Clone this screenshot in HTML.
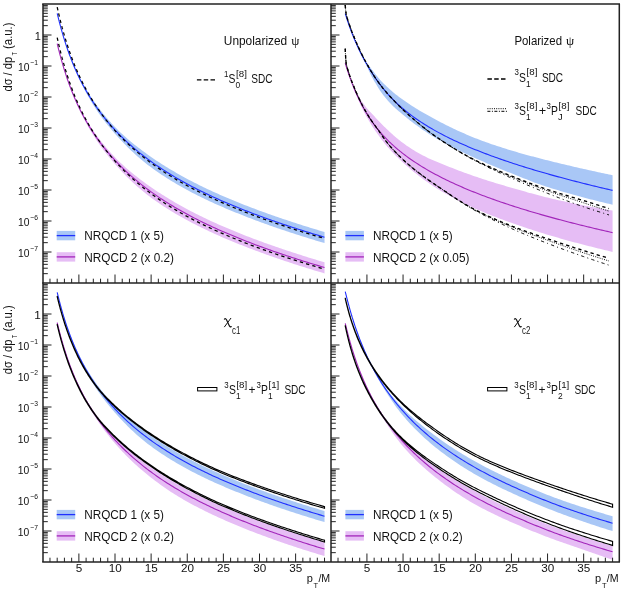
<!DOCTYPE html>
<html><head><meta charset="utf-8"><title>plot</title>
<style>html,body{margin:0;padding:0;background:#fff}svg{display:block;will-change:transform}text{fill:#111}</style></head>
<body><svg width="623" height="590" viewBox="0 0 623 590">
<rect width="623" height="590" fill="#fff"/>
<defs>
<clipPath id="cTL"><rect x="43.0" y="4.0" width="288.0" height="279.0"/></clipPath>
<clipPath id="cTR"><rect x="331.0" y="4.0" width="288.29999999999995" height="279.0"/></clipPath>
<clipPath id="cBL"><rect x="43.0" y="283.0" width="288.0" height="279.0"/></clipPath>
<clipPath id="cBR"><rect x="331.0" y="283.0" width="288.29999999999995" height="279.0"/></clipPath>
</defs>
<g clip-path="url(#cTL)">
<path d="M57.20 13.03 L57.34 13.64 L57.49 14.24 L57.63 14.83 L57.78 15.42 L57.92 16.01 L58.07 16.60 L58.21 17.18 L58.36 17.76 L58.50 18.34 L58.65 18.91 L58.79 19.48 L58.93 20.04 L59.08 20.61 L59.22 21.17 L59.37 21.72 L59.51 22.27 L59.66 22.82 L59.80 23.37 L59.95 23.91 L60.09 24.45 L60.23 24.99 L60.38 25.52 L60.52 26.05 L60.67 26.58 L60.81 27.11 L60.96 27.63 L61.10 28.15 L61.25 28.66 L61.39 29.18 L61.54 29.69 L61.68 30.19 L61.82 30.70 L61.97 31.20 L62.11 31.70 L62.26 32.19 L62.40 32.69 L62.55 33.18 L62.69 33.66 L62.84 34.15 L62.98 34.63 L63.12 35.11 L63.27 35.59 L63.41 36.06 L63.56 36.53 L63.70 37.00 L63.85 37.47 L63.99 37.93 L64.14 38.40 L64.28 38.86 L64.42 39.31 L65.15 41.56 L65.87 43.75 L66.59 45.89 L67.31 47.97 L68.04 50.01 L68.76 51.99 L69.48 53.93 L70.21 55.82 L70.93 57.67 L71.65 59.48 L72.37 61.25 L73.09 62.99 L73.82 64.69 L74.54 66.35 L75.26 67.98 L75.99 69.57 L76.71 71.14 L77.43 72.68 L78.15 74.19 L78.88 75.67 L79.60 77.12 L80.32 78.54 L81.04 79.93 L81.77 81.30 L82.49 82.63 L83.21 83.95 L83.93 85.24 L84.66 86.51 L85.38 87.75 L86.10 88.98 L86.82 90.19 L87.55 91.37 L88.27 92.54 L88.99 93.70 L89.71 94.83 L90.44 95.95 L91.16 97.05 L91.88 98.14 L92.60 99.22 L93.33 100.28 L94.05 101.33 L94.77 102.36 L95.49 103.38 L96.22 104.39 L96.94 105.39 L97.66 106.38 L98.38 107.36 L99.11 108.32 L99.83 109.28 L100.55 110.22 L101.27 111.15 L102.00 112.08 L102.72 112.99 L103.44 113.89 L104.16 114.78 L104.89 115.66 L105.61 116.53 L106.33 117.39 L107.05 118.25 L107.78 119.09 L108.50 119.92 L109.22 120.74 L109.94 121.56 L110.67 122.36 L111.39 123.16 L112.11 123.94 L112.83 124.72 L113.56 125.49 L114.28 126.25 L115.00 127.01 L116.81 128.85 L118.61 130.64 L120.42 132.38 L122.22 134.07 L124.03 135.72 L125.84 137.33 L127.64 138.90 L129.45 140.44 L131.26 141.95 L133.06 143.43 L134.87 144.88 L136.68 146.31 L138.48 147.71 L140.29 149.08 L142.09 150.44 L143.90 151.78 L145.71 153.10 L147.51 154.40 L149.32 155.68 L151.12 156.95 L152.93 158.20 L154.74 159.43 L156.54 160.64 L158.35 161.84 L160.16 163.01 L161.96 164.17 L163.77 165.32 L165.57 166.45 L167.38 167.56 L169.19 168.66 L170.99 169.74 L172.80 170.81 L174.61 171.87 L176.41 172.91 L178.22 173.94 L180.03 174.96 L181.83 175.97 L183.64 176.96 L185.44 177.94 L187.25 178.92 L189.06 179.88 L190.86 180.83 L192.67 181.77 L194.47 182.69 L196.28 183.61 L198.09 184.52 L199.89 185.41 L201.70 186.30 L203.51 187.17 L205.31 188.04 L207.12 188.90 L208.92 189.74 L210.73 190.58 L212.54 191.41 L214.34 192.23 L216.15 193.05 L217.96 193.85 L219.76 194.65 L221.57 195.44 L223.38 196.22 L225.18 196.99 L226.99 197.76 L228.79 198.53 L230.60 199.28 L232.41 200.03 L234.21 200.78 L236.02 201.52 L237.82 202.25 L239.63 202.98 L241.44 203.70 L243.24 204.42 L245.05 205.13 L246.86 205.84 L248.66 206.54 L250.47 207.23 L252.27 207.92 L254.08 208.61 L255.89 209.29 L257.69 209.96 L259.50 210.63 L261.31 211.29 L263.11 211.95 L264.92 212.61 L266.73 213.26 L268.53 213.90 L270.34 214.54 L272.14 215.17 L273.95 215.80 L275.76 216.43 L277.56 217.05 L279.37 217.67 L281.17 218.28 L282.98 218.89 L284.79 219.50 L286.59 220.10 L288.40 220.70 L290.21 221.30 L292.01 221.89 L293.82 222.48 L295.62 223.07 L297.43 223.65 L299.24 224.23 L301.04 224.81 L302.85 225.38 L304.66 225.95 L306.46 226.52 L308.27 227.08 L310.07 227.64 L311.88 228.19 L313.69 228.75 L315.49 229.29 L317.30 229.84 L319.11 230.38 L320.91 230.92 L322.72 231.46 L324.52 231.99 L324.52 243.09 L322.72 242.56 L320.91 242.02 L319.11 241.48 L317.30 240.94 L315.49 240.39 L313.69 239.85 L311.88 239.29 L310.07 238.74 L308.27 238.18 L306.46 237.62 L304.66 237.05 L302.85 236.48 L301.04 235.91 L299.24 235.33 L297.43 234.75 L295.62 234.17 L293.82 233.58 L292.01 232.99 L290.21 232.40 L288.40 231.80 L286.59 231.20 L284.79 230.60 L282.98 229.99 L281.17 229.38 L279.37 228.77 L277.56 228.15 L275.76 227.53 L273.95 226.90 L272.14 226.27 L270.34 225.64 L268.53 225.00 L266.73 224.36 L264.92 223.71 L263.11 223.05 L261.31 222.39 L259.50 221.73 L257.69 221.06 L255.89 220.39 L254.08 219.71 L252.27 219.02 L250.47 218.34 L248.66 217.64 L246.86 216.94 L245.05 216.24 L243.24 215.53 L241.44 214.81 L239.63 214.09 L237.82 213.37 L236.02 212.64 L234.21 211.90 L232.41 211.16 L230.60 210.41 L228.79 209.65 L226.99 208.89 L225.18 208.13 L223.38 207.36 L221.57 206.58 L219.76 205.79 L217.96 204.99 L216.15 204.19 L214.34 203.38 L212.54 202.56 L210.73 201.73 L208.92 200.89 L207.12 200.04 L205.31 199.19 L203.51 198.32 L201.70 197.44 L199.89 196.55 L198.09 195.65 L196.28 194.74 L194.47 193.82 L192.67 192.89 L190.86 191.94 L189.06 190.99 L187.25 190.02 L185.44 189.03 L183.64 188.04 L181.83 187.02 L180.03 186.00 L178.22 184.96 L176.41 183.91 L174.61 182.84 L172.80 181.75 L170.99 180.65 L169.19 179.53 L167.38 178.40 L165.57 177.25 L163.77 176.08 L161.96 174.89 L160.16 173.68 L158.35 172.46 L156.54 171.21 L154.74 169.94 L152.93 168.66 L151.12 167.35 L149.32 166.01 L147.51 164.64 L145.71 163.23 L143.90 161.79 L142.09 160.31 L140.29 158.79 L138.48 157.24 L136.68 155.65 L134.87 154.02 L133.06 152.36 L131.26 150.66 L129.45 148.92 L127.64 147.14 L125.84 145.33 L124.03 143.48 L122.22 141.59 L120.42 139.67 L118.61 137.71 L116.81 135.73 L115.00 133.71 L114.28 132.89 L113.56 132.06 L112.83 131.23 L112.11 130.39 L111.39 129.55 L110.67 128.69 L109.94 127.83 L109.22 126.96 L108.50 126.08 L107.78 125.19 L107.05 124.30 L106.33 123.39 L105.61 122.47 L104.89 121.55 L104.16 120.61 L103.44 119.66 L102.72 118.70 L102.00 117.73 L101.27 116.75 L100.55 115.76 L99.83 114.75 L99.11 113.73 L98.38 112.70 L97.66 111.65 L96.94 110.59 L96.22 109.52 L95.49 108.43 L94.77 107.32 L94.05 106.19 L93.33 105.05 L92.60 103.90 L91.88 102.72 L91.16 101.53 L90.44 100.32 L89.71 99.10 L88.99 97.85 L88.27 96.59 L87.55 95.31 L86.82 94.01 L86.10 92.69 L85.38 91.35 L84.66 89.99 L83.93 88.61 L83.21 87.21 L82.49 85.79 L81.77 84.34 L81.04 82.88 L80.32 81.40 L79.60 79.89 L78.88 78.37 L78.15 76.81 L77.43 75.23 L76.71 73.62 L75.99 71.98 L75.26 70.31 L74.54 68.60 L73.82 66.86 L73.09 65.08 L72.37 63.27 L71.65 61.42 L70.93 59.52 L70.21 57.59 L69.48 55.61 L68.76 53.59 L68.04 51.53 L67.31 49.41 L66.59 47.24 L65.87 45.03 L65.15 42.76 L64.42 40.43 L64.28 39.96 L64.14 39.48 L63.99 39.00 L63.85 38.52 L63.70 38.04 L63.56 37.56 L63.41 37.07 L63.27 36.58 L63.12 36.09 L62.98 35.60 L62.84 35.10 L62.69 34.60 L62.55 34.10 L62.40 33.59 L62.26 33.09 L62.11 32.58 L61.97 32.07 L61.82 31.55 L61.68 31.03 L61.54 30.51 L61.39 29.99 L61.25 29.47 L61.10 28.94 L60.96 28.41 L60.81 27.87 L60.67 27.34 L60.52 26.80 L60.38 26.26 L60.23 25.71 L60.09 25.17 L59.95 24.62 L59.80 24.06 L59.66 23.51 L59.51 22.95 L59.37 22.39 L59.22 21.83 L59.08 21.26 L58.93 20.69 L58.79 20.12 L58.65 19.54 L58.50 18.96 L58.36 18.38 L58.21 17.80 L58.07 17.21 L57.92 16.62 L57.78 16.03 L57.63 15.43 L57.49 14.84 L57.34 14.24 L57.20 13.63 Z" fill="#a9c7f6" stroke="none"/>
<path d="M57.20 13.33 L57.34 13.94 L57.49 14.54 L57.63 15.13 L57.78 15.73 L57.92 16.32 L58.07 16.91 L58.21 17.49 L58.36 18.07 L58.50 18.65 L58.65 19.23 L58.79 19.80 L58.93 20.37 L59.08 20.93 L59.22 21.50 L59.37 22.05 L59.51 22.61 L59.66 23.17 L59.80 23.72 L59.95 24.26 L60.09 24.81 L60.23 25.35 L60.38 25.89 L60.52 26.43 L60.67 26.96 L60.81 27.49 L60.96 28.02 L61.10 28.54 L61.25 29.06 L61.39 29.58 L61.54 30.10 L61.68 30.61 L61.82 31.12 L61.97 31.63 L62.11 32.13 L62.26 32.64 L62.40 33.14 L62.55 33.63 L62.69 34.13 L62.84 34.62 L62.98 35.11 L63.12 35.59 L63.27 36.08 L63.41 36.56 L63.56 37.04 L63.70 37.52 L63.85 37.99 L63.99 38.46 L64.14 38.93 L64.28 39.40 L64.42 39.86 L65.15 42.15 L65.87 44.38 L66.59 46.55 L67.31 48.68 L68.04 50.75 L68.76 52.77 L69.48 54.75 L70.21 56.68 L70.93 58.57 L71.65 60.42 L72.37 62.23 L73.09 64.00 L73.82 65.74 L74.54 67.44 L75.26 69.10 L75.99 70.74 L76.71 72.34 L77.43 73.91 L78.15 75.45 L78.88 76.97 L79.60 78.45 L80.32 79.91 L81.04 81.35 L81.77 82.75 L82.49 84.14 L83.21 85.50 L83.93 86.84 L84.66 88.16 L85.38 89.46 L86.10 90.73 L86.82 91.99 L87.55 93.23 L88.27 94.45 L88.99 95.65 L89.71 96.83 L90.44 98.00 L91.16 99.15 L91.88 100.28 L92.60 101.40 L93.33 102.50 L94.05 103.59 L94.77 104.66 L95.49 105.72 L96.22 106.76 L96.94 107.79 L97.66 108.81 L98.38 109.82 L99.11 110.81 L99.83 111.79 L100.55 112.76 L101.27 113.72 L102.00 114.66 L102.72 115.60 L103.44 116.52 L104.16 117.43 L104.89 118.34 L105.61 119.23 L106.33 120.11 L107.05 120.99 L107.78 121.85 L108.50 122.70 L109.22 123.55 L109.94 124.39 L110.67 125.21 L111.39 126.03 L112.11 126.84 L112.83 127.65 L113.56 128.44 L114.28 129.23 L115.00 130.01 L116.81 131.92 L118.61 133.79 L120.42 135.62 L122.22 137.40 L124.03 139.15 L125.84 140.86 L127.64 142.53 L129.45 144.17 L131.26 145.77 L133.06 147.34 L134.87 148.88 L136.68 150.39 L138.48 151.88 L140.29 153.33 L142.09 154.76 L143.90 156.17 L145.71 157.55 L147.51 158.90 L149.32 160.24 L151.12 161.55 L152.93 162.84 L154.74 164.11 L156.54 165.36 L158.35 166.58 L160.16 167.79 L161.96 168.99 L163.77 170.16 L165.57 171.32 L167.38 172.46 L169.19 173.58 L170.99 174.69 L172.80 175.78 L174.61 176.86 L176.41 177.92 L178.22 178.97 L180.03 180.01 L181.83 181.03 L183.64 182.04 L185.44 183.03 L187.25 184.02 L189.06 184.99 L190.86 185.95 L192.67 186.89 L194.47 187.83 L196.28 188.76 L198.09 189.67 L199.89 190.58 L201.70 191.47 L203.51 192.35 L205.31 193.23 L207.12 194.09 L208.92 194.95 L210.73 195.79 L212.54 196.63 L214.34 197.46 L216.15 198.28 L217.96 199.09 L219.76 199.89 L221.57 200.68 L223.38 201.47 L225.18 202.25 L226.99 203.02 L228.79 203.79 L230.60 204.55 L232.41 205.31 L234.21 206.05 L236.02 206.80 L237.82 207.53 L239.63 208.27 L241.44 208.99 L243.24 209.71 L245.05 210.42 L246.86 211.13 L248.66 211.83 L250.47 212.53 L252.27 213.22 L254.08 213.91 L255.89 214.59 L257.69 215.26 L259.50 215.93 L261.31 216.59 L263.11 217.25 L264.92 217.91 L266.73 218.55 L268.53 219.20 L270.34 219.84 L272.14 220.47 L273.95 221.10 L275.76 221.72 L277.56 222.34 L279.37 222.96 L281.17 223.57 L282.98 224.18 L284.79 224.78 L286.59 225.38 L288.40 225.98 L290.21 226.57 L292.01 227.17 L293.82 227.75 L295.62 228.33 L297.43 228.91 L299.24 229.49 L301.04 230.06 L302.85 230.63 L304.66 231.20 L306.46 231.76 L308.27 232.32 L310.07 232.87 L311.88 233.42 L313.69 233.97 L315.49 234.52 L317.30 235.06 L319.11 235.60 L320.91 236.13 L322.72 236.66 L324.52 237.19" fill="none" stroke="#2030ff" stroke-width="1.1" />
<path d="M57.20 43.33 L57.34 43.94 L57.49 44.54 L57.63 45.13 L57.78 45.72 L57.92 46.31 L58.07 46.90 L58.21 47.48 L58.36 48.06 L58.50 48.64 L58.65 49.21 L58.79 49.78 L58.93 50.34 L59.08 50.91 L59.22 51.47 L59.37 52.02 L59.51 52.57 L59.66 53.12 L59.80 53.67 L59.95 54.21 L60.09 54.75 L60.23 55.29 L60.38 55.82 L60.52 56.35 L60.67 56.88 L60.81 57.41 L60.96 57.93 L61.10 58.45 L61.25 58.96 L61.39 59.48 L61.54 59.99 L61.68 60.49 L61.82 61.00 L61.97 61.50 L62.11 62.00 L62.26 62.49 L62.40 62.99 L62.55 63.48 L62.69 63.96 L62.84 64.45 L62.98 64.93 L63.12 65.41 L63.27 65.89 L63.41 66.36 L63.56 66.83 L63.70 67.30 L63.85 67.77 L63.99 68.23 L64.14 68.70 L64.28 69.16 L64.42 69.61 L65.15 71.86 L65.87 74.05 L66.59 76.19 L67.31 78.27 L68.04 80.31 L68.76 82.29 L69.48 84.23 L70.21 86.12 L70.93 87.97 L71.65 89.78 L72.37 91.55 L73.09 93.29 L73.82 94.99 L74.54 96.65 L75.26 98.28 L75.99 99.87 L76.71 101.44 L77.43 102.98 L78.15 104.49 L78.88 105.97 L79.60 107.42 L80.32 108.84 L81.04 110.23 L81.77 111.60 L82.49 112.93 L83.21 114.25 L83.93 115.54 L84.66 116.81 L85.38 118.05 L86.10 119.28 L86.82 120.49 L87.55 121.67 L88.27 122.84 L88.99 124.00 L89.71 125.13 L90.44 126.25 L91.16 127.35 L91.88 128.44 L92.60 129.52 L93.33 130.58 L94.05 131.63 L94.77 132.66 L95.49 133.68 L96.22 134.69 L96.94 135.69 L97.66 136.68 L98.38 137.66 L99.11 138.62 L99.83 139.58 L100.55 140.52 L101.27 141.45 L102.00 142.38 L102.72 143.29 L103.44 144.19 L104.16 145.08 L104.89 145.96 L105.61 146.83 L106.33 147.69 L107.05 148.55 L107.78 149.39 L108.50 150.22 L109.22 151.04 L109.94 151.86 L110.67 152.66 L111.39 153.46 L112.11 154.24 L112.83 155.02 L113.56 155.79 L114.28 156.55 L115.00 157.31 L116.81 159.15 L118.61 160.94 L120.42 162.68 L122.22 164.37 L124.03 166.02 L125.84 167.63 L127.64 169.20 L129.45 170.74 L131.26 172.25 L133.06 173.73 L134.87 175.18 L136.68 176.61 L138.48 178.01 L140.29 179.38 L142.09 180.74 L143.90 182.08 L145.71 183.40 L147.51 184.70 L149.32 185.98 L151.12 187.25 L152.93 188.50 L154.74 189.73 L156.54 190.94 L158.35 192.14 L160.16 193.31 L161.96 194.47 L163.77 195.62 L165.57 196.75 L167.38 197.86 L169.19 198.96 L170.99 200.04 L172.80 201.11 L174.61 202.17 L176.41 203.21 L178.22 204.24 L180.03 205.26 L181.83 206.27 L183.64 207.26 L185.44 208.24 L187.25 209.22 L189.06 210.18 L190.86 211.13 L192.67 212.07 L194.47 212.99 L196.28 213.91 L198.09 214.82 L199.89 215.71 L201.70 216.60 L203.51 217.47 L205.31 218.34 L207.12 219.20 L208.92 220.04 L210.73 220.88 L212.54 221.71 L214.34 222.53 L216.15 223.35 L217.96 224.15 L219.76 224.95 L221.57 225.74 L223.38 226.52 L225.18 227.29 L226.99 228.06 L228.79 228.83 L230.60 229.58 L232.41 230.33 L234.21 231.08 L236.02 231.82 L237.82 232.55 L239.63 233.28 L241.44 234.00 L243.24 234.72 L245.05 235.43 L246.86 236.14 L248.66 236.84 L250.47 237.53 L252.27 238.22 L254.08 238.91 L255.89 239.59 L257.69 240.26 L259.50 240.93 L261.31 241.59 L263.11 242.25 L264.92 242.91 L266.73 243.56 L268.53 244.20 L270.34 244.84 L272.14 245.47 L273.95 246.10 L275.76 246.73 L277.56 247.35 L279.37 247.97 L281.17 248.58 L282.98 249.19 L284.79 249.80 L286.59 250.40 L288.40 251.00 L290.21 251.60 L292.01 252.19 L293.82 252.78 L295.62 253.37 L297.43 253.95 L299.24 254.53 L301.04 255.11 L302.85 255.68 L304.66 256.25 L306.46 256.82 L308.27 257.38 L310.07 257.94 L311.88 258.49 L313.69 259.05 L315.49 259.59 L317.30 260.14 L319.11 260.68 L320.91 261.22 L322.72 261.76 L324.52 262.29 L324.52 273.39 L322.72 272.86 L320.91 272.32 L319.11 271.78 L317.30 271.24 L315.49 270.69 L313.69 270.15 L311.88 269.59 L310.07 269.04 L308.27 268.48 L306.46 267.92 L304.66 267.35 L302.85 266.78 L301.04 266.21 L299.24 265.63 L297.43 265.05 L295.62 264.47 L293.82 263.88 L292.01 263.29 L290.21 262.70 L288.40 262.10 L286.59 261.50 L284.79 260.90 L282.98 260.29 L281.17 259.68 L279.37 259.07 L277.56 258.45 L275.76 257.83 L273.95 257.20 L272.14 256.57 L270.34 255.94 L268.53 255.30 L266.73 254.66 L264.92 254.01 L263.11 253.35 L261.31 252.69 L259.50 252.03 L257.69 251.36 L255.89 250.69 L254.08 250.01 L252.27 249.32 L250.47 248.64 L248.66 247.94 L246.86 247.24 L245.05 246.54 L243.24 245.83 L241.44 245.11 L239.63 244.39 L237.82 243.67 L236.02 242.94 L234.21 242.20 L232.41 241.46 L230.60 240.71 L228.79 239.95 L226.99 239.19 L225.18 238.43 L223.38 237.66 L221.57 236.88 L219.76 236.09 L217.96 235.29 L216.15 234.49 L214.34 233.68 L212.54 232.86 L210.73 232.03 L208.92 231.19 L207.12 230.34 L205.31 229.49 L203.51 228.62 L201.70 227.74 L199.89 226.85 L198.09 225.95 L196.28 225.04 L194.47 224.12 L192.67 223.19 L190.86 222.24 L189.06 221.29 L187.25 220.32 L185.44 219.33 L183.64 218.34 L181.83 217.32 L180.03 216.30 L178.22 215.26 L176.41 214.21 L174.61 213.14 L172.80 212.05 L170.99 210.95 L169.19 209.83 L167.38 208.70 L165.57 207.55 L163.77 206.38 L161.96 205.19 L160.16 203.98 L158.35 202.76 L156.54 201.51 L154.74 200.24 L152.93 198.96 L151.12 197.65 L149.32 196.31 L147.51 194.94 L145.71 193.53 L143.90 192.09 L142.09 190.61 L140.29 189.09 L138.48 187.54 L136.68 185.95 L134.87 184.32 L133.06 182.66 L131.26 180.96 L129.45 179.22 L127.64 177.44 L125.84 175.63 L124.03 173.78 L122.22 171.89 L120.42 169.97 L118.61 168.01 L116.81 166.03 L115.00 164.01 L114.28 163.19 L113.56 162.36 L112.83 161.53 L112.11 160.69 L111.39 159.85 L110.67 158.99 L109.94 158.13 L109.22 157.26 L108.50 156.38 L107.78 155.49 L107.05 154.60 L106.33 153.69 L105.61 152.77 L104.89 151.85 L104.16 150.91 L103.44 149.96 L102.72 149.00 L102.00 148.03 L101.27 147.05 L100.55 146.06 L99.83 145.05 L99.11 144.03 L98.38 143.00 L97.66 141.95 L96.94 140.89 L96.22 139.82 L95.49 138.73 L94.77 137.62 L94.05 136.49 L93.33 135.35 L92.60 134.20 L91.88 133.02 L91.16 131.83 L90.44 130.62 L89.71 129.40 L88.99 128.15 L88.27 126.89 L87.55 125.61 L86.82 124.31 L86.10 122.99 L85.38 121.65 L84.66 120.29 L83.93 118.91 L83.21 117.51 L82.49 116.09 L81.77 114.64 L81.04 113.18 L80.32 111.70 L79.60 110.19 L78.88 108.67 L78.15 107.11 L77.43 105.53 L76.71 103.92 L75.99 102.28 L75.26 100.61 L74.54 98.90 L73.82 97.16 L73.09 95.38 L72.37 93.57 L71.65 91.72 L70.93 89.82 L70.21 87.89 L69.48 85.91 L68.76 83.89 L68.04 81.83 L67.31 79.71 L66.59 77.54 L65.87 75.33 L65.15 73.06 L64.42 70.73 L64.28 70.26 L64.14 69.78 L63.99 69.30 L63.85 68.82 L63.70 68.34 L63.56 67.86 L63.41 67.37 L63.27 66.88 L63.12 66.39 L62.98 65.90 L62.84 65.40 L62.69 64.90 L62.55 64.40 L62.40 63.89 L62.26 63.39 L62.11 62.88 L61.97 62.37 L61.82 61.85 L61.68 61.33 L61.54 60.81 L61.39 60.29 L61.25 59.77 L61.10 59.24 L60.96 58.71 L60.81 58.17 L60.67 57.64 L60.52 57.10 L60.38 56.56 L60.23 56.01 L60.09 55.47 L59.95 54.92 L59.80 54.36 L59.66 53.81 L59.51 53.25 L59.37 52.69 L59.22 52.13 L59.08 51.56 L58.93 50.99 L58.79 50.42 L58.65 49.84 L58.50 49.26 L58.36 48.68 L58.21 48.10 L58.07 47.51 L57.92 46.92 L57.78 46.33 L57.63 45.73 L57.49 45.14 L57.34 44.54 L57.20 43.93 Z" fill="#e6bdf5" stroke="none"/>
<path d="M57.20 43.63 L57.34 44.24 L57.49 44.84 L57.63 45.43 L57.78 46.03 L57.92 46.62 L58.07 47.21 L58.21 47.79 L58.36 48.37 L58.50 48.95 L58.65 49.53 L58.79 50.10 L58.93 50.67 L59.08 51.23 L59.22 51.80 L59.37 52.35 L59.51 52.91 L59.66 53.47 L59.80 54.02 L59.95 54.56 L60.09 55.11 L60.23 55.65 L60.38 56.19 L60.52 56.73 L60.67 57.26 L60.81 57.79 L60.96 58.32 L61.10 58.84 L61.25 59.36 L61.39 59.88 L61.54 60.40 L61.68 60.91 L61.82 61.42 L61.97 61.93 L62.11 62.43 L62.26 62.94 L62.40 63.44 L62.55 63.93 L62.69 64.43 L62.84 64.92 L62.98 65.41 L63.12 65.89 L63.27 66.38 L63.41 66.86 L63.56 67.34 L63.70 67.82 L63.85 68.29 L63.99 68.76 L64.14 69.23 L64.28 69.70 L64.42 70.16 L65.15 72.45 L65.87 74.68 L66.59 76.85 L67.31 78.98 L68.04 81.05 L68.76 83.07 L69.48 85.05 L70.21 86.98 L70.93 88.87 L71.65 90.72 L72.37 92.53 L73.09 94.30 L73.82 96.04 L74.54 97.74 L75.26 99.40 L75.99 101.04 L76.71 102.64 L77.43 104.21 L78.15 105.75 L78.88 107.27 L79.60 108.75 L80.32 110.21 L81.04 111.65 L81.77 113.05 L82.49 114.44 L83.21 115.80 L83.93 117.14 L84.66 118.46 L85.38 119.76 L86.10 121.03 L86.82 122.29 L87.55 123.53 L88.27 124.75 L88.99 125.95 L89.71 127.13 L90.44 128.30 L91.16 129.45 L91.88 130.58 L92.60 131.70 L93.33 132.80 L94.05 133.89 L94.77 134.96 L95.49 136.02 L96.22 137.06 L96.94 138.09 L97.66 139.11 L98.38 140.12 L99.11 141.11 L99.83 142.09 L100.55 143.06 L101.27 144.02 L102.00 144.96 L102.72 145.90 L103.44 146.82 L104.16 147.73 L104.89 148.64 L105.61 149.53 L106.33 150.41 L107.05 151.29 L107.78 152.15 L108.50 153.00 L109.22 153.85 L109.94 154.69 L110.67 155.51 L111.39 156.33 L112.11 157.14 L112.83 157.95 L113.56 158.74 L114.28 159.53 L115.00 160.31 L116.81 162.22 L118.61 164.09 L120.42 165.92 L122.22 167.70 L124.03 169.45 L125.84 171.16 L127.64 172.83 L129.45 174.47 L131.26 176.07 L133.06 177.64 L134.87 179.18 L136.68 180.69 L138.48 182.18 L140.29 183.63 L142.09 185.06 L143.90 186.47 L145.71 187.85 L147.51 189.20 L149.32 190.54 L151.12 191.85 L152.93 193.14 L154.74 194.41 L156.54 195.66 L158.35 196.88 L160.16 198.09 L161.96 199.29 L163.77 200.46 L165.57 201.62 L167.38 202.76 L169.19 203.88 L170.99 204.99 L172.80 206.08 L174.61 207.16 L176.41 208.22 L178.22 209.27 L180.03 210.31 L181.83 211.33 L183.64 212.34 L185.44 213.33 L187.25 214.32 L189.06 215.29 L190.86 216.25 L192.67 217.19 L194.47 218.13 L196.28 219.06 L198.09 219.97 L199.89 220.88 L201.70 221.77 L203.51 222.65 L205.31 223.53 L207.12 224.39 L208.92 225.25 L210.73 226.09 L212.54 226.93 L214.34 227.76 L216.15 228.58 L217.96 229.39 L219.76 230.19 L221.57 230.98 L223.38 231.77 L225.18 232.55 L226.99 233.32 L228.79 234.09 L230.60 234.85 L232.41 235.61 L234.21 236.35 L236.02 237.10 L237.82 237.83 L239.63 238.57 L241.44 239.29 L243.24 240.01 L245.05 240.72 L246.86 241.43 L248.66 242.13 L250.47 242.83 L252.27 243.52 L254.08 244.21 L255.89 244.89 L257.69 245.56 L259.50 246.23 L261.31 246.89 L263.11 247.55 L264.92 248.21 L266.73 248.85 L268.53 249.50 L270.34 250.14 L272.14 250.77 L273.95 251.40 L275.76 252.02 L277.56 252.64 L279.37 253.26 L281.17 253.87 L282.98 254.48 L284.79 255.08 L286.59 255.68 L288.40 256.28 L290.21 256.87 L292.01 257.47 L293.82 258.05 L295.62 258.63 L297.43 259.21 L299.24 259.79 L301.04 260.36 L302.85 260.93 L304.66 261.50 L306.46 262.06 L308.27 262.62 L310.07 263.17 L311.88 263.72 L313.69 264.27 L315.49 264.82 L317.30 265.36 L319.11 265.90 L320.91 266.43 L322.72 266.96 L324.52 267.49" fill="none" stroke="#a226ba" stroke-width="1.1" />
<path d="M57.20 7.13 L57.34 7.79 L57.49 8.44 L57.63 9.09 L57.78 9.73 L57.92 10.37 L58.07 11.01 L58.21 11.64 L58.36 12.27 L58.50 12.89 L58.65 13.51 L58.79 14.13 L58.93 14.75 L59.08 15.36 L59.22 15.96 L59.37 16.57 L59.51 17.17 L59.66 17.76 L59.80 18.36 L59.95 18.95 L60.09 19.53 L60.23 20.12 L60.38 20.70 L60.52 21.27 L60.67 21.84 L60.81 22.41 L60.96 22.98 L61.10 23.54 L61.25 24.10 L61.39 24.66 L61.54 25.21 L61.68 25.76 L61.82 26.31 L61.97 26.86 L62.11 27.40 L62.26 27.93 L62.40 28.47 L62.55 29.00 L62.69 29.53 L62.84 30.06 L62.98 30.58 L63.12 31.10 L63.27 31.62 L63.41 32.13 L63.56 32.64 L63.70 33.15 L63.85 33.66 L63.99 34.16 L64.14 34.66 L64.28 35.16 L64.42 35.66 L65.15 38.10 L65.87 40.47 L66.59 42.79 L67.31 45.05 L68.04 47.25 L68.76 49.40 L69.48 51.50 L70.21 53.55 L70.93 55.55 L71.65 57.51 L72.37 59.42 L73.09 61.29 L73.82 63.13 L74.54 64.92 L75.26 66.68 L75.99 68.40 L76.71 70.09 L77.43 71.75 L78.15 73.37 L78.88 74.97 L79.60 76.53 L80.32 78.06 L81.04 79.57 L81.77 81.05 L82.49 82.50 L83.21 83.93 L83.93 85.34 L84.66 86.72 L85.38 88.08 L86.10 89.42 L86.82 90.74 L87.55 92.03 L88.27 93.31 L88.99 94.57 L89.71 95.81 L90.44 97.03 L91.16 98.23 L91.88 99.42 L92.60 100.59 L93.33 101.74 L94.05 102.88 L94.77 104.01 L95.49 105.12 L96.22 106.21 L96.94 107.29 L97.66 108.36 L98.38 109.42 L99.11 110.46 L99.83 111.50 L100.55 112.52 L101.27 113.53 L102.00 114.53 L102.72 115.51 L103.44 116.49 L104.16 117.45 L104.89 118.41 L105.61 119.35 L106.33 120.28 L107.05 121.20 L107.78 122.11 L108.50 123.00 L109.22 123.89 L109.94 124.77 L110.67 125.63 L111.39 126.49 L112.11 127.33 L112.83 128.16 L113.56 128.99 L114.28 129.80 L115.00 130.61 L116.81 132.58 L118.61 134.51 L120.42 136.39 L122.22 138.23 L124.03 140.03 L125.84 141.78 L127.64 143.50 L129.45 145.19 L131.26 146.84 L133.06 148.45 L134.87 150.04 L136.68 151.59 L138.48 153.11 L140.29 154.60 L142.09 156.07 L143.90 157.51 L145.71 158.92 L147.51 160.30 L149.32 161.67 L151.12 163.00 L152.93 164.32 L154.74 165.61 L156.54 166.88 L158.35 168.13 L160.16 169.36 L161.96 170.57 L163.77 171.76 L165.57 172.93 L167.38 174.09 L169.19 175.22 L170.99 176.34 L172.80 177.45 L174.61 178.53 L176.41 179.60 L178.22 180.66 L180.03 181.70 L181.83 182.72 L183.64 183.74 L185.44 184.73 L187.25 185.72 L189.06 186.69 L190.86 187.65 L192.67 188.59 L194.47 189.53 L196.28 190.46 L198.09 191.37 L199.89 192.27 L201.70 193.17 L203.51 194.05 L205.31 194.92 L207.12 195.79 L208.92 196.64 L210.73 197.48 L212.54 198.32 L214.34 199.15 L216.15 199.96 L217.96 200.77 L219.76 201.57 L221.57 202.37 L223.38 203.15 L225.18 203.93 L226.99 204.70 L228.79 205.46 L230.60 206.22 L232.41 206.97 L234.21 207.72 L236.02 208.46 L237.82 209.19 L239.63 209.92 L241.44 210.64 L243.24 211.35 L245.05 212.06 L246.86 212.76 L248.66 213.46 L250.47 214.15 L252.27 214.84 L254.08 215.52 L255.89 216.20 L257.69 216.86 L259.50 217.53 L261.31 218.19 L263.11 218.84 L264.92 219.49 L266.73 220.13 L268.53 220.77 L270.34 221.40 L272.14 222.02 L273.95 222.64 L275.76 223.26 L277.56 223.87 L279.37 224.48 L281.17 225.09 L282.98 225.69 L284.79 226.29 L286.59 226.88 L288.40 227.47 L290.21 228.06 L292.01 228.64 L293.82 229.22 L295.62 229.79 L297.43 230.36 L299.24 230.93 L301.04 231.49 L302.85 232.05 L304.66 232.61 L306.46 233.16 L308.27 233.71 L310.07 234.25 L311.88 234.80 L313.69 235.33 L315.49 235.87 L317.30 236.40 L319.11 236.93 L320.91 237.45 L322.72 237.97 L324.52 238.49" fill="none" stroke="#000" stroke-width="1.25" stroke-dasharray="3.3 3.2" />
<path d="M57.20 37.63 L57.34 38.29 L57.49 38.94 L57.63 39.59 L57.78 40.23 L57.92 40.87 L58.07 41.51 L58.21 42.14 L58.36 42.77 L58.50 43.39 L58.65 44.01 L58.79 44.63 L58.93 45.25 L59.08 45.86 L59.22 46.46 L59.37 47.07 L59.51 47.67 L59.66 48.26 L59.80 48.86 L59.95 49.45 L60.09 50.03 L60.23 50.62 L60.38 51.20 L60.52 51.77 L60.67 52.34 L60.81 52.91 L60.96 53.48 L61.10 54.04 L61.25 54.60 L61.39 55.16 L61.54 55.71 L61.68 56.26 L61.82 56.81 L61.97 57.36 L62.11 57.90 L62.26 58.43 L62.40 58.97 L62.55 59.50 L62.69 60.03 L62.84 60.56 L62.98 61.08 L63.12 61.60 L63.27 62.12 L63.41 62.63 L63.56 63.14 L63.70 63.65 L63.85 64.16 L63.99 64.66 L64.14 65.16 L64.28 65.66 L64.42 66.16 L65.15 68.60 L65.87 70.97 L66.59 73.29 L67.31 75.55 L68.04 77.75 L68.76 79.90 L69.48 82.00 L70.21 84.05 L70.93 86.05 L71.65 88.01 L72.37 89.92 L73.09 91.79 L73.82 93.63 L74.54 95.42 L75.26 97.18 L75.99 98.90 L76.71 100.59 L77.43 102.25 L78.15 103.87 L78.88 105.47 L79.60 107.03 L80.32 108.56 L81.04 110.07 L81.77 111.55 L82.49 113.00 L83.21 114.43 L83.93 115.84 L84.66 117.22 L85.38 118.58 L86.10 119.92 L86.82 121.24 L87.55 122.53 L88.27 123.81 L88.99 125.07 L89.71 126.31 L90.44 127.53 L91.16 128.73 L91.88 129.92 L92.60 131.09 L93.33 132.24 L94.05 133.38 L94.77 134.51 L95.49 135.62 L96.22 136.71 L96.94 137.79 L97.66 138.86 L98.38 139.92 L99.11 140.96 L99.83 141.99 L100.55 143.02 L101.27 144.02 L102.00 145.02 L102.72 146.01 L103.44 146.98 L104.16 147.94 L104.89 148.89 L105.61 149.83 L106.33 150.76 L107.05 151.68 L107.78 152.59 L108.50 153.49 L109.22 154.37 L109.94 155.25 L110.67 156.12 L111.39 156.97 L112.11 157.82 L112.83 158.65 L113.56 159.48 L114.28 160.30 L115.00 161.11 L116.81 163.09 L118.61 165.03 L120.42 166.92 L122.22 168.77 L124.03 170.58 L125.84 172.35 L127.64 174.08 L129.45 175.78 L131.26 177.44 L133.06 179.07 L134.87 180.66 L136.68 182.22 L138.48 183.76 L140.29 185.26 L142.09 186.74 L143.90 188.18 L145.71 189.61 L147.51 191.00 L149.32 192.37 L151.12 193.72 L152.93 195.04 L154.74 196.34 L156.54 197.62 L158.35 198.88 L160.16 200.11 L161.96 201.33 L163.77 202.53 L165.57 203.70 L167.38 204.86 L169.19 206.00 L170.99 207.13 L172.80 208.23 L174.61 209.32 L176.41 210.40 L178.22 211.45 L180.03 212.50 L181.83 213.52 L183.64 214.53 L185.44 215.53 L187.25 216.52 L189.06 217.49 L190.86 218.45 L192.67 219.39 L194.47 220.33 L196.28 221.25 L198.09 222.17 L199.89 223.07 L201.70 223.96 L203.51 224.85 L205.31 225.72 L207.12 226.58 L208.92 227.43 L210.73 228.28 L212.54 229.11 L214.34 229.93 L216.15 230.75 L217.96 231.56 L219.76 232.36 L221.57 233.15 L223.38 233.93 L225.18 234.71 L226.99 235.47 L228.79 236.24 L230.60 236.99 L232.41 237.74 L234.21 238.48 L236.02 239.22 L237.82 239.95 L239.63 240.68 L241.44 241.40 L243.24 242.11 L245.05 242.82 L246.86 243.52 L248.66 244.21 L250.47 244.90 L252.27 245.58 L254.08 246.26 L255.89 246.93 L257.69 247.60 L259.50 248.26 L261.31 248.92 L263.11 249.57 L264.92 250.21 L266.73 250.85 L268.53 251.48 L270.34 252.11 L272.14 252.73 L273.95 253.35 L275.76 253.97 L277.56 254.57 L279.37 255.18 L281.17 255.78 L282.98 256.38 L284.79 256.97 L286.59 257.56 L288.40 258.15 L290.21 258.73 L292.01 259.31 L293.82 259.88 L295.62 260.45 L297.43 261.02 L299.24 261.58 L301.04 262.14 L302.85 262.70 L304.66 263.25 L306.46 263.80 L308.27 264.35 L310.07 264.89 L311.88 265.42 L313.69 265.96 L315.49 266.49 L317.30 267.02 L319.11 267.54 L320.91 268.06 L322.72 268.58 L324.52 269.09" fill="none" stroke="#000" stroke-width="1.25" stroke-dasharray="3.3 3.2" />
</g>
<g clip-path="url(#cTR)">
<path d="M345.25 13.25 L345.39 13.73 L345.54 14.20 L345.68 14.67 L345.83 15.14 L345.97 15.61 L346.12 16.07 L346.26 16.53 L346.41 16.99 L346.55 17.44 L346.69 17.90 L346.84 18.35 L346.98 18.79 L347.13 19.24 L347.27 19.68 L347.42 20.12 L347.56 20.56 L347.71 20.99 L347.85 21.42 L348.00 21.85 L348.14 22.28 L348.28 22.70 L348.43 23.13 L348.57 23.55 L348.72 23.96 L348.86 24.38 L349.01 24.79 L349.15 25.20 L349.30 25.61 L349.44 26.02 L349.59 26.42 L349.73 26.83 L349.87 27.23 L350.02 27.63 L350.16 28.02 L350.31 28.42 L350.45 28.81 L350.60 29.20 L350.74 29.59 L350.89 29.97 L351.03 30.36 L351.17 30.74 L351.32 31.12 L351.46 31.50 L351.61 31.88 L351.75 32.25 L351.90 32.62 L352.04 33.00 L352.19 33.36 L352.33 33.73 L352.48 34.10 L353.20 35.90 L353.92 37.66 L354.64 39.39 L355.37 41.07 L356.09 42.72 L356.81 44.33 L357.53 45.91 L358.25 47.46 L358.98 48.97 L359.70 50.46 L360.42 51.90 L361.15 53.30 L361.87 54.65 L362.59 55.95 L363.31 57.22 L364.04 58.45 L364.76 59.65 L365.48 60.82 L366.20 61.97 L366.93 63.08 L367.65 64.12 L368.37 65.05 L369.09 65.93 L369.82 66.81 L370.54 67.71 L371.26 68.66 L371.98 69.64 L372.71 70.62 L373.43 71.60 L374.15 72.57 L374.87 73.52 L375.60 74.45 L376.32 75.36 L377.04 76.25 L377.76 77.12 L378.49 77.97 L379.21 78.81 L379.93 79.63 L380.65 80.43 L381.38 81.22 L382.10 81.99 L382.82 82.73 L383.54 83.46 L384.27 84.17 L384.99 84.87 L385.71 85.56 L386.43 86.24 L387.16 86.91 L387.88 87.58 L388.60 88.24 L389.32 88.90 L390.05 89.55 L390.77 90.20 L391.49 90.84 L392.21 91.46 L392.94 92.09 L393.66 92.70 L394.38 93.30 L395.10 93.89 L395.83 94.46 L396.55 95.03 L397.27 95.58 L397.99 96.12 L398.72 96.65 L399.44 97.18 L400.16 97.70 L400.88 98.21 L401.61 98.73 L402.33 99.24 L403.05 99.76 L404.86 101.03 L406.66 102.29 L408.47 103.51 L410.27 104.71 L412.08 105.90 L413.89 107.06 L415.69 108.20 L417.50 109.33 L419.31 110.43 L421.11 111.51 L422.92 112.57 L424.73 113.60 L426.53 114.62 L428.34 115.62 L430.14 116.61 L431.95 117.59 L433.76 118.56 L435.56 119.53 L437.37 120.50 L439.18 121.46 L440.98 122.42 L442.79 123.36 L444.59 124.28 L446.40 125.19 L448.21 126.09 L450.01 126.98 L451.82 127.85 L453.62 128.71 L455.43 129.56 L457.24 130.39 L459.04 131.22 L460.85 132.03 L462.66 132.83 L464.46 133.62 L466.27 134.40 L468.08 135.17 L469.88 135.92 L471.69 136.67 L473.49 137.41 L475.30 138.14 L477.11 138.85 L478.91 139.55 L480.72 140.24 L482.52 140.92 L484.33 141.58 L486.14 142.23 L487.94 142.87 L489.75 143.51 L491.56 144.13 L493.36 144.74 L495.17 145.35 L496.98 145.95 L498.78 146.54 L500.59 147.12 L502.39 147.70 L504.20 148.27 L506.01 148.84 L507.81 149.40 L509.62 149.95 L511.43 150.51 L513.23 151.05 L515.04 151.59 L516.84 152.12 L518.65 152.64 L520.46 153.16 L522.26 153.67 L524.07 154.17 L525.88 154.67 L527.68 155.16 L529.49 155.65 L531.29 156.13 L533.10 156.61 L534.91 157.08 L536.71 157.56 L538.52 158.03 L540.33 158.49 L542.13 158.96 L543.94 159.42 L545.74 159.88 L547.55 160.34 L549.36 160.79 L551.16 161.24 L552.97 161.69 L554.77 162.14 L556.58 162.59 L558.39 163.03 L560.19 163.47 L562.00 163.90 L563.81 164.34 L565.61 164.77 L567.42 165.20 L569.23 165.62 L571.03 166.04 L572.84 166.47 L574.64 166.88 L576.45 167.30 L578.26 167.71 L580.06 168.13 L581.87 168.54 L583.67 168.94 L585.48 169.35 L587.29 169.75 L589.09 170.15 L590.90 170.55 L592.71 170.95 L594.51 171.34 L596.32 171.74 L598.12 172.13 L599.93 172.52 L601.74 172.90 L603.54 173.29 L605.35 173.67 L607.16 174.05 L608.96 174.43 L610.77 174.81 L612.58 175.19 L612.58 204.69 L610.77 204.27 L608.96 203.85 L607.16 203.42 L605.35 202.99 L603.54 202.56 L601.74 202.12 L599.93 201.68 L598.12 201.23 L596.32 200.78 L594.51 200.33 L592.71 199.87 L590.90 199.41 L589.09 198.94 L587.29 198.47 L585.48 198.00 L583.67 197.52 L581.87 197.03 L580.06 196.55 L578.26 196.05 L576.45 195.56 L574.64 195.06 L572.84 194.55 L571.03 194.05 L569.23 193.53 L567.42 193.02 L565.61 192.49 L563.81 191.97 L562.00 191.44 L560.19 190.90 L558.39 190.36 L556.58 189.82 L554.77 189.27 L552.97 188.72 L551.16 188.16 L549.36 187.60 L547.55 187.04 L545.74 186.46 L543.94 185.86 L542.13 185.25 L540.33 184.62 L538.52 183.98 L536.71 183.32 L534.91 182.65 L533.10 181.96 L531.29 181.27 L529.49 180.56 L527.68 179.85 L525.88 179.12 L524.07 178.40 L522.26 177.67 L520.46 176.94 L518.65 176.20 L516.84 175.47 L515.04 174.74 L513.23 174.02 L511.43 173.31 L509.62 172.59 L507.81 171.88 L506.01 171.16 L504.20 170.43 L502.39 169.70 L500.59 168.96 L498.78 168.22 L496.98 167.48 L495.17 166.72 L493.36 165.97 L491.56 165.21 L489.75 164.44 L487.94 163.67 L486.14 162.89 L484.33 162.11 L482.52 161.33 L480.72 160.54 L478.91 159.74 L477.11 158.94 L475.30 158.14 L473.49 157.33 L471.69 156.51 L469.88 155.68 L468.08 154.85 L466.27 154.00 L464.46 153.15 L462.66 152.29 L460.85 151.42 L459.04 150.54 L457.24 149.65 L455.43 148.75 L453.62 147.84 L451.82 146.91 L450.01 145.98 L448.21 145.03 L446.40 144.06 L444.59 143.09 L442.79 142.09 L440.98 141.09 L439.18 140.06 L437.37 139.02 L435.56 137.95 L433.76 136.87 L431.95 135.76 L430.14 134.63 L428.34 133.48 L426.53 132.31 L424.73 131.11 L422.92 129.89 L421.11 128.64 L419.31 127.37 L417.50 126.08 L415.69 124.76 L413.89 123.41 L412.08 122.03 L410.27 120.63 L408.47 119.21 L406.66 117.75 L404.86 116.27 L403.05 114.76 L402.33 114.15 L401.61 113.55 L400.88 112.96 L400.16 112.37 L399.44 111.77 L398.72 111.18 L397.99 110.57 L397.27 109.95 L396.55 109.32 L395.83 108.66 L395.10 107.99 L394.38 107.32 L393.66 106.63 L392.94 105.93 L392.21 105.22 L391.49 104.49 L390.77 103.75 L390.05 103.00 L389.32 102.23 L388.60 101.44 L387.88 100.63 L387.16 99.81 L386.43 98.96 L385.71 98.10 L384.99 97.21 L384.27 96.31 L383.54 95.39 L382.82 94.45 L382.10 93.49 L381.38 92.52 L380.65 91.50 L379.93 90.43 L379.21 89.31 L378.49 88.15 L377.76 86.97 L377.04 85.76 L376.32 84.56 L375.60 83.35 L374.87 82.13 L374.15 80.89 L373.43 79.63 L372.71 78.34 L371.98 77.03 L371.26 75.67 L370.54 74.27 L369.82 72.78 L369.09 71.22 L368.37 69.64 L367.65 68.08 L366.93 66.58 L366.20 65.13 L365.48 63.66 L364.76 62.17 L364.04 60.67 L363.31 59.16 L362.59 57.64 L361.87 56.12 L361.15 54.60 L360.42 53.07 L359.70 51.56 L358.98 50.03 L358.25 48.48 L357.53 46.89 L356.81 45.28 L356.09 43.63 L355.37 41.95 L354.64 40.23 L353.92 38.48 L353.20 36.69 L352.48 34.85 L352.33 34.48 L352.19 34.11 L352.04 33.74 L351.90 33.36 L351.75 32.98 L351.61 32.60 L351.46 32.22 L351.32 31.84 L351.17 31.45 L351.03 31.06 L350.89 30.67 L350.74 30.28 L350.60 29.89 L350.45 29.50 L350.31 29.10 L350.16 28.70 L350.02 28.30 L349.87 27.90 L349.73 27.49 L349.59 27.09 L349.44 26.68 L349.30 26.27 L349.15 25.86 L349.01 25.44 L348.86 25.02 L348.72 24.61 L348.57 24.18 L348.43 23.76 L348.28 23.34 L348.14 22.91 L348.00 22.48 L347.85 22.05 L347.71 21.61 L347.56 21.17 L347.42 20.74 L347.27 20.29 L347.13 19.85 L346.98 19.40 L346.84 18.95 L346.69 18.50 L346.55 18.05 L346.41 17.59 L346.26 17.14 L346.12 16.67 L345.97 16.21 L345.83 15.74 L345.68 15.27 L345.54 14.80 L345.39 14.33 L345.25 13.85 Z" fill="#a9c7f6" stroke="none"/>
<path d="M345.25 62.88 L345.39 63.36 L345.54 63.84 L345.68 64.32 L345.83 64.79 L345.97 65.26 L346.12 65.73 L346.26 66.19 L346.41 66.65 L346.55 67.11 L346.69 67.57 L346.84 68.02 L346.98 68.47 L347.13 68.92 L347.27 69.37 L347.42 69.81 L347.56 70.25 L347.71 70.69 L347.85 71.12 L348.00 71.55 L348.14 71.98 L348.28 72.41 L348.43 72.83 L348.57 73.25 L348.72 73.67 L348.86 74.09 L349.01 74.50 L349.15 74.91 L349.30 75.32 L349.44 75.73 L349.59 76.14 L349.73 76.54 L349.87 76.94 L350.02 77.33 L350.16 77.73 L350.31 78.12 L350.45 78.51 L350.60 78.90 L350.74 79.28 L350.89 79.67 L351.03 80.05 L351.17 80.43 L351.32 80.81 L351.46 81.18 L351.61 81.55 L351.75 81.92 L351.90 82.29 L352.04 82.66 L352.19 83.02 L352.33 83.38 L352.48 83.74 L353.20 85.51 L353.92 87.23 L354.64 88.90 L355.37 90.53 L356.09 92.11 L356.81 93.58 L357.53 94.90 L358.25 96.10 L358.98 97.22 L359.70 98.30 L360.42 99.35 L361.15 100.41 L361.87 101.48 L362.59 102.53 L363.31 103.55 L364.04 104.56 L364.76 105.54 L365.48 106.49 L366.20 107.42 L366.93 108.33 L367.65 109.21 L368.37 110.06 L369.09 110.85 L369.82 111.61 L370.54 112.33 L371.26 113.04 L371.98 113.76 L372.71 114.49 L373.43 115.25 L374.15 116.05 L374.87 116.86 L375.60 117.66 L376.32 118.45 L377.04 119.23 L377.76 120.00 L378.49 120.77 L379.21 121.53 L379.93 122.27 L380.65 123.02 L381.38 123.75 L382.10 124.48 L382.82 125.20 L383.54 125.92 L384.27 126.63 L384.99 127.34 L385.71 128.04 L386.43 128.73 L387.16 129.42 L387.88 130.11 L388.60 130.79 L389.32 131.47 L390.05 132.14 L390.77 132.80 L391.49 133.46 L392.21 134.11 L392.94 134.76 L393.66 135.40 L394.38 136.03 L395.10 136.65 L395.83 137.27 L396.55 137.88 L397.27 138.48 L397.99 139.08 L398.72 139.67 L399.44 140.25 L400.16 140.82 L400.88 141.39 L401.61 141.94 L402.33 142.49 L403.05 143.04 L404.86 144.36 L406.66 145.63 L408.47 146.86 L410.27 148.05 L412.08 149.20 L413.89 150.32 L415.69 151.40 L417.50 152.45 L419.31 153.47 L421.11 154.46 L422.92 155.43 L424.73 156.37 L426.53 157.28 L428.34 158.18 L430.14 159.01 L431.95 159.79 L433.76 160.52 L435.56 161.24 L437.37 161.96 L439.18 162.71 L440.98 163.46 L442.79 164.21 L444.59 164.95 L446.40 165.69 L448.21 166.42 L450.01 167.14 L451.82 167.86 L453.62 168.57 L455.43 169.27 L457.24 169.96 L459.04 170.65 L460.85 171.33 L462.66 172.00 L464.46 172.67 L466.27 173.33 L468.08 173.98 L469.88 174.62 L471.69 175.25 L473.49 175.88 L475.30 176.50 L477.11 177.11 L478.91 177.71 L480.72 178.31 L482.52 178.90 L484.33 179.49 L486.14 180.07 L487.94 180.64 L489.75 181.21 L491.56 181.78 L493.36 182.34 L495.17 182.89 L496.98 183.45 L498.78 183.99 L500.59 184.54 L502.39 185.08 L504.20 185.62 L506.01 186.15 L507.81 186.68 L509.62 187.21 L511.43 187.74 L513.23 188.26 L515.04 188.78 L516.84 189.30 L518.65 189.82 L520.46 190.34 L522.26 190.85 L524.07 191.37 L525.88 191.87 L527.68 192.38 L529.49 192.88 L531.29 193.37 L533.10 193.86 L534.91 194.35 L536.71 194.83 L538.52 195.31 L540.33 195.77 L542.13 196.24 L543.94 196.70 L545.74 197.15 L547.55 197.59 L549.36 198.03 L551.16 198.46 L552.97 198.89 L554.77 199.31 L556.58 199.73 L558.39 200.14 L560.19 200.54 L562.00 200.94 L563.81 201.34 L565.61 201.73 L567.42 202.12 L569.23 202.50 L571.03 202.88 L572.84 203.25 L574.64 203.62 L576.45 203.99 L578.26 204.35 L580.06 204.71 L581.87 205.06 L583.67 205.41 L585.48 205.76 L587.29 206.10 L589.09 206.45 L590.90 206.78 L592.71 207.12 L594.51 207.45 L596.32 207.77 L598.12 208.10 L599.93 208.42 L601.74 208.74 L603.54 209.06 L605.35 209.37 L607.16 209.68 L608.96 209.99 L610.77 210.30 L612.58 210.60 L612.58 251.90 L610.77 251.47 L608.96 251.05 L607.16 250.62 L605.35 250.18 L603.54 249.75 L601.74 249.31 L599.93 248.87 L598.12 248.42 L596.32 247.98 L594.51 247.53 L592.71 247.07 L590.90 246.62 L589.09 246.16 L587.29 245.70 L585.48 245.23 L583.67 244.76 L581.87 244.29 L580.06 243.82 L578.26 243.34 L576.45 242.86 L574.64 242.38 L572.84 241.89 L571.03 241.40 L569.23 240.90 L567.42 240.41 L565.61 239.91 L563.81 239.40 L562.00 238.89 L560.19 238.38 L558.39 237.87 L556.58 237.35 L554.77 236.82 L552.97 236.30 L551.16 235.77 L549.36 235.23 L547.55 234.69 L545.74 234.15 L543.94 233.60 L542.13 233.04 L540.33 232.48 L538.52 231.92 L536.71 231.35 L534.91 230.77 L533.10 230.19 L531.29 229.61 L529.49 229.02 L527.68 228.42 L525.88 227.82 L524.07 227.21 L522.26 226.60 L520.46 225.99 L518.65 225.37 L516.84 224.74 L515.04 224.11 L513.23 223.48 L511.43 222.84 L509.62 222.19 L507.81 221.54 L506.01 220.89 L504.20 220.23 L502.39 219.57 L500.59 218.89 L498.78 218.22 L496.98 217.54 L495.17 216.85 L493.36 216.15 L491.56 215.45 L489.75 214.73 L487.94 214.01 L486.14 213.29 L484.33 212.55 L482.52 211.80 L480.72 211.04 L478.91 210.27 L477.11 209.49 L475.30 208.70 L473.49 207.89 L471.69 207.07 L469.88 206.24 L468.08 205.39 L466.27 204.53 L464.46 203.66 L462.66 202.77 L460.85 201.86 L459.04 200.94 L457.24 200.01 L455.43 199.06 L453.62 198.10 L451.82 197.12 L450.01 196.12 L448.21 195.11 L446.40 194.08 L444.59 193.04 L442.79 191.98 L440.98 190.90 L439.18 189.81 L437.37 188.69 L435.56 187.55 L433.76 186.39 L431.95 185.20 L430.14 183.99 L428.34 182.75 L426.53 181.49 L424.73 180.20 L422.92 178.88 L421.11 177.53 L419.31 176.16 L417.50 174.76 L415.69 173.33 L413.89 171.88 L412.08 170.39 L410.27 168.88 L408.47 167.34 L406.66 165.76 L404.86 164.16 L403.05 162.54 L402.33 161.88 L401.61 161.21 L400.88 160.54 L400.16 159.87 L399.44 159.19 L398.72 158.50 L397.99 157.81 L397.27 157.11 L396.55 156.40 L395.83 155.69 L395.10 154.97 L394.38 154.24 L393.66 153.50 L392.94 152.75 L392.21 151.99 L391.49 151.23 L390.77 150.45 L390.05 149.66 L389.32 148.86 L388.60 148.05 L387.88 147.23 L387.16 146.39 L386.43 145.54 L385.71 144.67 L384.99 143.80 L384.27 142.91 L383.54 142.00 L382.82 141.08 L382.10 140.15 L381.38 139.21 L380.65 138.26 L379.93 137.29 L379.21 136.30 L378.49 135.31 L377.76 134.30 L377.04 133.28 L376.32 132.25 L375.60 131.21 L374.87 130.15 L374.15 129.08 L373.43 127.99 L372.71 126.89 L371.98 125.77 L371.26 124.63 L370.54 123.46 L369.82 122.28 L369.09 121.07 L368.37 119.84 L367.65 118.58 L366.93 117.30 L366.20 115.99 L365.48 114.65 L364.76 113.29 L364.04 111.90 L363.31 110.48 L362.59 109.03 L361.87 107.54 L361.15 106.02 L360.42 104.45 L359.70 102.83 L358.98 101.17 L358.25 99.48 L357.53 97.76 L356.81 96.04 L356.09 94.31 L355.37 92.58 L354.64 90.80 L353.92 88.98 L353.20 87.11 L352.48 85.20 L352.33 84.82 L352.19 84.43 L352.04 84.04 L351.90 83.64 L351.75 83.25 L351.61 82.85 L351.46 82.46 L351.32 82.05 L351.17 81.65 L351.03 81.25 L350.89 80.84 L350.74 80.44 L350.60 80.03 L350.45 79.61 L350.31 79.20 L350.16 78.79 L350.02 78.37 L349.87 77.95 L349.73 77.53 L349.59 77.10 L349.44 76.68 L349.30 76.25 L349.15 75.82 L349.01 75.39 L348.86 74.96 L348.72 74.52 L348.57 74.09 L348.43 73.65 L348.28 73.20 L348.14 72.76 L348.00 72.32 L347.85 71.87 L347.71 71.42 L347.56 70.97 L347.42 70.52 L347.27 70.06 L347.13 69.60 L346.98 69.14 L346.84 68.68 L346.69 68.22 L346.55 67.75 L346.41 67.29 L346.26 66.82 L346.12 66.35 L345.97 65.87 L345.83 65.40 L345.68 64.92 L345.54 64.45 L345.39 63.96 L345.25 63.48 Z" fill="#e6bdf5" stroke="none"/>
<path d="M345.25 13.55 L345.39 14.03 L345.54 14.50 L345.68 14.97 L345.83 15.44 L345.97 15.91 L346.12 16.37 L346.26 16.83 L346.41 17.29 L346.55 17.75 L346.69 18.20 L346.84 18.65 L346.98 19.10 L347.13 19.54 L347.27 19.98 L347.42 20.43 L347.56 20.86 L347.71 21.30 L347.85 21.73 L348.00 22.16 L348.14 22.59 L348.28 23.02 L348.43 23.44 L348.57 23.86 L348.72 24.28 L348.86 24.70 L349.01 25.11 L349.15 25.52 L349.30 25.93 L349.44 26.34 L349.59 26.75 L349.73 27.15 L349.87 27.56 L350.02 27.96 L350.16 28.35 L350.31 28.75 L350.45 29.14 L350.60 29.54 L350.74 29.93 L350.89 30.31 L351.03 30.70 L351.17 31.08 L351.32 31.47 L351.46 31.85 L351.61 32.23 L351.75 32.60 L351.90 32.98 L352.04 33.35 L352.19 33.72 L352.33 34.09 L352.48 34.46 L353.20 36.28 L353.92 38.05 L354.64 39.78 L355.37 41.48 L356.09 43.14 L356.81 44.77 L357.53 46.36 L358.25 47.92 L358.98 49.46 L359.70 50.96 L360.42 52.43 L361.15 53.88 L361.87 55.30 L362.59 56.69 L363.31 58.07 L364.04 59.41 L364.76 60.74 L365.48 62.04 L366.20 63.32 L366.93 64.58 L367.65 65.82 L368.37 67.05 L369.09 68.25 L369.82 69.44 L370.54 70.60 L371.26 71.75 L371.98 72.89 L372.71 74.01 L373.43 75.11 L374.15 76.19 L374.87 77.26 L375.60 78.32 L376.32 79.36 L377.04 80.38 L377.76 81.39 L378.49 82.39 L379.21 83.37 L379.93 84.33 L380.65 85.28 L381.38 86.22 L382.10 87.14 L382.82 88.05 L383.54 88.94 L384.27 89.83 L384.99 90.69 L385.71 91.55 L386.43 92.39 L387.16 93.22 L387.88 94.04 L388.60 94.84 L389.32 95.63 L390.05 96.41 L390.77 97.18 L391.49 97.94 L392.21 98.69 L392.94 99.42 L393.66 100.15 L394.38 100.86 L395.10 101.57 L395.83 102.26 L396.55 102.95 L397.27 103.63 L397.99 104.30 L398.72 104.96 L399.44 105.61 L400.16 106.26 L400.88 106.89 L401.61 107.52 L402.33 108.14 L403.05 108.76 L404.86 110.26 L406.66 111.72 L408.47 113.14 L410.27 114.53 L412.08 115.88 L413.89 117.19 L415.69 118.48 L417.50 119.73 L419.31 120.95 L421.11 122.15 L422.92 123.32 L424.73 124.47 L426.53 125.59 L428.34 126.69 L430.14 127.77 L431.95 128.82 L433.76 129.86 L435.56 130.88 L437.37 131.88 L439.18 132.86 L440.98 133.83 L442.79 134.77 L444.59 135.71 L446.40 136.63 L448.21 137.53 L450.01 138.42 L451.82 139.29 L453.62 140.16 L455.43 141.01 L457.24 141.85 L459.04 142.67 L460.85 143.49 L462.66 144.29 L464.46 145.08 L466.27 145.87 L468.08 146.64 L469.88 147.40 L471.69 148.16 L473.49 148.90 L475.30 149.64 L477.11 150.36 L478.91 151.08 L480.72 151.79 L482.52 152.50 L484.33 153.19 L486.14 153.88 L487.94 154.56 L489.75 155.23 L491.56 155.90 L493.36 156.56 L495.17 157.21 L496.98 157.85 L498.78 158.49 L500.59 159.13 L502.39 159.75 L504.20 160.38 L506.01 160.99 L507.81 161.60 L509.62 162.21 L511.43 162.81 L513.23 163.40 L515.04 163.99 L516.84 164.57 L518.65 165.15 L520.46 165.73 L522.26 166.30 L524.07 166.86 L525.88 167.43 L527.68 167.98 L529.49 168.53 L531.29 169.08 L533.10 169.63 L534.91 170.17 L536.71 170.70 L538.52 171.23 L540.33 171.76 L542.13 172.29 L543.94 172.81 L545.74 173.32 L547.55 173.84 L549.36 174.35 L551.16 174.85 L552.97 175.36 L554.77 175.86 L556.58 176.35 L558.39 176.85 L560.19 177.34 L562.00 177.82 L563.81 178.31 L565.61 178.79 L567.42 179.27 L569.23 179.74 L571.03 180.21 L572.84 180.68 L574.64 181.15 L576.45 181.62 L578.26 182.08 L580.06 182.54 L581.87 182.99 L583.67 183.45 L585.48 183.90 L587.29 184.35 L589.09 184.79 L590.90 185.24 L592.71 185.68 L594.51 186.12 L596.32 186.55 L598.12 186.99 L599.93 187.42 L601.74 187.85 L603.54 188.28 L605.35 188.71 L607.16 189.13 L608.96 189.55 L610.77 189.97 L612.58 190.39" fill="none" stroke="#2030ff" stroke-width="1.1" />
<path d="M345.25 63.18 L345.39 63.66 L345.54 64.14 L345.68 64.62 L345.83 65.09 L345.97 65.57 L346.12 66.04 L346.26 66.50 L346.41 66.97 L346.55 67.43 L346.69 67.89 L346.84 68.35 L346.98 68.80 L347.13 69.25 L347.27 69.70 L347.42 70.15 L347.56 70.59 L347.71 71.04 L347.85 71.48 L348.00 71.91 L348.14 72.35 L348.28 72.78 L348.43 73.21 L348.57 73.64 L348.72 74.07 L348.86 74.49 L349.01 74.92 L349.15 75.34 L349.30 75.75 L349.44 76.17 L349.59 76.58 L349.73 76.99 L349.87 77.40 L350.02 77.81 L350.16 78.21 L350.31 78.61 L350.45 79.01 L350.60 79.41 L350.74 79.81 L350.89 80.20 L351.03 80.59 L351.17 80.98 L351.32 81.37 L351.46 81.76 L351.61 82.14 L351.75 82.52 L351.90 82.90 L352.04 83.28 L352.19 83.65 L352.33 84.03 L352.48 84.40 L353.20 86.23 L353.92 88.02 L354.64 89.76 L355.37 91.46 L356.09 93.11 L356.81 94.73 L357.53 96.31 L358.25 97.85 L358.98 99.36 L359.70 100.83 L360.42 102.27 L361.15 103.68 L361.87 105.06 L362.59 106.40 L363.31 107.72 L364.04 109.01 L364.76 110.28 L365.48 111.51 L366.20 112.72 L366.93 113.91 L367.65 115.07 L368.37 116.21 L369.09 117.33 L369.82 118.43 L370.54 119.50 L371.26 120.56 L371.98 121.59 L372.71 122.61 L373.43 123.61 L374.15 124.59 L374.87 125.55 L375.60 126.49 L376.32 127.42 L377.04 128.33 L377.76 129.22 L378.49 130.10 L379.21 130.97 L379.93 131.82 L380.65 132.66 L381.38 133.48 L382.10 134.29 L382.82 135.09 L383.54 135.88 L384.27 136.66 L384.99 137.42 L385.71 138.17 L386.43 138.92 L387.16 139.65 L387.88 140.37 L388.60 141.08 L389.32 141.79 L390.05 142.48 L390.77 143.17 L391.49 143.84 L392.21 144.51 L392.94 145.17 L393.66 145.82 L394.38 146.46 L395.10 147.10 L395.83 147.73 L396.55 148.35 L397.27 148.96 L397.99 149.57 L398.72 150.17 L399.44 150.76 L400.16 151.35 L400.88 151.93 L401.61 152.51 L402.33 153.07 L403.05 153.64 L404.86 155.02 L406.66 156.37 L408.47 157.68 L410.27 158.97 L412.08 160.22 L413.89 161.45 L415.69 162.65 L417.50 163.82 L419.31 164.97 L421.11 166.10 L422.92 167.21 L424.73 168.29 L426.53 169.36 L428.34 170.40 L430.14 171.43 L431.95 172.44 L433.76 173.43 L435.56 174.40 L437.37 175.36 L439.18 176.31 L440.98 177.23 L442.79 178.15 L444.59 179.05 L446.40 179.93 L448.21 180.81 L450.01 181.67 L451.82 182.52 L453.62 183.35 L455.43 184.18 L457.24 184.99 L459.04 185.80 L460.85 186.59 L462.66 187.37 L464.46 188.15 L466.27 188.91 L468.08 189.67 L469.88 190.41 L471.69 191.15 L473.49 191.88 L475.30 192.60 L477.11 193.31 L478.91 194.01 L480.72 194.71 L482.52 195.40 L484.33 196.08 L486.14 196.75 L487.94 197.42 L489.75 198.08 L491.56 198.74 L493.36 199.38 L495.17 200.03 L496.98 200.66 L498.78 201.29 L500.59 201.91 L502.39 202.53 L504.20 203.14 L506.01 203.75 L507.81 204.35 L509.62 204.95 L511.43 205.54 L513.23 206.12 L515.04 206.70 L516.84 207.28 L518.65 207.85 L520.46 208.41 L522.26 208.97 L524.07 209.53 L525.88 210.08 L527.68 210.63 L529.49 211.17 L531.29 211.71 L533.10 212.25 L534.91 212.78 L536.71 213.31 L538.52 213.83 L540.33 214.35 L542.13 214.87 L543.94 215.38 L545.74 215.89 L547.55 216.39 L549.36 216.89 L551.16 217.39 L552.97 217.89 L554.77 218.38 L556.58 218.86 L558.39 219.35 L560.19 219.83 L562.00 220.31 L563.81 220.78 L565.61 221.26 L567.42 221.73 L569.23 222.19 L571.03 222.65 L572.84 223.12 L574.64 223.57 L576.45 224.03 L578.26 224.48 L580.06 224.93 L581.87 225.38 L583.67 225.82 L585.48 226.26 L587.29 226.70 L589.09 227.14 L590.90 227.57 L592.71 228.00 L594.51 228.43 L596.32 228.86 L598.12 229.28 L599.93 229.71 L601.74 230.13 L603.54 230.54 L605.35 230.96 L607.16 231.37 L608.96 231.78 L610.77 232.19 L612.58 232.60" fill="none" stroke="#a226ba" stroke-width="1.1" />
<path d="M345.25 5.05 L345.39 7.15 L345.54 9.00 L345.68 10.47 L345.83 11.68 L345.97 12.80 L346.12 13.78 L346.26 14.56 L346.41 15.13 L346.55 15.66 L346.69 16.18 L346.84 16.69 L346.98 17.18 L347.13 17.68 L347.27 18.16 L347.42 18.63 L347.56 19.10 L347.71 19.56 L347.85 20.02 L348.00 20.47 L348.14 20.92 L348.28 21.36 L348.43 21.80 L348.57 22.24 L348.72 22.67 L348.86 23.10 L349.01 23.52 L349.15 23.95 L349.30 24.37 L349.44 24.79 L349.59 25.20 L349.73 25.62 L349.87 26.03 L350.02 26.44 L350.16 26.84 L350.31 27.25 L350.45 27.65 L350.60 28.04 L350.74 28.44 L350.89 28.83 L351.03 29.23 L351.17 29.62 L351.32 30.00 L351.46 30.39 L351.61 30.77 L351.75 31.15 L351.90 31.53 L352.04 31.91 L352.19 32.29 L352.33 32.66 L352.48 33.03 L353.20 34.87 L353.92 36.67 L354.64 38.42 L355.37 40.15 L356.09 41.84 L356.81 43.51 L357.53 45.14 L358.25 46.75 L358.98 48.32 L359.70 49.87 L360.42 51.39 L361.15 52.89 L361.87 54.36 L362.59 55.81 L363.31 57.23 L364.04 58.62 L364.76 60.00 L365.48 61.35 L366.20 62.68 L366.93 63.98 L367.65 65.27 L368.37 66.55 L369.09 67.82 L369.82 69.07 L370.54 70.30 L371.26 71.51 L371.98 72.70 L372.71 73.87 L373.43 75.02 L374.15 76.14 L374.87 77.24 L375.60 78.31 L376.32 79.36 L377.04 80.38 L377.76 81.39 L378.49 82.39 L379.21 83.37 L379.93 84.33 L380.65 85.28 L381.38 86.22 L382.10 87.14 L382.82 88.05 L383.54 88.94 L384.27 89.83 L384.99 90.69 L385.71 91.55 L386.43 92.39 L387.16 93.22 L387.88 94.04 L388.60 94.84 L389.32 95.64 L390.05 96.43 L390.77 97.22 L391.49 98.01 L392.21 98.79 L392.94 99.57 L393.66 100.34 L394.38 101.11 L395.10 101.87 L395.83 102.62 L396.55 103.37 L397.27 104.11 L397.99 104.84 L398.72 105.57 L399.44 106.29 L400.16 107.00 L400.88 107.70 L401.61 108.39 L402.33 109.08 L403.05 109.76 L404.86 111.43 L406.66 113.09 L408.47 114.72 L410.27 116.34 L412.08 117.93 L413.89 119.50 L415.69 121.05 L417.50 122.57 L419.31 124.06 L421.11 125.54 L422.92 126.98 L424.73 128.40 L426.53 129.80 L428.34 131.17 L430.14 132.51 L431.95 133.83 L433.76 135.13 L435.56 136.40 L437.37 137.64 L439.18 138.86 L440.98 140.06 L442.79 141.26 L444.59 142.44 L446.40 143.61 L448.21 144.77 L450.01 145.91 L451.82 147.04 L453.62 148.16 L455.43 149.26 L457.24 150.35 L459.04 151.41 L460.85 152.46 L462.66 153.50 L464.46 154.52 L466.27 155.51 L468.08 156.50 L469.88 157.46 L471.69 158.40 L473.49 159.33 L475.30 160.24 L477.11 161.13 L478.91 162.00 L480.72 162.86 L482.52 163.71 L484.33 164.54 L486.14 165.36 L487.94 166.17 L489.75 166.97 L491.56 167.76 L493.36 168.54 L495.17 169.32 L496.98 170.08 L498.78 170.84 L500.59 171.60 L502.39 172.34 L504.20 173.08 L506.01 173.82 L507.81 174.55 L509.62 175.28 L511.43 176.01 L513.23 176.73 L515.04 177.45 L516.84 178.17 L518.65 178.88 L520.46 179.59 L522.26 180.30 L524.07 181.00 L525.88 181.70 L527.68 182.39 L529.49 183.07 L531.29 183.75 L533.10 184.43 L534.91 185.09 L536.71 185.75 L538.52 186.40 L540.33 187.04 L542.13 187.68 L543.94 188.31 L545.74 188.93 L547.55 189.54 L549.36 190.14 L551.16 190.73 L552.97 191.31 L554.77 191.89 L556.58 192.46 L558.39 193.02 L560.19 193.58 L562.00 194.13 L563.81 194.68 L565.61 195.23 L567.42 195.77 L569.23 196.31 L571.03 196.86 L572.84 197.40 L574.64 197.93 L576.45 198.47 L578.26 199.02 L580.06 199.56 L581.87 200.10 L583.67 200.65 L585.48 201.20 L587.29 201.76 L589.09 202.33 L590.90 202.90 L592.71 203.48 L594.51 204.06 L596.32 204.64 L598.12 205.21 L599.93 205.79 L601.74 206.36 L603.54 206.92 L605.35 207.47 L607.16 208.02 L608.96 208.55" fill="none" stroke="#000" stroke-width="1.35" stroke-dasharray="3.3 3.1" />
<path d="M345.25 48.68 L345.39 52.18 L345.54 55.24 L345.68 57.62 L345.83 59.54 L345.97 61.30 L346.12 62.78 L346.26 63.87 L346.41 64.53 L346.55 65.12 L346.69 65.69 L346.84 66.25 L346.98 66.79 L347.13 67.32 L347.27 67.84 L347.42 68.35 L347.56 68.85 L347.71 69.34 L347.85 69.82 L348.00 70.29 L348.14 70.75 L348.28 71.21 L348.43 71.66 L348.57 72.11 L348.72 72.56 L348.86 72.99 L349.01 73.43 L349.15 73.86 L349.30 74.29 L349.44 74.72 L349.59 75.14 L349.73 75.56 L349.87 75.98 L350.02 76.39 L350.16 76.81 L350.31 77.22 L350.45 77.62 L350.60 78.03 L350.74 78.43 L350.89 78.83 L351.03 79.23 L351.17 79.62 L351.32 80.01 L351.46 80.40 L351.61 80.79 L351.75 81.18 L351.90 81.56 L352.04 81.94 L352.19 82.32 L352.33 82.70 L352.48 83.08 L353.20 84.93 L353.92 86.73 L354.64 88.50 L355.37 90.22 L356.09 91.91 L356.81 93.57 L357.53 95.20 L358.25 96.80 L358.98 98.36 L359.70 99.89 L360.42 101.39 L361.15 102.86 L361.87 104.30 L362.59 105.71 L363.31 107.08 L364.04 108.43 L364.76 109.74 L365.48 111.03 L366.20 112.28 L366.93 113.51 L367.65 114.71 L368.37 115.88 L369.09 117.03 L369.82 118.15 L370.54 119.24 L371.26 120.32 L371.98 121.38 L372.71 122.42 L373.43 123.45 L374.15 124.46 L374.87 125.46 L375.60 126.44 L376.32 127.42 L377.04 128.40 L377.76 129.41 L378.49 130.43 L379.21 131.47 L379.93 132.52 L380.65 133.57 L381.38 134.62 L382.10 135.67 L382.82 136.71 L383.54 137.74 L384.27 138.75 L384.99 139.75 L385.71 140.74 L386.43 141.70 L387.16 142.64 L387.88 143.55 L388.60 144.44 L389.32 145.30 L390.05 146.15 L390.77 146.98 L391.49 147.80 L392.21 148.61 L392.94 149.41 L393.66 150.20 L394.38 150.97 L395.10 151.74 L395.83 152.50 L396.55 153.25 L397.27 153.99 L397.99 154.72 L398.72 155.44 L399.44 156.16 L400.16 156.87 L400.88 157.57 L401.61 158.26 L402.33 158.95 L403.05 159.64 L404.86 161.31 L406.66 162.94 L408.47 164.52 L410.27 166.06 L412.08 167.57 L413.89 169.04 L415.69 170.48 L417.50 171.89 L419.31 173.28 L421.11 174.64 L422.92 175.98 L424.73 177.30 L426.53 178.60 L428.34 179.89 L430.14 181.15 L431.95 182.41 L433.76 183.65 L435.56 184.88 L437.37 186.10 L439.18 187.31 L440.98 188.51 L442.79 189.73 L444.59 190.95 L446.40 192.18 L448.21 193.40 L450.01 194.61 L451.82 195.82 L453.62 197.02 L455.43 198.20 L457.24 199.37 L459.04 200.52 L460.85 201.65 L462.66 202.77 L464.46 203.86 L466.27 204.93 L468.08 205.97 L469.88 206.99 L471.69 207.99 L473.49 208.96 L475.30 209.90 L477.11 210.82 L478.91 211.72 L480.72 212.61 L482.52 213.48 L484.33 214.34 L486.14 215.18 L487.94 216.02 L489.75 216.84 L491.56 217.65 L493.36 218.45 L495.17 219.24 L496.98 220.02 L498.78 220.78 L500.59 221.54 L502.39 222.30 L504.20 223.04 L506.01 223.77 L507.81 224.50 L509.62 225.22 L511.43 225.94 L513.23 226.64 L515.04 227.33 L516.84 228.02 L518.65 228.69 L520.46 229.36 L522.26 230.02 L524.07 230.67 L525.88 231.32 L527.68 231.96 L529.49 232.60 L531.29 233.23 L533.10 233.86 L534.91 234.48 L536.71 235.11 L538.52 235.72 L540.33 236.34 L542.13 236.96 L543.94 237.57 L545.74 238.18 L547.55 238.79 L549.36 239.40 L551.16 240.01 L552.97 240.62 L554.77 241.23 L556.58 241.83 L558.39 242.43 L560.19 243.04 L562.00 243.64 L563.81 244.23 L565.61 244.83 L567.42 245.42 L569.23 246.01 L571.03 246.60 L572.84 247.19 L574.64 247.77 L576.45 248.35 L578.26 248.92 L580.06 249.50 L581.87 250.07 L583.67 250.63 L585.48 251.20 L587.29 251.76 L589.09 252.31 L590.90 252.87 L592.71 253.42 L594.51 253.96 L596.32 254.50 L598.12 255.04 L599.93 255.57 L601.74 256.10 L603.54 256.63 L605.35 257.15 L607.16 257.67 L608.96 258.18" fill="none" stroke="#000" stroke-width="1.35" stroke-dasharray="3.3 3.1" />
<path d="M345.25 5.05 L345.39 7.15 L345.54 9.00 L345.68 10.47 L345.83 11.68 L345.97 12.80 L346.12 13.78 L346.26 14.56 L346.41 15.13 L346.55 15.66 L346.69 16.18 L346.84 16.69 L346.98 17.18 L347.13 17.68 L347.27 18.16 L347.42 18.63 L347.56 19.10 L347.71 19.56 L347.85 20.02 L348.00 20.47 L348.14 20.92 L348.28 21.36 L348.43 21.80 L348.57 22.24 L348.72 22.67 L348.86 23.10 L349.01 23.52 L349.15 23.95 L349.30 24.37 L349.44 24.79 L349.59 25.20 L349.73 25.62 L349.87 26.03 L350.02 26.44 L350.16 26.84 L350.31 27.25 L350.45 27.65 L350.60 28.04 L350.74 28.44 L350.89 28.83 L351.03 29.23 L351.17 29.62 L351.32 30.00 L351.46 30.39 L351.61 30.77 L351.75 31.15 L351.90 31.53 L352.04 31.91 L352.19 32.29 L352.33 32.66 L352.48 33.03 L353.20 34.87 L353.92 36.67 L354.64 38.42 L355.37 40.15 L356.09 41.84 L356.81 43.51 L357.53 45.14 L358.25 46.75 L358.98 48.32 L359.70 49.87 L360.42 51.39 L361.15 52.89 L361.87 54.36 L362.59 55.81 L363.31 57.23 L364.04 58.62 L364.76 60.00 L365.48 61.35 L366.20 62.68 L366.93 63.98 L367.65 65.27 L368.37 66.55 L369.09 67.82 L369.82 69.07 L370.54 70.30 L371.26 71.51 L371.98 72.70 L372.71 73.87 L373.43 75.02 L374.15 76.14 L374.87 77.24 L375.60 78.31 L376.32 79.36 L377.04 80.38 L377.76 81.39 L378.49 82.39 L379.21 83.37 L379.93 84.33 L380.65 85.28 L381.38 86.22 L382.10 87.14 L382.82 88.05 L383.54 88.94 L384.27 89.83 L384.99 90.69 L385.71 91.55 L386.43 92.39 L387.16 93.22 L387.88 94.04 L388.60 94.84 L389.32 95.64 L390.05 96.43 L390.77 97.22 L391.49 98.01 L392.21 98.79 L392.94 99.57 L393.66 100.34 L394.38 101.11 L395.10 101.87 L395.83 102.62 L396.55 103.37 L397.27 104.11 L397.99 104.84 L398.72 105.57 L399.44 106.29 L400.16 107.00 L400.88 107.70 L401.61 108.39 L402.33 109.08 L403.05 109.76 L404.86 111.43 L406.66 113.09 L408.47 114.72 L410.27 116.33 L412.08 117.92 L413.89 119.49 L415.69 121.04 L417.50 122.56 L419.31 124.05 L421.11 125.52 L422.92 126.97 L424.73 128.39 L426.53 129.78 L428.34 131.15 L430.14 132.50 L431.95 133.82 L433.76 135.12 L435.56 136.39 L437.37 137.64 L439.18 138.86 L440.98 140.07 L442.79 141.26 L444.59 142.45 L446.40 143.62 L448.21 144.79 L450.01 145.94 L451.82 147.07 L453.62 148.19 L455.43 149.30 L457.24 150.39 L459.04 151.47 L460.85 152.53 L462.66 153.57 L464.46 154.60 L466.27 155.61 L468.08 156.61 L469.88 157.59 L471.69 158.56 L473.49 159.51 L475.30 160.44 L477.11 161.35 L478.91 162.25 L480.72 163.14 L482.52 164.02 L484.33 164.88 L486.14 165.73 L487.94 166.57 L489.75 167.41 L491.56 168.23 L493.36 169.04 L495.17 169.85 L496.98 170.64 L498.78 171.44 L500.59 172.22 L502.39 173.00 L504.20 173.77 L506.01 174.54 L507.81 175.30 L509.62 176.05 L511.43 176.81 L513.23 177.56 L515.04 178.30 L516.84 179.04 L518.65 179.78 L520.46 180.51 L522.26 181.23 L524.07 181.96 L525.88 182.67 L527.68 183.38 L529.49 184.09 L531.29 184.79 L533.10 185.49 L534.91 186.17 L536.71 186.86 L538.52 187.54 L540.33 188.21 L542.13 188.87 L543.94 189.53 L545.74 190.19 L547.55 190.84 L549.36 191.48 L551.16 192.11 L552.97 192.74 L554.77 193.36 L556.58 193.97 L558.39 194.58 L560.19 195.18 L562.00 195.79 L563.81 196.38 L565.61 196.98 L567.42 197.57 L569.23 198.16 L571.03 198.75 L572.84 199.33 L574.64 199.92 L576.45 200.50 L578.26 201.09 L580.06 201.67 L581.87 202.26 L583.67 202.85 L585.48 203.44 L587.29 204.03 L589.09 204.63 L590.90 205.23 L592.71 205.83 L594.51 206.43 L596.32 207.03 L598.12 207.63 L599.93 208.23 L601.74 208.82 L603.54 209.41 L605.35 210.00 L607.16 210.58 L608.96 211.15" fill="none" stroke="#000" stroke-width="0.95" stroke-dasharray="1 1.3" />
<path d="M345.25 48.68 L345.39 52.18 L345.54 55.24 L345.68 57.62 L345.83 59.54 L345.97 61.30 L346.12 62.78 L346.26 63.87 L346.41 64.53 L346.55 65.12 L346.69 65.69 L346.84 66.25 L346.98 66.79 L347.13 67.32 L347.27 67.84 L347.42 68.35 L347.56 68.85 L347.71 69.34 L347.85 69.82 L348.00 70.29 L348.14 70.75 L348.28 71.21 L348.43 71.66 L348.57 72.11 L348.72 72.56 L348.86 72.99 L349.01 73.43 L349.15 73.86 L349.30 74.29 L349.44 74.72 L349.59 75.14 L349.73 75.56 L349.87 75.98 L350.02 76.39 L350.16 76.81 L350.31 77.22 L350.45 77.62 L350.60 78.03 L350.74 78.43 L350.89 78.83 L351.03 79.23 L351.17 79.62 L351.32 80.01 L351.46 80.40 L351.61 80.79 L351.75 81.18 L351.90 81.56 L352.04 81.94 L352.19 82.32 L352.33 82.70 L352.48 83.08 L353.20 84.93 L353.92 86.73 L354.64 88.50 L355.37 90.22 L356.09 91.91 L356.81 93.57 L357.53 95.20 L358.25 96.80 L358.98 98.36 L359.70 99.89 L360.42 101.39 L361.15 102.86 L361.87 104.30 L362.59 105.71 L363.31 107.08 L364.04 108.43 L364.76 109.74 L365.48 111.03 L366.20 112.28 L366.93 113.51 L367.65 114.71 L368.37 115.88 L369.09 117.03 L369.82 118.15 L370.54 119.24 L371.26 120.32 L371.98 121.38 L372.71 122.42 L373.43 123.45 L374.15 124.46 L374.87 125.46 L375.60 126.44 L376.32 127.42 L377.04 128.40 L377.76 129.41 L378.49 130.43 L379.21 131.47 L379.93 132.52 L380.65 133.57 L381.38 134.62 L382.10 135.67 L382.82 136.71 L383.54 137.74 L384.27 138.75 L384.99 139.75 L385.71 140.74 L386.43 141.70 L387.16 142.64 L387.88 143.55 L388.60 144.44 L389.32 145.30 L390.05 146.15 L390.77 146.98 L391.49 147.80 L392.21 148.61 L392.94 149.41 L393.66 150.20 L394.38 150.97 L395.10 151.74 L395.83 152.50 L396.55 153.25 L397.27 153.99 L397.99 154.72 L398.72 155.44 L399.44 156.16 L400.16 156.87 L400.88 157.57 L401.61 158.26 L402.33 158.95 L403.05 159.64 L404.86 161.31 L406.66 162.94 L408.47 164.52 L410.27 166.06 L412.08 167.56 L413.89 169.03 L415.69 170.47 L417.50 171.88 L419.31 173.27 L421.11 174.63 L422.92 175.97 L424.73 177.29 L426.53 178.59 L428.34 179.87 L430.14 181.14 L431.95 182.40 L433.76 183.64 L435.56 184.87 L437.37 186.09 L439.18 187.31 L440.98 188.52 L442.79 189.74 L444.59 190.96 L446.40 192.18 L448.21 193.41 L450.01 194.63 L451.82 195.84 L453.62 197.04 L455.43 198.23 L457.24 199.40 L459.04 200.56 L460.85 201.71 L462.66 202.83 L464.46 203.94 L466.27 205.02 L468.08 206.08 L469.88 207.12 L471.69 208.14 L473.49 209.13 L475.30 210.10 L477.11 211.04 L478.91 211.97 L480.72 212.89 L482.52 213.79 L484.33 214.67 L486.14 215.55 L487.94 216.41 L489.75 217.26 L491.56 218.10 L493.36 218.93 L495.17 219.75 L496.98 220.56 L498.78 221.36 L500.59 222.15 L502.39 222.93 L504.20 223.71 L506.01 224.47 L507.81 225.23 L509.62 225.99 L511.43 226.74 L513.23 227.47 L515.04 228.20 L516.84 228.92 L518.65 229.63 L520.46 230.33 L522.26 231.03 L524.07 231.71 L525.88 232.40 L527.68 233.07 L529.49 233.74 L531.29 234.41 L533.10 235.07 L534.91 235.73 L536.71 236.39 L538.52 237.04 L540.33 237.70 L542.13 238.35 L543.94 239.00 L545.74 239.64 L547.55 240.29 L549.36 240.94 L551.16 241.58 L552.97 242.23 L554.77 242.87 L556.58 243.51 L558.39 244.15 L560.19 244.79 L562.00 245.42 L563.81 246.06 L565.61 246.69 L567.42 247.32 L569.23 247.94 L571.03 248.57 L572.84 249.19 L574.64 249.81 L576.45 250.42 L578.26 251.04 L580.06 251.65 L581.87 252.26 L583.67 252.86 L585.48 253.46 L587.29 254.06 L589.09 254.66 L590.90 255.25 L592.71 255.84 L594.51 256.42 L596.32 257.00 L598.12 257.58 L599.93 258.16 L601.74 258.73 L603.54 259.30 L605.35 259.86 L607.16 260.42 L608.96 260.98" fill="none" stroke="#000" stroke-width="0.95" stroke-dasharray="1 1.3" />
<path d="M345.25 5.05 L345.39 7.15 L345.54 9.00 L345.68 10.47 L345.83 11.68 L345.97 12.80 L346.12 13.78 L346.26 14.56 L346.41 15.13 L346.55 15.66 L346.69 16.18 L346.84 16.69 L346.98 17.18 L347.13 17.68 L347.27 18.16 L347.42 18.63 L347.56 19.10 L347.71 19.56 L347.85 20.02 L348.00 20.47 L348.14 20.92 L348.28 21.36 L348.43 21.80 L348.57 22.24 L348.72 22.67 L348.86 23.10 L349.01 23.52 L349.15 23.95 L349.30 24.37 L349.44 24.79 L349.59 25.20 L349.73 25.62 L349.87 26.03 L350.02 26.44 L350.16 26.84 L350.31 27.25 L350.45 27.65 L350.60 28.04 L350.74 28.44 L350.89 28.83 L351.03 29.23 L351.17 29.62 L351.32 30.00 L351.46 30.39 L351.61 30.77 L351.75 31.15 L351.90 31.53 L352.04 31.91 L352.19 32.29 L352.33 32.66 L352.48 33.03 L353.20 34.87 L353.92 36.67 L354.64 38.42 L355.37 40.15 L356.09 41.84 L356.81 43.51 L357.53 45.14 L358.25 46.75 L358.98 48.32 L359.70 49.87 L360.42 51.39 L361.15 52.89 L361.87 54.36 L362.59 55.81 L363.31 57.23 L364.04 58.62 L364.76 60.00 L365.48 61.35 L366.20 62.68 L366.93 63.98 L367.65 65.27 L368.37 66.55 L369.09 67.82 L369.82 69.07 L370.54 70.30 L371.26 71.51 L371.98 72.70 L372.71 73.87 L373.43 75.02 L374.15 76.14 L374.87 77.24 L375.60 78.31 L376.32 79.36 L377.04 80.38 L377.76 81.39 L378.49 82.39 L379.21 83.37 L379.93 84.33 L380.65 85.28 L381.38 86.22 L382.10 87.14 L382.82 88.05 L383.54 88.94 L384.27 89.83 L384.99 90.69 L385.71 91.55 L386.43 92.39 L387.16 93.22 L387.88 94.04 L388.60 94.84 L389.32 95.64 L390.05 96.43 L390.77 97.22 L391.49 98.01 L392.21 98.79 L392.94 99.57 L393.66 100.34 L394.38 101.11 L395.10 101.87 L395.83 102.62 L396.55 103.37 L397.27 104.11 L397.99 104.84 L398.72 105.57 L399.44 106.29 L400.16 107.00 L400.88 107.70 L401.61 108.39 L402.33 109.08 L403.05 109.76 L404.86 111.43 L406.66 113.09 L408.47 114.72 L410.27 116.34 L412.08 117.93 L413.89 119.50 L415.69 121.05 L417.50 122.57 L419.31 124.07 L421.11 125.55 L422.92 127.00 L424.73 128.43 L426.53 129.83 L428.34 131.21 L430.14 132.56 L431.95 133.89 L433.76 135.19 L435.56 136.47 L437.37 137.73 L439.18 138.96 L440.98 140.18 L442.79 141.38 L444.59 142.57 L446.40 143.75 L448.21 144.92 L450.01 146.08 L451.82 147.22 L453.62 148.35 L455.43 149.47 L457.24 150.57 L459.04 151.66 L460.85 152.74 L462.66 153.80 L464.46 154.84 L466.27 155.88 L468.08 156.90 L469.88 157.90 L471.69 158.90 L473.49 159.87 L475.30 160.84 L477.11 161.79 L478.91 162.73 L480.72 163.65 L482.52 164.57 L484.33 165.47 L486.14 166.36 L487.94 167.25 L489.75 168.12 L491.56 168.99 L493.36 169.85 L495.17 170.70 L496.98 171.55 L498.78 172.38 L500.59 173.22 L502.39 174.04 L504.20 174.87 L506.01 175.68 L507.81 176.49 L509.62 177.30 L511.43 178.11 L513.23 178.91 L515.04 179.70 L516.84 180.50 L518.65 181.29 L520.46 182.08 L522.26 182.86 L524.07 183.64 L525.88 184.41 L527.68 185.18 L529.49 185.95 L531.29 186.71 L533.10 187.47 L534.91 188.22 L536.71 188.96 L538.52 189.71 L540.33 190.44 L542.13 191.17 L543.94 191.90 L545.74 192.62 L547.55 193.34 L549.36 194.05 L551.16 194.76 L552.97 195.47 L554.77 196.18 L556.58 196.88 L558.39 197.58 L560.19 198.28 L562.00 198.97 L563.81 199.66 L565.61 200.34 L567.42 201.02 L569.23 201.69 L571.03 202.36 L572.84 203.02 L574.64 203.68 L576.45 204.33 L578.26 204.97 L580.06 205.60 L581.87 206.23 L583.67 206.85 L585.48 207.46 L587.29 208.05 L589.09 208.64 L590.90 209.22 L592.71 209.80 L594.51 210.37 L596.32 210.93 L598.12 211.50 L599.93 212.07 L601.74 212.64 L603.54 213.21 L605.35 213.78 L607.16 214.36 L608.96 214.95" fill="none" stroke="#000" stroke-width="0.95" stroke-dasharray="3.3 3.2 1 3.2" />
<path d="M345.25 48.68 L345.39 52.18 L345.54 55.24 L345.68 57.62 L345.83 59.54 L345.97 61.30 L346.12 62.78 L346.26 63.87 L346.41 64.53 L346.55 65.12 L346.69 65.69 L346.84 66.25 L346.98 66.79 L347.13 67.32 L347.27 67.84 L347.42 68.35 L347.56 68.85 L347.71 69.34 L347.85 69.82 L348.00 70.29 L348.14 70.75 L348.28 71.21 L348.43 71.66 L348.57 72.11 L348.72 72.56 L348.86 72.99 L349.01 73.43 L349.15 73.86 L349.30 74.29 L349.44 74.72 L349.59 75.14 L349.73 75.56 L349.87 75.98 L350.02 76.39 L350.16 76.81 L350.31 77.22 L350.45 77.62 L350.60 78.03 L350.74 78.43 L350.89 78.83 L351.03 79.23 L351.17 79.62 L351.32 80.01 L351.46 80.40 L351.61 80.79 L351.75 81.18 L351.90 81.56 L352.04 81.94 L352.19 82.32 L352.33 82.70 L352.48 83.08 L353.20 84.93 L353.92 86.73 L354.64 88.50 L355.37 90.22 L356.09 91.91 L356.81 93.57 L357.53 95.20 L358.25 96.80 L358.98 98.36 L359.70 99.89 L360.42 101.39 L361.15 102.86 L361.87 104.30 L362.59 105.71 L363.31 107.08 L364.04 108.43 L364.76 109.74 L365.48 111.03 L366.20 112.28 L366.93 113.51 L367.65 114.71 L368.37 115.88 L369.09 117.03 L369.82 118.15 L370.54 119.24 L371.26 120.32 L371.98 121.38 L372.71 122.42 L373.43 123.45 L374.15 124.46 L374.87 125.46 L375.60 126.44 L376.32 127.42 L377.04 128.40 L377.76 129.41 L378.49 130.43 L379.21 131.47 L379.93 132.52 L380.65 133.57 L381.38 134.62 L382.10 135.67 L382.82 136.71 L383.54 137.74 L384.27 138.75 L384.99 139.75 L385.71 140.74 L386.43 141.70 L387.16 142.64 L387.88 143.55 L388.60 144.44 L389.32 145.30 L390.05 146.15 L390.77 146.98 L391.49 147.80 L392.21 148.61 L392.94 149.41 L393.66 150.20 L394.38 150.97 L395.10 151.74 L395.83 152.50 L396.55 153.24 L397.27 153.98 L397.99 154.71 L398.72 155.44 L399.44 156.15 L400.16 156.86 L400.88 157.57 L401.61 158.26 L402.33 158.95 L403.05 159.64 L404.86 161.31 L406.66 162.94 L408.47 164.53 L410.27 166.07 L412.08 167.57 L413.89 169.05 L415.69 170.49 L417.50 171.90 L419.31 173.29 L421.11 174.66 L422.92 176.00 L424.73 177.33 L426.53 178.63 L428.34 179.93 L430.14 181.20 L431.95 182.47 L433.76 183.72 L435.56 184.96 L437.37 186.19 L439.18 187.41 L440.98 188.62 L442.79 189.85 L444.59 191.08 L446.40 192.31 L448.21 193.54 L450.01 194.77 L451.82 195.98 L453.62 197.19 L455.43 198.40 L457.24 199.58 L459.04 200.76 L460.85 201.92 L462.66 203.07 L464.46 204.20 L466.27 205.32 L468.08 206.41 L469.88 207.49 L471.69 208.54 L473.49 209.58 L475.30 210.60 L477.11 211.60 L478.91 212.58 L480.72 213.55 L482.52 214.52 L484.33 215.46 L486.14 216.40 L487.94 217.33 L489.75 218.25 L491.56 219.15 L493.36 220.05 L495.17 220.94 L496.98 221.82 L498.78 222.68 L500.59 223.54 L502.39 224.40 L504.20 225.24 L506.01 226.07 L507.81 226.90 L509.62 227.72 L511.43 228.54 L513.23 229.34 L515.04 230.14 L516.84 230.92 L518.65 231.70 L520.46 232.47 L522.26 233.24 L524.07 233.99 L525.88 234.75 L527.68 235.49 L529.49 236.23 L531.29 236.97 L533.10 237.70 L534.91 238.42 L536.71 239.14 L538.52 239.86 L540.33 240.57 L542.13 241.28 L543.94 241.99 L545.74 242.69 L547.55 243.39 L549.36 244.09 L551.16 244.78 L552.97 245.47 L554.77 246.15 L556.58 246.83 L558.39 247.51 L560.19 248.18 L562.00 248.85 L563.81 249.51 L565.61 250.18 L567.42 250.83 L569.23 251.49 L571.03 252.14 L572.84 252.79 L574.64 253.43 L576.45 254.07 L578.26 254.71 L580.06 255.35 L581.87 255.98 L583.67 256.61 L585.48 257.24 L587.29 257.86 L589.09 258.49 L590.90 259.11 L592.71 259.72 L594.51 260.34 L596.32 260.95 L598.12 261.56 L599.93 262.17 L601.74 262.78 L603.54 263.38 L605.35 263.98 L607.16 264.58 L608.96 265.18" fill="none" stroke="#000" stroke-width="0.95" stroke-dasharray="3.3 3.2 1 3.2" />
</g>
<g clip-path="url(#cBL)">
<path d="M57.20 292.03 L57.34 292.64 L57.49 293.24 L57.63 293.83 L57.78 294.42 L57.92 295.01 L58.07 295.60 L58.21 296.18 L58.36 296.76 L58.50 297.34 L58.65 297.91 L58.79 298.48 L58.93 299.04 L59.08 299.61 L59.22 300.17 L59.37 300.72 L59.51 301.27 L59.66 301.82 L59.80 302.37 L59.95 302.91 L60.09 303.45 L60.23 303.99 L60.38 304.52 L60.52 305.05 L60.67 305.58 L60.81 306.11 L60.96 306.63 L61.10 307.15 L61.25 307.66 L61.39 308.18 L61.54 308.69 L61.68 309.19 L61.82 309.70 L61.97 310.20 L62.11 310.70 L62.26 311.19 L62.40 311.69 L62.55 312.18 L62.69 312.66 L62.84 313.15 L62.98 313.63 L63.12 314.11 L63.27 314.59 L63.41 315.06 L63.56 315.53 L63.70 316.00 L63.85 316.47 L63.99 316.93 L64.14 317.40 L64.28 317.86 L64.42 318.31 L65.15 320.56 L65.87 322.75 L66.59 324.89 L67.31 326.97 L68.04 329.01 L68.76 330.99 L69.48 332.93 L70.21 334.82 L70.93 336.67 L71.65 338.48 L72.37 340.25 L73.09 341.99 L73.82 343.69 L74.54 345.35 L75.26 346.98 L75.99 348.57 L76.71 350.14 L77.43 351.68 L78.15 353.19 L78.88 354.67 L79.60 356.12 L80.32 357.54 L81.04 358.93 L81.77 360.30 L82.49 361.63 L83.21 362.95 L83.93 364.24 L84.66 365.51 L85.38 366.75 L86.10 367.98 L86.82 369.19 L87.55 370.37 L88.27 371.54 L88.99 372.70 L89.71 373.83 L90.44 374.95 L91.16 376.05 L91.88 377.14 L92.60 378.22 L93.33 379.28 L94.05 380.33 L94.77 381.36 L95.49 382.38 L96.22 383.39 L96.94 384.39 L97.66 385.38 L98.38 386.36 L99.11 387.32 L99.83 388.28 L100.55 389.22 L101.27 390.15 L102.00 391.08 L102.72 391.99 L103.44 392.89 L104.16 393.78 L104.89 394.66 L105.61 395.53 L106.33 396.39 L107.05 397.25 L107.78 398.09 L108.50 398.92 L109.22 399.74 L109.94 400.56 L110.67 401.36 L111.39 402.16 L112.11 402.94 L112.83 403.72 L113.56 404.49 L114.28 405.25 L115.00 406.01 L116.81 407.85 L118.61 409.64 L120.42 411.38 L122.22 413.07 L124.03 414.72 L125.84 416.33 L127.64 417.90 L129.45 419.44 L131.26 420.95 L133.06 422.43 L134.87 423.88 L136.68 425.31 L138.48 426.71 L140.29 428.08 L142.09 429.44 L143.90 430.78 L145.71 432.10 L147.51 433.40 L149.32 434.68 L151.12 435.95 L152.93 437.20 L154.74 438.43 L156.54 439.64 L158.35 440.84 L160.16 442.01 L161.96 443.17 L163.77 444.32 L165.57 445.45 L167.38 446.56 L169.19 447.66 L170.99 448.74 L172.80 449.81 L174.61 450.87 L176.41 451.91 L178.22 452.94 L180.03 453.96 L181.83 454.97 L183.64 455.96 L185.44 456.94 L187.25 457.92 L189.06 458.88 L190.86 459.83 L192.67 460.77 L194.47 461.69 L196.28 462.61 L198.09 463.52 L199.89 464.41 L201.70 465.30 L203.51 466.17 L205.31 467.04 L207.12 467.90 L208.92 468.74 L210.73 469.58 L212.54 470.41 L214.34 471.23 L216.15 472.05 L217.96 472.85 L219.76 473.65 L221.57 474.44 L223.38 475.22 L225.18 475.99 L226.99 476.76 L228.79 477.53 L230.60 478.28 L232.41 479.03 L234.21 479.78 L236.02 480.52 L237.82 481.25 L239.63 481.98 L241.44 482.70 L243.24 483.42 L245.05 484.13 L246.86 484.84 L248.66 485.54 L250.47 486.23 L252.27 486.92 L254.08 487.61 L255.89 488.29 L257.69 488.96 L259.50 489.63 L261.31 490.29 L263.11 490.95 L264.92 491.61 L266.73 492.26 L268.53 492.90 L270.34 493.54 L272.14 494.17 L273.95 494.80 L275.76 495.43 L277.56 496.05 L279.37 496.67 L281.17 497.28 L282.98 497.89 L284.79 498.50 L286.59 499.10 L288.40 499.70 L290.21 500.30 L292.01 500.89 L293.82 501.48 L295.62 502.07 L297.43 502.65 L299.24 503.23 L301.04 503.81 L302.85 504.38 L304.66 504.95 L306.46 505.52 L308.27 506.08 L310.07 506.64 L311.88 507.19 L313.69 507.75 L315.49 508.29 L317.30 508.84 L319.11 509.38 L320.91 509.92 L322.72 510.46 L324.52 510.99 L324.52 522.09 L322.72 521.56 L320.91 521.02 L319.11 520.48 L317.30 519.94 L315.49 519.39 L313.69 518.85 L311.88 518.29 L310.07 517.74 L308.27 517.18 L306.46 516.62 L304.66 516.05 L302.85 515.48 L301.04 514.91 L299.24 514.33 L297.43 513.75 L295.62 513.17 L293.82 512.58 L292.01 511.99 L290.21 511.40 L288.40 510.80 L286.59 510.20 L284.79 509.60 L282.98 508.99 L281.17 508.38 L279.37 507.77 L277.56 507.15 L275.76 506.53 L273.95 505.90 L272.14 505.27 L270.34 504.64 L268.53 504.00 L266.73 503.36 L264.92 502.71 L263.11 502.05 L261.31 501.39 L259.50 500.73 L257.69 500.06 L255.89 499.39 L254.08 498.71 L252.27 498.02 L250.47 497.34 L248.66 496.64 L246.86 495.94 L245.05 495.24 L243.24 494.53 L241.44 493.81 L239.63 493.09 L237.82 492.37 L236.02 491.64 L234.21 490.90 L232.41 490.16 L230.60 489.41 L228.79 488.65 L226.99 487.89 L225.18 487.13 L223.38 486.36 L221.57 485.58 L219.76 484.79 L217.96 483.99 L216.15 483.19 L214.34 482.38 L212.54 481.56 L210.73 480.73 L208.92 479.89 L207.12 479.04 L205.31 478.19 L203.51 477.32 L201.70 476.44 L199.89 475.55 L198.09 474.65 L196.28 473.74 L194.47 472.82 L192.67 471.89 L190.86 470.94 L189.06 469.99 L187.25 469.02 L185.44 468.03 L183.64 467.04 L181.83 466.02 L180.03 465.00 L178.22 463.96 L176.41 462.91 L174.61 461.84 L172.80 460.75 L170.99 459.65 L169.19 458.53 L167.38 457.40 L165.57 456.25 L163.77 455.08 L161.96 453.89 L160.16 452.68 L158.35 451.46 L156.54 450.21 L154.74 448.94 L152.93 447.66 L151.12 446.35 L149.32 445.01 L147.51 443.64 L145.71 442.23 L143.90 440.79 L142.09 439.31 L140.29 437.79 L138.48 436.24 L136.68 434.65 L134.87 433.02 L133.06 431.36 L131.26 429.66 L129.45 427.92 L127.64 426.14 L125.84 424.33 L124.03 422.48 L122.22 420.59 L120.42 418.67 L118.61 416.71 L116.81 414.73 L115.00 412.71 L114.28 411.89 L113.56 411.06 L112.83 410.23 L112.11 409.39 L111.39 408.55 L110.67 407.69 L109.94 406.83 L109.22 405.96 L108.50 405.08 L107.78 404.19 L107.05 403.30 L106.33 402.39 L105.61 401.47 L104.89 400.55 L104.16 399.61 L103.44 398.66 L102.72 397.70 L102.00 396.73 L101.27 395.75 L100.55 394.76 L99.83 393.75 L99.11 392.73 L98.38 391.70 L97.66 390.65 L96.94 389.59 L96.22 388.52 L95.49 387.43 L94.77 386.32 L94.05 385.19 L93.33 384.05 L92.60 382.90 L91.88 381.72 L91.16 380.53 L90.44 379.32 L89.71 378.10 L88.99 376.85 L88.27 375.59 L87.55 374.31 L86.82 373.01 L86.10 371.69 L85.38 370.35 L84.66 368.99 L83.93 367.61 L83.21 366.21 L82.49 364.79 L81.77 363.34 L81.04 361.88 L80.32 360.40 L79.60 358.89 L78.88 357.37 L78.15 355.81 L77.43 354.23 L76.71 352.62 L75.99 350.98 L75.26 349.31 L74.54 347.60 L73.82 345.86 L73.09 344.08 L72.37 342.27 L71.65 340.42 L70.93 338.52 L70.21 336.59 L69.48 334.61 L68.76 332.59 L68.04 330.53 L67.31 328.41 L66.59 326.24 L65.87 324.03 L65.15 321.76 L64.42 319.43 L64.28 318.96 L64.14 318.48 L63.99 318.00 L63.85 317.52 L63.70 317.04 L63.56 316.56 L63.41 316.07 L63.27 315.58 L63.12 315.09 L62.98 314.60 L62.84 314.10 L62.69 313.60 L62.55 313.10 L62.40 312.59 L62.26 312.09 L62.11 311.58 L61.97 311.07 L61.82 310.55 L61.68 310.03 L61.54 309.51 L61.39 308.99 L61.25 308.47 L61.10 307.94 L60.96 307.41 L60.81 306.87 L60.67 306.34 L60.52 305.80 L60.38 305.26 L60.23 304.71 L60.09 304.17 L59.95 303.62 L59.80 303.06 L59.66 302.51 L59.51 301.95 L59.37 301.39 L59.22 300.83 L59.08 300.26 L58.93 299.69 L58.79 299.12 L58.65 298.54 L58.50 297.96 L58.36 297.38 L58.21 296.80 L58.07 296.21 L57.92 295.62 L57.78 295.03 L57.63 294.43 L57.49 293.84 L57.34 293.24 L57.20 292.63 Z" fill="#a9c7f6" stroke="none"/>
<path d="M57.20 292.33 L57.34 292.94 L57.49 293.54 L57.63 294.13 L57.78 294.73 L57.92 295.32 L58.07 295.91 L58.21 296.49 L58.36 297.07 L58.50 297.65 L58.65 298.23 L58.79 298.80 L58.93 299.37 L59.08 299.93 L59.22 300.50 L59.37 301.05 L59.51 301.61 L59.66 302.17 L59.80 302.72 L59.95 303.26 L60.09 303.81 L60.23 304.35 L60.38 304.89 L60.52 305.43 L60.67 305.96 L60.81 306.49 L60.96 307.02 L61.10 307.54 L61.25 308.06 L61.39 308.58 L61.54 309.10 L61.68 309.61 L61.82 310.12 L61.97 310.63 L62.11 311.13 L62.26 311.64 L62.40 312.14 L62.55 312.63 L62.69 313.13 L62.84 313.62 L62.98 314.11 L63.12 314.59 L63.27 315.08 L63.41 315.56 L63.56 316.04 L63.70 316.52 L63.85 316.99 L63.99 317.46 L64.14 317.93 L64.28 318.40 L64.42 318.86 L65.15 321.15 L65.87 323.38 L66.59 325.55 L67.31 327.68 L68.04 329.75 L68.76 331.77 L69.48 333.75 L70.21 335.68 L70.93 337.57 L71.65 339.42 L72.37 341.23 L73.09 343.00 L73.82 344.74 L74.54 346.44 L75.26 348.10 L75.99 349.74 L76.71 351.34 L77.43 352.91 L78.15 354.45 L78.88 355.97 L79.60 357.45 L80.32 358.91 L81.04 360.35 L81.77 361.75 L82.49 363.14 L83.21 364.50 L83.93 365.84 L84.66 367.16 L85.38 368.46 L86.10 369.73 L86.82 370.99 L87.55 372.23 L88.27 373.45 L88.99 374.65 L89.71 375.83 L90.44 377.00 L91.16 378.15 L91.88 379.28 L92.60 380.40 L93.33 381.50 L94.05 382.59 L94.77 383.66 L95.49 384.72 L96.22 385.76 L96.94 386.79 L97.66 387.81 L98.38 388.82 L99.11 389.81 L99.83 390.79 L100.55 391.76 L101.27 392.72 L102.00 393.66 L102.72 394.60 L103.44 395.52 L104.16 396.43 L104.89 397.34 L105.61 398.23 L106.33 399.11 L107.05 399.99 L107.78 400.85 L108.50 401.70 L109.22 402.55 L109.94 403.39 L110.67 404.21 L111.39 405.03 L112.11 405.84 L112.83 406.65 L113.56 407.44 L114.28 408.23 L115.00 409.01 L116.81 410.92 L118.61 412.79 L120.42 414.62 L122.22 416.40 L124.03 418.15 L125.84 419.86 L127.64 421.53 L129.45 423.17 L131.26 424.77 L133.06 426.34 L134.87 427.88 L136.68 429.39 L138.48 430.88 L140.29 432.33 L142.09 433.76 L143.90 435.17 L145.71 436.55 L147.51 437.90 L149.32 439.24 L151.12 440.55 L152.93 441.84 L154.74 443.11 L156.54 444.36 L158.35 445.58 L160.16 446.79 L161.96 447.99 L163.77 449.16 L165.57 450.32 L167.38 451.46 L169.19 452.58 L170.99 453.69 L172.80 454.78 L174.61 455.86 L176.41 456.92 L178.22 457.97 L180.03 459.01 L181.83 460.03 L183.64 461.04 L185.44 462.03 L187.25 463.02 L189.06 463.99 L190.86 464.95 L192.67 465.89 L194.47 466.83 L196.28 467.76 L198.09 468.67 L199.89 469.58 L201.70 470.47 L203.51 471.35 L205.31 472.23 L207.12 473.09 L208.92 473.95 L210.73 474.79 L212.54 475.63 L214.34 476.46 L216.15 477.28 L217.96 478.09 L219.76 478.89 L221.57 479.68 L223.38 480.47 L225.18 481.25 L226.99 482.02 L228.79 482.79 L230.60 483.55 L232.41 484.31 L234.21 485.05 L236.02 485.80 L237.82 486.53 L239.63 487.27 L241.44 487.99 L243.24 488.71 L245.05 489.42 L246.86 490.13 L248.66 490.83 L250.47 491.53 L252.27 492.22 L254.08 492.91 L255.89 493.59 L257.69 494.26 L259.50 494.93 L261.31 495.59 L263.11 496.25 L264.92 496.91 L266.73 497.55 L268.53 498.20 L270.34 498.84 L272.14 499.47 L273.95 500.10 L275.76 500.72 L277.56 501.34 L279.37 501.96 L281.17 502.57 L282.98 503.18 L284.79 503.78 L286.59 504.38 L288.40 504.98 L290.21 505.57 L292.01 506.17 L293.82 506.75 L295.62 507.33 L297.43 507.91 L299.24 508.49 L301.04 509.06 L302.85 509.63 L304.66 510.20 L306.46 510.76 L308.27 511.32 L310.07 511.87 L311.88 512.42 L313.69 512.97 L315.49 513.52 L317.30 514.06 L319.11 514.60 L320.91 515.13 L322.72 515.66 L324.52 516.19" fill="none" stroke="#2030ff" stroke-width="1.1" />
<path d="M57.20 322.33 L57.34 322.94 L57.49 323.54 L57.63 324.13 L57.78 324.73 L57.92 325.32 L58.07 325.90 L58.21 326.49 L58.36 327.07 L58.50 327.65 L58.65 328.22 L58.79 328.79 L58.93 329.36 L59.08 329.92 L59.22 330.49 L59.37 331.04 L59.51 331.60 L59.66 332.15 L59.80 332.70 L59.95 333.25 L60.09 333.79 L60.23 334.33 L60.38 334.87 L60.52 335.40 L60.67 335.93 L60.81 336.46 L60.96 336.99 L61.10 337.51 L61.25 338.03 L61.39 338.55 L61.54 339.06 L61.68 339.57 L61.82 340.08 L61.97 340.59 L62.11 341.09 L62.26 341.59 L62.40 342.09 L62.55 342.58 L62.69 343.07 L62.84 343.56 L62.98 344.05 L63.12 344.54 L63.27 345.02 L63.41 345.50 L63.56 345.97 L63.70 346.45 L63.85 346.92 L63.99 347.39 L64.14 347.86 L64.28 348.32 L64.42 348.78 L65.15 351.06 L65.87 353.27 L66.59 355.44 L67.31 357.55 L68.04 359.61 L68.76 361.62 L69.48 363.58 L70.21 365.50 L70.93 367.38 L71.65 369.21 L72.37 371.01 L73.09 372.77 L73.82 374.49 L74.54 376.18 L75.26 377.83 L75.99 379.45 L76.71 381.04 L77.43 382.60 L78.15 384.13 L78.88 385.63 L79.60 387.10 L80.32 388.54 L81.04 389.96 L81.77 391.34 L82.49 392.70 L83.21 394.04 L83.93 395.35 L84.66 396.64 L85.38 397.90 L86.10 399.15 L86.82 400.37 L87.55 401.58 L88.27 402.76 L88.99 403.93 L89.71 405.07 L90.44 406.21 L91.16 407.32 L91.88 408.42 L92.60 409.50 L93.33 410.57 L94.05 411.62 L94.77 412.66 L95.49 413.69 L96.22 414.70 L96.94 415.70 L97.66 416.68 L98.38 417.65 L99.11 418.61 L99.83 419.56 L100.55 420.49 L101.27 421.41 L102.00 422.32 L102.72 423.21 L103.44 424.10 L104.16 424.97 L104.89 425.84 L105.61 426.69 L106.33 427.54 L107.05 428.37 L107.78 429.20 L108.50 430.02 L109.22 430.82 L109.94 431.62 L110.67 432.42 L111.39 433.20 L112.11 433.98 L112.83 434.74 L113.56 435.51 L114.28 436.26 L115.00 437.01 L116.81 438.84 L118.61 440.64 L120.42 442.39 L122.22 444.10 L124.03 445.78 L125.84 447.42 L127.64 449.03 L129.45 450.60 L131.26 452.15 L133.06 453.66 L134.87 455.15 L136.68 456.61 L138.48 458.05 L140.29 459.46 L142.09 460.84 L143.90 462.21 L145.71 463.55 L147.51 464.87 L149.32 466.17 L151.12 467.46 L152.93 468.72 L154.74 469.96 L156.54 471.19 L158.35 472.39 L160.16 473.58 L161.96 474.75 L163.77 475.91 L165.57 477.05 L167.38 478.17 L169.19 479.28 L170.99 480.37 L172.80 481.45 L174.61 482.51 L176.41 483.56 L178.22 484.59 L180.03 485.61 L181.83 486.62 L183.64 487.61 L185.44 488.60 L187.25 489.57 L189.06 490.52 L190.86 491.47 L192.67 492.41 L194.47 493.33 L196.28 494.25 L198.09 495.15 L199.89 496.05 L201.70 496.93 L203.51 497.81 L205.31 498.67 L207.12 499.53 L208.92 500.37 L210.73 501.21 L212.54 502.04 L214.34 502.86 L216.15 503.67 L217.96 504.48 L219.76 505.27 L221.57 506.06 L223.38 506.84 L225.18 507.61 L226.99 508.38 L228.79 509.14 L230.60 509.89 L232.41 510.64 L234.21 511.38 L236.02 512.12 L237.82 512.85 L239.63 513.57 L241.44 514.29 L243.24 515.00 L245.05 515.71 L246.86 516.41 L248.66 517.10 L250.47 517.79 L252.27 518.48 L254.08 519.15 L255.89 519.83 L257.69 520.49 L259.50 521.15 L261.31 521.81 L263.11 522.46 L264.92 523.10 L266.73 523.74 L268.53 524.38 L270.34 525.01 L272.14 525.63 L273.95 526.25 L275.76 526.86 L277.56 527.48 L279.37 528.08 L281.17 528.69 L282.98 529.29 L284.79 529.88 L286.59 530.47 L288.40 531.06 L290.21 531.65 L292.01 532.23 L293.82 532.81 L295.62 533.38 L297.43 533.95 L299.24 534.52 L301.04 535.08 L302.85 535.64 L304.66 536.20 L306.46 536.75 L308.27 537.30 L310.07 537.84 L311.88 538.39 L313.69 538.93 L315.49 539.46 L317.30 539.99 L319.11 540.52 L320.91 541.05 L322.72 541.57 L324.52 542.09 L324.52 556.09 L322.72 555.55 L320.91 555.01 L319.11 554.46 L317.30 553.91 L315.49 553.36 L313.69 552.80 L311.88 552.24 L310.07 551.68 L308.27 551.11 L306.46 550.54 L304.66 549.96 L302.85 549.38 L301.04 548.80 L299.24 548.22 L297.43 547.63 L295.62 547.04 L293.82 546.44 L292.01 545.84 L290.21 545.24 L288.40 544.63 L286.59 544.02 L284.79 543.40 L282.98 542.79 L281.17 542.16 L279.37 541.54 L277.56 540.91 L275.76 540.27 L273.95 539.64 L272.14 538.99 L270.34 538.35 L268.53 537.69 L266.73 537.04 L264.92 536.37 L263.11 535.71 L261.31 535.03 L259.50 534.35 L257.69 533.67 L255.89 532.98 L254.08 532.28 L252.27 531.58 L250.47 530.88 L248.66 530.17 L246.86 529.45 L245.05 528.73 L243.24 528.00 L241.44 527.26 L239.63 526.52 L237.82 525.77 L236.02 525.02 L234.21 524.26 L232.41 523.50 L230.60 522.73 L228.79 521.95 L226.99 521.17 L225.18 520.38 L223.38 519.58 L221.57 518.78 L219.76 517.97 L217.96 517.15 L216.15 516.32 L214.34 515.48 L212.54 514.63 L210.73 513.78 L208.92 512.91 L207.12 512.04 L205.31 511.16 L203.51 510.26 L201.70 509.36 L199.89 508.44 L198.09 507.52 L196.28 506.58 L194.47 505.63 L192.67 504.67 L190.86 503.70 L189.06 502.71 L187.25 501.72 L185.44 500.70 L183.64 499.67 L181.83 498.62 L180.03 497.55 L178.22 496.45 L176.41 495.34 L174.61 494.21 L172.80 493.06 L170.99 491.89 L169.19 490.69 L167.38 489.48 L165.57 488.25 L163.77 486.99 L161.96 485.72 L160.16 484.43 L158.35 483.11 L156.54 481.78 L154.74 480.42 L152.93 479.05 L151.12 477.66 L149.32 476.24 L147.51 474.80 L145.71 473.33 L143.90 471.83 L142.09 470.30 L140.29 468.74 L138.48 467.16 L136.68 465.54 L134.87 463.89 L133.06 462.20 L131.26 460.49 L129.45 458.74 L127.64 456.95 L125.84 455.13 L124.03 453.27 L122.22 451.38 L120.42 449.44 L118.61 447.47 L116.81 445.46 L115.00 443.41 L114.28 442.57 L113.56 441.73 L112.83 440.88 L112.11 440.03 L111.39 439.16 L110.67 438.28 L109.94 437.40 L109.22 436.51 L108.50 435.61 L107.78 434.70 L107.05 433.78 L106.33 432.85 L105.61 431.91 L104.89 430.96 L104.16 430.00 L103.44 429.03 L102.72 428.05 L102.00 427.06 L101.27 426.06 L100.55 425.04 L99.83 424.02 L99.11 422.98 L98.38 421.93 L97.66 420.87 L96.94 419.80 L96.22 418.71 L95.49 417.61 L94.77 416.49 L94.05 415.36 L93.33 414.21 L92.60 413.05 L91.88 411.87 L91.16 410.67 L90.44 409.46 L89.71 408.23 L88.99 406.99 L88.27 405.72 L87.55 404.44 L86.82 403.14 L86.10 401.82 L85.38 400.48 L84.66 399.13 L83.93 397.75 L83.21 396.35 L82.49 394.94 L81.77 393.50 L81.04 392.04 L80.32 390.56 L79.60 389.05 L78.88 387.53 L78.15 385.98 L77.43 384.40 L76.71 382.79 L75.99 381.15 L75.26 379.48 L74.54 377.78 L73.82 376.04 L73.09 374.27 L72.37 372.46 L71.65 370.61 L70.93 368.72 L70.21 366.79 L69.48 364.82 L68.76 362.81 L68.04 360.74 L67.31 358.63 L66.59 356.47 L65.87 354.26 L65.15 352.00 L64.42 349.68 L64.28 349.21 L64.14 348.73 L63.99 348.26 L63.85 347.78 L63.70 347.30 L63.56 346.81 L63.41 346.33 L63.27 345.84 L63.12 345.35 L62.98 344.86 L62.84 344.36 L62.69 343.87 L62.55 343.36 L62.40 342.86 L62.26 342.36 L62.11 341.85 L61.97 341.34 L61.82 340.82 L61.68 340.31 L61.54 339.79 L61.39 339.27 L61.25 338.74 L61.10 338.22 L60.96 337.69 L60.81 337.16 L60.67 336.62 L60.52 336.08 L60.38 335.54 L60.23 335.00 L60.09 334.45 L59.95 333.91 L59.80 333.35 L59.66 332.80 L59.51 332.24 L59.37 331.68 L59.22 331.12 L59.08 330.55 L58.93 329.98 L58.79 329.41 L58.65 328.84 L58.50 328.26 L58.36 327.68 L58.21 327.10 L58.07 326.51 L57.92 325.92 L57.78 325.33 L57.63 324.73 L57.49 324.14 L57.34 323.54 L57.20 322.93 Z" fill="#e6bdf5" stroke="none"/>
<path d="M57.20 322.63 L57.34 323.24 L57.49 323.84 L57.63 324.43 L57.78 325.03 L57.92 325.62 L58.07 326.21 L58.21 326.79 L58.36 327.37 L58.50 327.95 L58.65 328.53 L58.79 329.10 L58.93 329.67 L59.08 330.24 L59.22 330.80 L59.37 331.36 L59.51 331.92 L59.66 332.47 L59.80 333.03 L59.95 333.57 L60.09 334.12 L60.23 334.66 L60.38 335.20 L60.52 335.74 L60.67 336.27 L60.81 336.81 L60.96 337.33 L61.10 337.86 L61.25 338.38 L61.39 338.90 L61.54 339.42 L61.68 339.94 L61.82 340.45 L61.97 340.96 L62.11 341.46 L62.26 341.97 L62.40 342.47 L62.55 342.97 L62.69 343.46 L62.84 343.96 L62.98 344.45 L63.12 344.94 L63.27 345.42 L63.41 345.90 L63.56 346.39 L63.70 346.86 L63.85 347.34 L63.99 347.81 L64.14 348.28 L64.28 348.75 L64.42 349.22 L65.15 351.51 L65.87 353.75 L66.59 355.94 L67.31 358.07 L68.04 360.15 L68.76 362.19 L69.48 364.18 L70.21 366.12 L70.93 368.02 L71.65 369.88 L72.37 371.70 L73.09 373.48 L73.82 375.23 L74.54 376.94 L75.26 378.62 L75.99 380.26 L76.71 381.87 L77.43 383.45 L78.15 385.00 L78.88 386.53 L79.60 388.02 L80.32 389.49 L81.04 390.94 L81.77 392.36 L82.49 393.75 L83.21 395.13 L83.93 396.48 L84.66 397.80 L85.38 399.11 L86.10 400.40 L86.82 401.66 L87.55 402.91 L88.27 404.14 L88.99 405.35 L89.71 406.54 L90.44 407.72 L91.16 408.88 L91.88 410.02 L92.60 411.15 L93.33 412.26 L94.05 413.35 L94.77 414.44 L95.49 415.50 L96.22 416.56 L96.94 417.60 L97.66 418.62 L98.38 419.64 L99.11 420.64 L99.83 421.63 L100.55 422.60 L101.27 423.57 L102.00 424.52 L102.72 425.47 L103.44 426.40 L104.16 427.32 L104.89 428.23 L105.61 429.13 L106.33 430.02 L107.05 430.90 L107.78 431.78 L108.50 432.64 L109.22 433.49 L109.94 434.33 L110.67 435.17 L111.39 436.00 L112.11 436.81 L112.83 437.62 L113.56 438.43 L114.28 439.22 L115.00 440.01 L116.81 441.94 L118.61 443.83 L120.42 445.68 L122.22 447.49 L124.03 449.25 L125.84 450.99 L127.64 452.69 L129.45 454.35 L131.26 455.98 L133.06 457.58 L134.87 459.15 L136.68 460.69 L138.48 462.20 L140.29 463.68 L142.09 465.14 L143.90 466.57 L145.71 467.98 L147.51 469.36 L149.32 470.72 L151.12 472.06 L152.93 473.37 L154.74 474.67 L156.54 475.94 L158.35 477.19 L160.16 478.43 L161.96 479.65 L163.77 480.84 L165.57 482.02 L167.38 483.19 L169.19 484.33 L170.99 485.46 L172.80 486.58 L174.61 487.68 L176.41 488.76 L178.22 489.83 L180.03 490.88 L181.83 491.92 L183.64 492.95 L185.44 493.97 L187.25 494.97 L189.06 495.96 L190.86 496.93 L192.67 497.90 L194.47 498.85 L196.28 499.79 L198.09 500.72 L199.89 501.64 L201.70 502.55 L203.51 503.45 L205.31 504.34 L207.12 505.22 L208.92 506.09 L210.73 506.95 L212.54 507.81 L214.34 508.65 L216.15 509.48 L217.96 510.31 L219.76 511.12 L221.57 511.93 L223.38 512.73 L225.18 513.53 L226.99 514.32 L228.79 515.10 L230.60 515.87 L232.41 516.64 L234.21 517.40 L236.02 518.16 L237.82 518.91 L239.63 519.65 L241.44 520.39 L243.24 521.12 L245.05 521.85 L246.86 522.57 L248.66 523.28 L250.47 523.99 L252.27 524.69 L254.08 525.39 L255.89 526.08 L257.69 526.77 L259.50 527.45 L261.31 528.13 L263.11 528.80 L264.92 529.46 L266.73 530.12 L268.53 530.78 L270.34 531.43 L272.14 532.07 L273.95 532.71 L275.76 533.35 L277.56 533.98 L279.37 534.60 L281.17 535.23 L282.98 535.85 L284.79 536.46 L286.59 537.07 L288.40 537.68 L290.21 538.29 L292.01 538.89 L293.82 539.49 L295.62 540.08 L297.43 540.67 L299.24 541.25 L301.04 541.84 L302.85 542.42 L304.66 542.99 L306.46 543.56 L308.27 544.13 L310.07 544.70 L311.88 545.26 L313.69 545.82 L315.49 546.37 L317.30 546.92 L319.11 547.47 L320.91 548.01 L322.72 548.55 L324.52 549.09" fill="none" stroke="#a226ba" stroke-width="1.1" />
<path d="M57.20 295.98 L57.34 296.59 L57.49 297.18 L57.63 297.78 L57.78 298.37 L57.92 298.96 L58.07 299.55 L58.21 300.13 L58.36 300.70 L58.50 301.28 L58.65 301.85 L58.79 302.42 L58.93 302.98 L59.08 303.54 L59.22 304.10 L59.37 304.65 L59.51 305.20 L59.66 305.75 L59.80 306.29 L59.95 306.83 L60.09 307.37 L60.23 307.90 L60.38 308.43 L60.52 308.96 L60.67 309.48 L60.81 310.00 L60.96 310.52 L61.10 311.04 L61.25 311.55 L61.39 312.06 L61.54 312.56 L61.68 313.07 L61.82 313.57 L61.97 314.06 L62.11 314.56 L62.26 315.05 L62.40 315.54 L62.55 316.02 L62.69 316.51 L62.84 316.99 L62.98 317.46 L63.12 317.94 L63.27 318.41 L63.41 318.88 L63.56 319.35 L63.70 319.81 L63.85 320.27 L63.99 320.73 L64.14 321.19 L64.28 321.64 L64.42 322.10 L65.15 324.32 L65.87 326.48 L66.59 328.59 L67.31 330.65 L68.04 332.65 L68.76 334.61 L69.48 336.52 L70.21 338.38 L70.93 340.21 L71.65 341.99 L72.37 343.73 L73.09 345.44 L73.82 347.11 L74.54 348.74 L75.26 350.34 L75.99 351.91 L76.71 353.45 L77.43 354.96 L78.15 356.44 L78.88 357.90 L79.60 359.32 L80.32 360.72 L81.04 362.08 L81.77 363.42 L82.49 364.73 L83.21 366.02 L83.93 367.28 L84.66 368.52 L85.38 369.73 L86.10 370.93 L86.82 372.10 L87.55 373.25 L88.27 374.38 L88.99 375.49 L89.71 376.58 L90.44 377.66 L91.16 378.71 L91.88 379.75 L92.60 380.78 L93.33 381.79 L94.05 382.78 L94.77 383.76 L95.49 384.72 L96.22 385.67 L96.94 386.61 L97.66 387.53 L98.38 388.43 L99.11 389.31 L99.83 390.17 L100.55 391.01 L101.27 391.84 L102.00 392.66 L102.72 393.46 L103.44 394.25 L104.16 395.03 L104.89 395.80 L105.61 396.56 L106.33 397.31 L107.05 398.05 L107.78 398.78 L108.50 399.51 L109.22 400.23 L109.94 400.94 L110.67 401.65 L111.39 402.35 L112.11 403.05 L112.83 403.74 L113.56 404.43 L114.28 405.12 L115.00 405.81 L116.81 407.49 L118.61 409.14 L120.42 410.75 L122.22 412.32 L124.03 413.86 L125.84 415.37 L127.64 416.84 L129.45 418.30 L131.26 419.72 L133.06 421.12 L134.87 422.50 L136.68 423.85 L138.48 425.19 L140.29 426.50 L142.09 427.80 L143.90 429.08 L145.71 430.34 L147.51 431.58 L149.32 432.81 L151.12 434.03 L152.93 435.23 L154.74 436.41 L156.54 437.58 L158.35 438.72 L160.16 439.86 L161.96 440.97 L163.77 442.07 L165.57 443.16 L167.38 444.24 L169.19 445.30 L170.99 446.35 L172.80 447.38 L174.61 448.41 L176.41 449.42 L178.22 450.42 L180.03 451.41 L181.83 452.39 L183.64 453.36 L185.44 454.32 L187.25 455.27 L189.06 456.21 L190.86 457.14 L192.67 458.06 L194.47 458.98 L196.28 459.88 L198.09 460.78 L199.89 461.66 L201.70 462.53 L203.51 463.40 L205.31 464.26 L207.12 465.10 L208.92 465.94 L210.73 466.76 L212.54 467.58 L214.34 468.38 L216.15 469.18 L217.96 469.96 L219.76 470.74 L221.57 471.50 L223.38 472.26 L225.18 473.00 L226.99 473.74 L228.79 474.48 L230.60 475.20 L232.41 475.92 L234.21 476.64 L236.02 477.34 L237.82 478.04 L239.63 478.74 L241.44 479.43 L243.24 480.12 L245.05 480.79 L246.86 481.47 L248.66 482.14 L250.47 482.80 L252.27 483.47 L254.08 484.12 L255.89 484.77 L257.69 485.42 L259.50 486.07 L261.31 486.70 L263.11 487.34 L264.92 487.97 L266.73 488.59 L268.53 489.21 L270.34 489.83 L272.14 490.44 L273.95 491.05 L275.76 491.65 L277.56 492.25 L279.37 492.84 L281.17 493.43 L282.98 494.02 L284.79 494.60 L286.59 495.19 L288.40 495.76 L290.21 496.34 L292.01 496.91 L293.82 497.48 L295.62 498.04 L297.43 498.60 L299.24 499.16 L301.04 499.72 L302.85 500.27 L304.66 500.82 L306.46 501.36 L308.27 501.90 L310.07 502.44 L311.88 502.98 L313.69 503.51 L315.49 504.04 L317.30 504.57 L319.11 505.09 L320.91 505.61 L322.72 506.13 L324.52 506.64 L324.52 508.34 L322.72 507.82 L320.91 507.30 L319.11 506.78 L317.30 506.25 L315.49 505.72 L313.69 505.18 L311.88 504.65 L310.07 504.11 L308.27 503.56 L306.46 503.02 L304.66 502.47 L302.85 501.91 L301.04 501.36 L299.24 500.80 L297.43 500.24 L295.62 499.67 L293.82 499.10 L292.01 498.53 L290.21 497.95 L288.40 497.37 L286.59 496.79 L284.79 496.20 L282.98 495.61 L281.17 495.02 L279.37 494.42 L277.56 493.82 L275.76 493.22 L273.95 492.61 L272.14 492.00 L270.34 491.39 L268.53 490.77 L266.73 490.14 L264.92 489.51 L263.11 488.88 L261.31 488.24 L259.50 487.59 L257.69 486.95 L255.89 486.29 L254.08 485.64 L252.27 484.97 L250.47 484.31 L248.66 483.64 L246.86 482.96 L245.05 482.28 L243.24 481.60 L241.44 480.91 L239.63 480.21 L237.82 479.51 L236.02 478.80 L234.21 478.09 L232.41 477.37 L230.60 476.65 L228.79 475.91 L226.99 475.18 L225.18 474.43 L223.38 473.68 L221.57 472.92 L219.76 472.15 L217.96 471.37 L216.15 470.58 L214.34 469.78 L212.54 468.96 L210.73 468.14 L208.92 467.31 L207.12 466.47 L205.31 465.62 L203.51 464.76 L201.70 463.89 L199.89 463.01 L198.09 462.11 L196.28 461.21 L194.47 460.30 L192.67 459.38 L190.86 458.45 L189.06 457.51 L187.25 456.57 L185.44 455.61 L183.64 454.64 L181.83 453.66 L180.03 452.68 L178.22 451.68 L176.41 450.67 L174.61 449.65 L172.80 448.62 L170.99 447.57 L169.19 446.52 L167.38 445.45 L165.57 444.37 L163.77 443.27 L161.96 442.16 L160.16 441.04 L158.35 439.90 L156.54 438.74 L154.74 437.57 L152.93 436.38 L151.12 435.17 L149.32 433.94 L147.51 432.71 L145.71 431.45 L143.90 430.18 L142.09 428.89 L140.29 427.59 L138.48 426.27 L136.68 424.93 L134.87 423.56 L133.06 422.18 L131.26 420.77 L129.45 419.34 L127.64 417.88 L125.84 416.40 L124.03 414.88 L122.22 413.34 L120.42 411.76 L118.61 410.15 L116.81 408.50 L115.00 406.81 L114.28 406.12 L113.56 405.43 L112.83 404.74 L112.11 404.04 L111.39 403.34 L110.67 402.64 L109.94 401.93 L109.22 401.22 L108.50 400.50 L107.78 399.77 L107.05 399.04 L106.33 398.29 L105.61 397.54 L104.89 396.78 L104.16 396.01 L103.44 395.23 L102.72 394.44 L102.00 393.64 L101.27 392.82 L100.55 391.99 L99.83 391.14 L99.11 390.28 L98.38 389.40 L97.66 388.50 L96.94 387.58 L96.22 386.64 L95.49 385.69 L94.77 384.72 L94.05 383.74 L93.33 382.75 L92.60 381.74 L91.88 380.71 L91.16 379.67 L90.44 378.61 L89.71 377.54 L88.99 376.44 L88.27 375.33 L87.55 374.20 L86.82 373.05 L86.10 371.87 L85.38 370.68 L84.66 369.46 L83.93 368.23 L83.21 366.96 L82.49 365.68 L81.77 364.36 L81.04 363.02 L80.32 361.66 L79.60 360.26 L78.88 358.83 L78.15 357.38 L77.43 355.89 L76.71 354.38 L75.99 352.84 L75.26 351.27 L74.54 349.67 L73.82 348.03 L73.09 346.36 L72.37 344.65 L71.65 342.91 L70.93 341.12 L70.21 339.30 L69.48 337.43 L68.76 335.52 L68.04 333.57 L67.31 331.56 L66.59 329.50 L65.87 327.39 L65.15 325.23 L64.42 323.00 L64.28 322.55 L64.14 322.10 L63.99 321.64 L63.85 321.18 L63.70 320.72 L63.56 320.25 L63.41 319.79 L63.27 319.32 L63.12 318.84 L62.98 318.37 L62.84 317.89 L62.69 317.41 L62.55 316.93 L62.40 316.44 L62.26 315.95 L62.11 315.46 L61.97 314.97 L61.82 314.47 L61.68 313.97 L61.54 313.47 L61.39 312.96 L61.25 312.45 L61.10 311.94 L60.96 311.42 L60.81 310.91 L60.67 310.38 L60.52 309.86 L60.38 309.33 L60.23 308.80 L60.09 308.27 L59.95 307.73 L59.80 307.19 L59.66 306.65 L59.51 306.10 L59.37 305.55 L59.22 305.00 L59.08 304.44 L58.93 303.88 L58.79 303.32 L58.65 302.75 L58.50 302.18 L58.36 301.61 L58.21 301.03 L58.07 300.45 L57.92 299.86 L57.78 299.27 L57.63 298.68 L57.49 298.08 L57.34 297.49 L57.20 296.88 Z" fill="#fff" stroke="#000" stroke-width="1.1" stroke-linejoin="miter"/>
<path d="M57.20 324.08 L57.34 324.70 L57.49 325.31 L57.63 325.92 L57.78 326.52 L57.92 327.12 L58.07 327.72 L58.21 328.31 L58.36 328.90 L58.50 329.49 L58.65 330.07 L58.79 330.65 L58.93 331.22 L59.08 331.79 L59.22 332.36 L59.37 332.93 L59.51 333.49 L59.66 334.05 L59.80 334.60 L59.95 335.15 L60.09 335.70 L60.23 336.25 L60.38 336.79 L60.52 337.32 L60.67 337.86 L60.81 338.39 L60.96 338.92 L61.10 339.45 L61.25 339.97 L61.39 340.49 L61.54 341.00 L61.68 341.52 L61.82 342.03 L61.97 342.54 L62.11 343.04 L62.26 343.54 L62.40 344.04 L62.55 344.54 L62.69 345.03 L62.84 345.52 L62.98 346.01 L63.12 346.49 L63.27 346.97 L63.41 347.45 L63.56 347.93 L63.70 348.41 L63.85 348.88 L63.99 349.35 L64.14 349.81 L64.28 350.28 L64.42 350.74 L65.15 353.01 L65.87 355.22 L66.59 357.37 L67.31 359.47 L68.04 361.52 L68.76 363.52 L69.48 365.47 L70.21 367.38 L70.93 369.24 L71.65 371.06 L72.37 372.85 L73.09 374.59 L73.82 376.30 L74.54 377.97 L75.26 379.61 L75.99 381.21 L76.71 382.79 L77.43 384.33 L78.15 385.85 L78.88 387.33 L79.60 388.79 L80.32 390.22 L81.04 391.62 L81.77 392.99 L82.49 394.33 L83.21 395.64 L83.93 396.94 L84.66 398.20 L85.38 399.45 L86.10 400.67 L86.82 401.87 L87.55 403.04 L88.27 404.20 L88.99 405.34 L89.71 406.46 L90.44 407.56 L91.16 408.64 L91.88 409.71 L92.60 410.76 L93.33 411.79 L94.05 412.81 L94.77 413.82 L95.49 414.80 L96.22 415.78 L96.94 416.74 L97.66 417.68 L98.38 418.60 L99.11 419.51 L99.83 420.39 L100.55 421.26 L101.27 422.11 L102.00 422.95 L102.72 423.77 L103.44 424.59 L104.16 425.39 L104.89 426.18 L105.61 426.95 L106.33 427.72 L107.05 428.49 L107.78 429.24 L108.50 429.98 L109.22 430.72 L109.94 431.46 L110.67 432.18 L111.39 432.91 L112.11 433.62 L112.83 434.34 L113.56 435.05 L114.28 435.75 L115.00 436.46 L116.81 438.19 L118.61 439.88 L120.42 441.53 L122.22 443.15 L124.03 444.73 L125.84 446.28 L127.64 447.81 L129.45 449.30 L131.26 450.77 L133.06 452.21 L134.87 453.63 L136.68 455.02 L138.48 456.40 L140.29 457.75 L142.09 459.08 L143.90 460.40 L145.71 461.70 L147.51 462.98 L149.32 464.25 L151.12 465.50 L152.93 466.74 L154.74 467.95 L156.54 469.15 L158.35 470.34 L160.16 471.50 L161.96 472.65 L163.77 473.79 L165.57 474.91 L167.38 476.01 L169.19 477.11 L170.99 478.19 L172.80 479.25 L174.61 480.31 L176.41 481.35 L178.22 482.38 L180.03 483.40 L181.83 484.41 L183.64 485.40 L185.44 486.39 L187.25 487.37 L189.06 488.34 L190.86 489.29 L192.67 490.24 L194.47 491.18 L196.28 492.11 L198.09 493.03 L199.89 493.94 L201.70 494.84 L203.51 495.73 L205.31 496.61 L207.12 497.48 L208.92 498.34 L210.73 499.19 L212.54 500.03 L214.34 500.86 L216.15 501.68 L217.96 502.48 L219.76 503.28 L221.57 504.07 L223.38 504.85 L225.18 505.61 L226.99 506.38 L228.79 507.13 L230.60 507.88 L232.41 508.62 L234.21 509.35 L236.02 510.08 L237.82 510.81 L239.63 511.52 L241.44 512.23 L243.24 512.94 L245.05 513.64 L246.86 514.33 L248.66 515.02 L250.47 515.71 L252.27 516.39 L254.08 517.06 L255.89 517.73 L257.69 518.40 L259.50 519.06 L261.31 519.72 L263.11 520.38 L264.92 521.02 L266.73 521.67 L268.53 522.30 L270.34 522.94 L272.14 523.57 L273.95 524.19 L275.76 524.81 L277.56 525.43 L279.37 526.04 L281.17 526.65 L282.98 527.25 L284.79 527.85 L286.59 528.45 L288.40 529.05 L290.21 529.64 L292.01 530.23 L293.82 530.81 L295.62 531.39 L297.43 531.97 L299.24 532.54 L301.04 533.11 L302.85 533.68 L304.66 534.25 L306.46 534.81 L308.27 535.37 L310.07 535.92 L311.88 536.47 L313.69 537.02 L315.49 537.56 L317.30 538.11 L319.11 538.64 L320.91 539.18 L322.72 539.71 L324.52 540.24 L324.52 541.94 L322.72 541.41 L320.91 540.87 L319.11 540.33 L317.30 539.79 L315.49 539.24 L313.69 538.69 L311.88 538.14 L310.07 537.58 L308.27 537.03 L306.46 536.46 L304.66 535.90 L302.85 535.33 L301.04 534.76 L299.24 534.18 L297.43 533.60 L295.62 533.02 L293.82 532.43 L292.01 531.84 L290.21 531.25 L288.40 530.66 L286.59 530.06 L284.79 529.45 L282.98 528.85 L281.17 528.24 L279.37 527.62 L277.56 527.01 L275.76 526.38 L273.95 525.76 L272.14 525.13 L270.34 524.50 L268.53 523.86 L266.73 523.22 L264.92 522.57 L263.11 521.91 L261.31 521.26 L259.50 520.59 L257.69 519.93 L255.89 519.25 L254.08 518.58 L252.27 517.90 L250.47 517.21 L248.66 516.52 L246.86 515.83 L245.05 515.12 L243.24 514.42 L241.44 513.71 L239.63 512.99 L237.82 512.27 L236.02 511.54 L234.21 510.81 L232.41 510.07 L230.60 509.32 L228.79 508.57 L226.99 507.81 L225.18 507.04 L223.38 506.27 L221.57 505.48 L219.76 504.69 L217.96 503.89 L216.15 503.08 L214.34 502.25 L212.54 501.42 L210.73 500.57 L208.92 499.72 L207.12 498.85 L205.31 497.98 L203.51 497.09 L201.70 496.19 L199.89 495.29 L198.09 494.37 L196.28 493.45 L194.47 492.51 L192.67 491.56 L190.86 490.61 L189.06 489.64 L187.25 488.67 L185.44 487.68 L183.64 486.69 L181.83 485.68 L180.03 484.67 L178.22 483.64 L176.41 482.60 L174.61 481.55 L172.80 480.49 L170.99 479.41 L169.19 478.33 L167.38 477.23 L165.57 476.11 L163.77 474.98 L161.96 473.84 L160.16 472.68 L158.35 471.51 L156.54 470.32 L154.74 469.11 L152.93 467.88 L151.12 466.64 L149.32 465.38 L147.51 464.10 L145.71 462.81 L143.90 461.51 L142.09 460.18 L140.29 458.84 L138.48 457.48 L136.68 456.09 L134.87 454.69 L133.06 453.26 L131.26 451.82 L129.45 450.34 L127.64 448.84 L125.84 447.31 L124.03 445.76 L122.22 444.17 L120.42 442.54 L118.61 440.89 L116.81 439.19 L115.00 437.46 L114.28 436.75 L113.56 436.04 L112.83 435.33 L112.11 434.62 L111.39 433.90 L110.67 433.18 L109.94 432.45 L109.22 431.71 L108.50 430.97 L107.78 430.23 L107.05 429.47 L106.33 428.71 L105.61 427.94 L104.89 427.16 L104.16 426.37 L103.44 425.57 L102.72 424.75 L102.00 423.93 L101.27 423.09 L100.55 422.23 L99.83 421.37 L99.11 420.48 L98.38 419.58 L97.66 418.65 L96.94 417.71 L96.22 416.75 L95.49 415.77 L94.77 414.78 L94.05 413.78 L93.33 412.76 L92.60 411.72 L91.88 410.67 L91.16 409.60 L90.44 408.52 L89.71 407.42 L88.99 406.29 L88.27 405.15 L87.55 403.99 L86.82 402.82 L86.10 401.61 L85.38 400.39 L84.66 399.15 L83.93 397.88 L83.21 396.59 L82.49 395.27 L81.77 393.93 L81.04 392.55 L80.32 391.16 L79.60 389.73 L78.88 388.27 L78.15 386.78 L77.43 385.26 L76.71 383.72 L75.99 382.14 L75.26 380.53 L74.54 378.89 L73.82 377.22 L73.09 375.51 L72.37 373.77 L71.65 371.98 L70.93 370.16 L70.21 368.30 L69.48 366.39 L68.76 364.44 L68.04 362.44 L67.31 360.39 L66.59 358.28 L65.87 356.13 L65.15 353.92 L64.42 351.64 L64.28 351.18 L64.14 350.72 L63.99 350.25 L63.85 349.78 L63.70 349.31 L63.56 348.84 L63.41 348.36 L63.27 347.88 L63.12 347.40 L62.98 346.91 L62.84 346.42 L62.69 345.93 L62.55 345.44 L62.40 344.94 L62.26 344.45 L62.11 343.94 L61.97 343.44 L61.82 342.93 L61.68 342.42 L61.54 341.91 L61.39 341.39 L61.25 340.87 L61.10 340.35 L60.96 339.82 L60.81 339.29 L60.67 338.76 L60.52 338.23 L60.38 337.69 L60.23 337.15 L60.09 336.60 L59.95 336.05 L59.80 335.50 L59.66 334.95 L59.51 334.39 L59.37 333.83 L59.22 333.26 L59.08 332.70 L58.93 332.12 L58.79 331.55 L58.65 330.97 L58.50 330.39 L58.36 329.80 L58.21 329.21 L58.07 328.62 L57.92 328.02 L57.78 327.42 L57.63 326.82 L57.49 326.21 L57.34 325.60 L57.20 324.98 Z" fill="#fff" stroke="#000" stroke-width="1.1" stroke-linejoin="miter"/>
</g>
<g clip-path="url(#cBR)">
<path d="M345.25 291.29 L345.39 291.88 L345.54 292.48 L345.68 293.06 L345.83 293.65 L345.97 294.23 L346.12 294.81 L346.26 295.39 L346.41 295.97 L346.55 296.54 L346.69 297.11 L346.84 297.68 L346.98 298.24 L347.13 298.80 L347.27 299.36 L347.42 299.92 L347.56 300.47 L347.71 301.02 L347.85 301.57 L348.00 302.12 L348.14 302.66 L348.28 303.20 L348.43 303.74 L348.57 304.27 L348.72 304.80 L348.86 305.33 L349.01 305.86 L349.15 306.38 L349.30 306.91 L349.44 307.43 L349.59 307.94 L349.73 308.46 L349.87 308.97 L350.02 309.48 L350.16 309.98 L350.31 310.49 L350.45 310.99 L350.60 311.49 L350.74 311.99 L350.89 312.48 L351.03 312.97 L351.17 313.46 L351.32 313.95 L351.46 314.43 L351.61 314.92 L351.75 315.40 L351.90 315.88 L352.04 316.35 L352.19 316.82 L352.33 317.29 L352.48 317.76 L353.20 320.07 L353.92 322.33 L354.64 324.53 L355.37 326.68 L356.09 328.79 L356.81 330.84 L357.53 332.85 L358.25 334.82 L358.98 336.75 L359.70 338.63 L360.42 340.48 L361.15 342.28 L361.87 344.05 L362.59 345.79 L363.31 347.49 L364.04 349.16 L364.76 350.80 L365.48 352.41 L366.20 353.99 L366.93 355.54 L367.65 357.06 L368.37 358.55 L369.09 360.01 L369.82 361.45 L370.54 362.86 L371.26 364.24 L371.98 365.60 L372.71 366.94 L373.43 368.25 L374.15 369.54 L374.87 370.81 L375.60 372.06 L376.32 373.29 L377.04 374.50 L377.76 375.69 L378.49 376.86 L379.21 378.02 L379.93 379.15 L380.65 380.28 L381.38 381.38 L382.10 382.47 L382.82 383.55 L383.54 384.61 L384.27 385.66 L384.99 386.69 L385.71 387.71 L386.43 388.71 L387.16 389.69 L387.88 390.66 L388.60 391.61 L389.32 392.55 L390.05 393.47 L390.77 394.39 L391.49 395.28 L392.21 396.17 L392.94 397.05 L393.66 397.91 L394.38 398.76 L395.10 399.61 L395.83 400.44 L396.55 401.27 L397.27 402.08 L397.99 402.89 L398.72 403.69 L399.44 404.48 L400.16 405.26 L400.88 406.03 L401.61 406.80 L402.33 407.56 L403.05 408.32 L404.86 410.16 L406.66 411.96 L408.47 413.70 L410.27 415.40 L412.08 417.05 L413.89 418.67 L415.69 420.25 L417.50 421.80 L419.31 423.32 L421.11 424.82 L422.92 426.28 L424.73 427.73 L426.53 429.15 L428.34 430.56 L430.14 431.94 L431.95 433.31 L433.76 434.66 L435.56 436.00 L437.37 437.33 L439.18 438.64 L440.98 439.94 L442.79 441.22 L444.59 442.48 L446.40 443.72 L448.21 444.95 L450.01 446.16 L451.82 447.35 L453.62 448.53 L455.43 449.69 L457.24 450.83 L459.04 451.96 L460.85 453.08 L462.66 454.18 L464.46 455.27 L466.27 456.35 L468.08 457.41 L469.88 458.46 L471.69 459.50 L473.49 460.53 L475.30 461.54 L477.11 462.54 L478.91 463.53 L480.72 464.51 L482.52 465.48 L484.33 466.44 L486.14 467.39 L487.94 468.33 L489.75 469.26 L491.56 470.17 L493.36 471.08 L495.17 471.98 L496.98 472.87 L498.78 473.75 L500.59 474.62 L502.39 475.48 L504.20 476.33 L506.01 477.18 L507.81 478.01 L509.62 478.84 L511.43 479.66 L513.23 480.47 L515.04 481.28 L516.84 482.08 L518.65 482.88 L520.46 483.68 L522.26 484.47 L524.07 485.25 L525.88 486.03 L527.68 486.81 L529.49 487.58 L531.29 488.34 L533.10 489.09 L534.91 489.84 L536.71 490.59 L538.52 491.33 L540.33 492.06 L542.13 492.78 L543.94 493.50 L545.74 494.21 L547.55 494.91 L549.36 495.61 L551.16 496.29 L552.97 496.98 L554.77 497.65 L556.58 498.31 L558.39 498.97 L560.19 499.62 L562.00 500.26 L563.81 500.90 L565.61 501.53 L567.42 502.15 L569.23 502.77 L571.03 503.39 L572.84 503.99 L574.64 504.60 L576.45 505.20 L578.26 505.79 L580.06 506.38 L581.87 506.96 L583.67 507.54 L585.48 508.11 L587.29 508.68 L589.09 509.25 L590.90 509.81 L592.71 510.37 L594.51 510.92 L596.32 511.47 L598.12 512.01 L599.93 512.55 L601.74 513.09 L603.54 513.62 L605.35 514.14 L607.16 514.67 L608.96 515.19 L610.77 515.71 L612.58 516.22 L612.58 531.12 L610.77 530.56 L608.96 530.00 L607.16 529.44 L605.35 528.87 L603.54 528.29 L601.74 527.72 L599.93 527.14 L598.12 526.55 L596.32 525.96 L594.51 525.37 L592.71 524.78 L590.90 524.17 L589.09 523.57 L587.29 522.96 L585.48 522.35 L583.67 521.73 L581.87 521.11 L580.06 520.48 L578.26 519.85 L576.45 519.22 L574.64 518.58 L572.84 517.93 L571.03 517.29 L569.23 516.63 L567.42 515.98 L565.61 515.32 L563.81 514.65 L562.00 513.98 L560.19 513.31 L558.39 512.63 L556.58 511.94 L554.77 511.24 L552.97 510.54 L551.16 509.84 L549.36 509.13 L547.55 508.41 L545.74 507.69 L543.94 506.96 L542.13 506.22 L540.33 505.48 L538.52 504.73 L536.71 503.98 L534.91 503.22 L533.10 502.46 L531.29 501.69 L529.49 500.91 L527.68 500.13 L525.88 499.34 L524.07 498.55 L522.26 497.75 L520.46 496.95 L518.65 496.14 L516.84 495.33 L515.04 494.51 L513.23 493.69 L511.43 492.87 L509.62 492.04 L507.81 491.21 L506.01 490.36 L504.20 489.50 L502.39 488.64 L500.59 487.77 L498.78 486.89 L496.98 486.00 L495.17 485.09 L493.36 484.18 L491.56 483.26 L489.75 482.33 L487.94 481.38 L486.14 480.43 L484.33 479.46 L482.52 478.48 L480.72 477.49 L478.91 476.49 L477.11 475.47 L475.30 474.44 L473.49 473.40 L471.69 472.34 L469.88 471.26 L468.08 470.17 L466.27 469.06 L464.46 467.94 L462.66 466.79 L460.85 465.64 L459.04 464.46 L457.24 463.26 L455.43 462.05 L453.62 460.82 L451.82 459.57 L450.01 458.30 L448.21 457.01 L446.40 455.70 L444.59 454.37 L442.79 453.01 L440.98 451.64 L439.18 450.24 L437.37 448.82 L435.56 447.38 L433.76 445.91 L431.95 444.41 L430.14 442.88 L428.34 441.33 L426.53 439.75 L424.73 438.13 L422.92 436.48 L421.11 434.80 L419.31 433.08 L417.50 431.33 L415.69 429.53 L413.89 427.70 L412.08 425.82 L410.27 423.90 L408.47 421.93 L406.66 419.91 L404.86 417.84 L403.05 415.72 L402.33 414.85 L401.61 413.96 L400.88 413.07 L400.16 412.16 L399.44 411.23 L398.72 410.29 L397.99 409.34 L397.27 408.38 L396.55 407.40 L395.83 406.41 L395.10 405.41 L394.38 404.40 L393.66 403.37 L392.94 402.33 L392.21 401.29 L391.49 400.23 L390.77 399.16 L390.05 398.08 L389.32 396.99 L388.60 395.89 L387.88 394.78 L387.16 393.67 L386.43 392.55 L385.71 391.42 L384.99 390.29 L384.27 389.15 L383.54 387.99 L382.82 386.82 L382.10 385.64 L381.38 384.43 L380.65 383.22 L379.93 381.99 L379.21 380.74 L378.49 379.47 L377.76 378.19 L377.04 376.90 L376.32 375.58 L375.60 374.25 L374.87 372.90 L374.15 371.53 L373.43 370.15 L372.71 368.74 L371.98 367.32 L371.26 365.88 L370.54 364.42 L369.82 362.94 L369.09 361.45 L368.37 359.93 L367.65 358.39 L366.93 356.84 L366.20 355.26 L365.48 353.65 L364.76 352.01 L364.04 350.34 L363.31 348.64 L362.59 346.91 L361.87 345.15 L361.15 343.35 L360.42 341.51 L359.70 339.64 L358.98 337.72 L358.25 335.77 L357.53 333.77 L356.81 331.74 L356.09 329.65 L355.37 327.52 L354.64 325.35 L353.92 323.12 L353.20 320.84 L352.48 318.50 L352.33 318.03 L352.19 317.56 L352.04 317.08 L351.90 316.60 L351.75 316.12 L351.61 315.63 L351.46 315.15 L351.32 314.66 L351.17 314.16 L351.03 313.67 L350.89 313.17 L350.74 312.68 L350.60 312.18 L350.45 311.67 L350.31 311.17 L350.16 310.66 L350.02 310.15 L349.87 309.64 L349.73 309.12 L349.59 308.60 L349.44 308.08 L349.30 307.56 L349.15 307.03 L349.01 306.51 L348.86 305.98 L348.72 305.44 L348.57 304.91 L348.43 304.37 L348.28 303.83 L348.14 303.29 L348.00 302.74 L347.85 302.19 L347.71 301.64 L347.56 301.09 L347.42 300.53 L347.27 299.98 L347.13 299.41 L346.98 298.85 L346.84 298.29 L346.69 297.72 L346.55 297.15 L346.41 296.57 L346.26 296.00 L346.12 295.42 L345.97 294.84 L345.83 294.25 L345.68 293.66 L345.54 293.08 L345.39 292.48 L345.25 291.89 Z" fill="#a9c7f6" stroke="none"/>
<path d="M345.25 291.59 L345.39 292.18 L345.54 292.78 L345.68 293.36 L345.83 293.95 L345.97 294.53 L346.12 295.11 L346.26 295.69 L346.41 296.27 L346.55 296.84 L346.69 297.41 L346.84 297.98 L346.98 298.54 L347.13 299.11 L347.27 299.67 L347.42 300.22 L347.56 300.78 L347.71 301.33 L347.85 301.88 L348.00 302.43 L348.14 302.97 L348.28 303.51 L348.43 304.05 L348.57 304.59 L348.72 305.12 L348.86 305.65 L349.01 306.18 L349.15 306.71 L349.30 307.23 L349.44 307.75 L349.59 308.27 L349.73 308.79 L349.87 309.30 L350.02 309.81 L350.16 310.32 L350.31 310.82 L350.45 311.33 L350.60 311.83 L350.74 312.33 L350.89 312.82 L351.03 313.32 L351.17 313.81 L351.32 314.30 L351.46 314.78 L351.61 315.27 L351.75 315.75 L351.90 316.23 L352.04 316.71 L352.19 317.18 L352.33 317.66 L352.48 318.13 L353.20 320.45 L353.92 322.71 L354.64 324.93 L355.37 327.09 L356.09 329.20 L356.81 331.27 L357.53 333.29 L358.25 335.27 L358.98 337.21 L359.70 339.11 L360.42 340.96 L361.15 342.78 L361.87 344.57 L362.59 346.32 L363.31 348.03 L364.04 349.71 L364.76 351.36 L365.48 352.98 L366.20 354.57 L366.93 356.14 L367.65 357.67 L368.37 359.18 L369.09 360.66 L369.82 362.12 L370.54 363.55 L371.26 364.96 L371.98 366.35 L372.71 367.71 L373.43 369.06 L374.15 370.38 L374.87 371.68 L375.60 372.97 L376.32 374.23 L377.04 375.48 L377.76 376.70 L378.49 377.91 L379.21 379.11 L379.93 380.28 L380.65 381.44 L381.38 382.59 L382.10 383.72 L382.82 384.83 L383.54 385.93 L384.27 387.02 L384.99 388.09 L385.71 389.15 L386.43 390.19 L387.16 391.23 L387.88 392.25 L388.60 393.25 L389.32 394.25 L390.05 395.23 L390.77 396.21 L391.49 397.17 L392.21 398.12 L392.94 399.06 L393.66 399.99 L394.38 400.91 L395.10 401.82 L395.83 402.72 L396.55 403.61 L397.27 404.49 L397.99 405.36 L398.72 406.22 L399.44 407.07 L400.16 407.92 L400.88 408.75 L401.61 409.58 L402.33 410.40 L403.05 411.22 L404.86 413.21 L406.66 415.16 L408.47 417.07 L410.27 418.93 L412.08 420.75 L413.89 422.53 L415.69 424.28 L417.50 425.99 L419.31 427.66 L421.11 429.30 L422.92 430.91 L424.73 432.49 L426.53 434.04 L428.34 435.56 L430.14 437.05 L431.95 438.52 L433.76 439.96 L435.56 441.38 L437.37 442.77 L439.18 444.14 L440.98 445.49 L442.79 446.82 L444.59 448.12 L446.40 449.41 L448.21 450.67 L450.01 451.92 L451.82 453.15 L453.62 454.36 L455.43 455.55 L457.24 456.72 L459.04 457.88 L460.85 459.02 L462.66 460.15 L464.46 461.26 L466.27 462.36 L468.08 463.44 L469.88 464.51 L471.69 465.57 L473.49 466.61 L475.30 467.64 L477.11 468.66 L478.91 469.66 L480.72 470.65 L482.52 471.63 L484.33 472.60 L486.14 473.56 L487.94 474.51 L489.75 475.44 L491.56 476.37 L493.36 477.28 L495.17 478.19 L496.98 479.08 L498.78 479.97 L500.59 480.84 L502.39 481.71 L504.20 482.57 L506.01 483.42 L507.81 484.26 L509.62 485.09 L511.43 485.91 L513.23 486.73 L515.04 487.55 L516.84 488.36 L518.65 489.16 L520.46 489.96 L522.26 490.76 L524.07 491.55 L525.88 492.34 L527.68 493.12 L529.49 493.89 L531.29 494.66 L533.10 495.43 L534.91 496.18 L536.71 496.94 L538.52 497.68 L540.33 498.42 L542.13 499.15 L543.94 499.88 L545.74 500.60 L547.55 501.31 L549.36 502.02 L551.16 502.72 L552.97 503.41 L554.77 504.09 L556.58 504.77 L558.39 505.44 L560.19 506.11 L562.00 506.76 L563.81 507.41 L565.61 508.06 L567.42 508.70 L569.23 509.33 L571.03 509.96 L572.84 510.59 L574.64 511.21 L576.45 511.82 L578.26 512.44 L580.06 513.04 L581.87 513.64 L583.67 514.24 L585.48 514.83 L587.29 515.42 L589.09 516.00 L590.90 516.58 L592.71 517.16 L594.51 517.73 L596.32 518.30 L598.12 518.86 L599.93 519.42 L601.74 519.97 L603.54 520.52 L605.35 521.07 L607.16 521.61 L608.96 522.15 L610.77 522.69 L612.58 523.22" fill="none" stroke="#2030ff" stroke-width="1.1" />
<path d="M345.25 323.07 L345.39 323.67 L345.54 324.27 L345.68 324.87 L345.83 325.46 L345.97 326.05 L346.12 326.64 L346.26 327.22 L346.41 327.81 L346.55 328.39 L346.69 328.96 L346.84 329.53 L346.98 330.10 L347.13 330.67 L347.27 331.24 L347.42 331.80 L347.56 332.35 L347.71 332.91 L347.85 333.46 L348.00 334.01 L348.14 334.56 L348.28 335.10 L348.43 335.64 L348.57 336.18 L348.72 336.72 L348.86 337.25 L349.01 337.78 L349.15 338.30 L349.30 338.83 L349.44 339.35 L349.59 339.87 L349.73 340.38 L349.87 340.90 L350.02 341.41 L350.16 341.91 L350.31 342.42 L350.45 342.92 L350.60 343.42 L350.74 343.92 L350.89 344.41 L351.03 344.90 L351.17 345.39 L351.32 345.88 L351.46 346.37 L351.61 346.85 L351.75 347.33 L351.90 347.80 L352.04 348.28 L352.19 348.75 L352.33 349.22 L352.48 349.69 L353.20 351.99 L353.92 354.24 L354.64 356.43 L355.37 358.57 L356.09 360.66 L356.81 362.70 L357.53 364.70 L358.25 366.65 L358.98 368.55 L359.70 370.42 L360.42 372.25 L361.15 374.03 L361.87 375.79 L362.59 377.50 L363.31 379.18 L364.04 380.83 L364.76 382.45 L365.48 384.04 L366.20 385.60 L366.93 387.13 L367.65 388.63 L368.37 390.10 L369.09 391.54 L369.82 392.95 L370.54 394.34 L371.26 395.70 L371.98 397.04 L372.71 398.36 L373.43 399.65 L374.15 400.92 L374.87 402.17 L375.60 403.40 L376.32 404.61 L377.04 405.79 L377.76 406.97 L378.49 408.12 L379.21 409.25 L379.93 410.37 L380.65 411.48 L381.38 412.56 L382.10 413.63 L382.82 414.69 L383.54 415.73 L384.27 416.76 L384.99 417.77 L385.71 418.77 L386.43 419.75 L387.16 420.72 L387.88 421.67 L388.60 422.60 L389.32 423.52 L390.05 424.42 L390.77 425.32 L391.49 426.20 L392.21 427.06 L392.94 427.92 L393.66 428.77 L394.38 429.60 L395.10 430.43 L395.83 431.24 L396.55 432.05 L397.27 432.85 L397.99 433.64 L398.72 434.42 L399.44 435.20 L400.16 435.97 L400.88 436.73 L401.61 437.49 L402.33 438.24 L403.05 438.98 L404.86 440.81 L406.66 442.59 L408.47 444.33 L410.27 446.03 L412.08 447.69 L413.89 449.31 L415.69 450.90 L417.50 452.46 L419.31 453.99 L421.11 455.49 L422.92 456.96 L424.73 458.41 L426.53 459.83 L428.34 461.22 L430.14 462.60 L431.95 463.95 L433.76 465.28 L435.56 466.60 L437.37 467.89 L439.18 469.17 L440.98 470.42 L442.79 471.66 L444.59 472.87 L446.40 474.06 L448.21 475.23 L450.01 476.39 L451.82 477.53 L453.62 478.66 L455.43 479.77 L457.24 480.87 L459.04 481.95 L460.85 483.03 L462.66 484.09 L464.46 485.15 L466.27 486.19 L468.08 487.23 L469.88 488.25 L471.69 489.27 L473.49 490.28 L475.30 491.29 L477.11 492.28 L478.91 493.27 L480.72 494.24 L482.52 495.20 L484.33 496.15 L486.14 497.09 L487.94 498.02 L489.75 498.94 L491.56 499.85 L493.36 500.75 L495.17 501.64 L496.98 502.52 L498.78 503.39 L500.59 504.26 L502.39 505.11 L504.20 505.95 L506.01 506.79 L507.81 507.61 L509.62 508.43 L511.43 509.24 L513.23 510.05 L515.04 510.85 L516.84 511.65 L518.65 512.44 L520.46 513.23 L522.26 514.01 L524.07 514.79 L525.88 515.56 L527.68 516.33 L529.49 517.09 L531.29 517.84 L533.10 518.59 L534.91 519.34 L536.71 520.08 L538.52 520.81 L540.33 521.53 L542.13 522.25 L543.94 522.97 L545.74 523.67 L547.55 524.37 L549.36 525.07 L551.16 525.75 L552.97 526.43 L554.77 527.11 L556.58 527.77 L558.39 528.43 L560.19 529.09 L562.00 529.74 L563.81 530.38 L565.61 531.01 L567.42 531.64 L569.23 532.27 L571.03 532.89 L572.84 533.51 L574.64 534.12 L576.45 534.72 L578.26 535.33 L580.06 535.92 L581.87 536.52 L583.67 537.11 L585.48 537.69 L587.29 538.27 L589.09 538.85 L590.90 539.42 L592.71 539.98 L594.51 540.55 L596.32 541.11 L598.12 541.66 L599.93 542.21 L601.74 542.76 L603.54 543.31 L605.35 543.85 L607.16 544.38 L608.96 544.92 L610.77 545.44 L612.58 545.97 L612.58 559.77 L610.77 559.16 L608.96 558.55 L607.16 557.94 L605.35 557.32 L603.54 556.70 L601.74 556.08 L599.93 555.46 L598.12 554.84 L596.32 554.21 L594.51 553.59 L592.71 552.96 L590.90 552.34 L589.09 551.71 L587.29 551.08 L585.48 550.46 L583.67 549.83 L581.87 549.20 L580.06 548.58 L578.26 547.96 L576.45 547.34 L574.64 546.72 L572.84 546.11 L571.03 545.49 L569.23 544.87 L567.42 544.25 L565.61 543.62 L563.81 543.00 L562.00 542.36 L560.19 541.72 L558.39 541.08 L556.58 540.43 L554.77 539.77 L552.97 539.11 L551.16 538.44 L549.36 537.76 L547.55 537.07 L545.74 536.38 L543.94 535.68 L542.13 534.98 L540.33 534.27 L538.52 533.56 L536.71 532.84 L534.91 532.11 L533.10 531.38 L531.29 530.64 L529.49 529.90 L527.68 529.15 L525.88 528.40 L524.07 527.64 L522.26 526.88 L520.46 526.11 L518.65 525.34 L516.84 524.56 L515.04 523.78 L513.23 523.00 L511.43 522.21 L509.62 521.41 L507.81 520.61 L506.01 519.80 L504.20 518.98 L502.39 518.15 L500.59 517.32 L498.78 516.47 L496.98 515.61 L495.17 514.75 L493.36 513.87 L491.56 512.99 L489.75 512.09 L487.94 511.18 L486.14 510.26 L484.33 509.33 L482.52 508.39 L480.72 507.43 L478.91 506.46 L477.11 505.48 L475.30 504.49 L473.49 503.48 L471.69 502.44 L469.88 501.39 L468.08 500.31 L466.27 499.21 L464.46 498.09 L462.66 496.95 L460.85 495.78 L459.04 494.60 L457.24 493.39 L455.43 492.17 L453.62 490.92 L451.82 489.65 L450.01 488.37 L448.21 487.06 L446.40 485.74 L444.59 484.39 L442.79 483.03 L440.98 481.66 L439.18 480.27 L437.37 478.86 L435.56 477.43 L433.76 475.97 L431.95 474.49 L430.14 472.99 L428.34 471.46 L426.53 469.91 L424.73 468.32 L422.92 466.71 L421.11 465.06 L419.31 463.38 L417.50 461.66 L415.69 459.91 L413.89 458.12 L412.08 456.28 L410.27 454.40 L408.47 452.47 L406.66 450.50 L404.86 448.47 L403.05 446.38 L402.33 445.53 L401.61 444.66 L400.88 443.78 L400.16 442.88 L399.44 441.98 L398.72 441.05 L397.99 440.12 L397.27 439.17 L396.55 438.21 L395.83 437.24 L395.10 436.25 L394.38 435.26 L393.66 434.25 L392.94 433.23 L392.21 432.19 L391.49 431.15 L390.77 430.10 L390.05 429.04 L389.32 427.96 L388.60 426.88 L387.88 425.80 L387.16 424.70 L386.43 423.60 L385.71 422.49 L384.99 421.37 L384.27 420.25 L383.54 419.12 L382.82 417.96 L382.10 416.80 L381.38 415.62 L380.65 414.42 L379.93 413.21 L379.21 411.98 L378.49 410.73 L377.76 409.47 L377.04 408.19 L376.32 406.90 L375.60 405.59 L374.87 404.26 L374.15 402.91 L373.43 401.55 L372.71 400.16 L371.98 398.76 L371.26 397.34 L370.54 395.91 L369.82 394.45 L369.09 392.97 L368.37 391.48 L367.65 389.96 L366.93 388.43 L366.20 386.87 L365.48 385.28 L364.76 383.66 L364.04 382.02 L363.31 380.34 L362.59 378.62 L361.87 376.88 L361.15 375.10 L360.42 373.28 L359.70 371.43 L358.98 369.53 L358.25 367.59 L357.53 365.62 L356.81 363.59 L356.09 361.53 L355.37 359.41 L354.64 357.24 L353.92 355.03 L353.20 352.76 L352.48 350.43 L352.33 349.96 L352.19 349.48 L352.04 349.01 L351.90 348.53 L351.75 348.05 L351.61 347.56 L351.46 347.08 L351.32 346.59 L351.17 346.10 L351.03 345.60 L350.89 345.11 L350.74 344.61 L350.60 344.11 L350.45 343.60 L350.31 343.10 L350.16 342.59 L350.02 342.08 L349.87 341.56 L349.73 341.05 L349.59 340.53 L349.44 340.00 L349.30 339.48 L349.15 338.95 L349.01 338.42 L348.86 337.89 L348.72 337.36 L348.57 336.82 L348.43 336.28 L348.28 335.73 L348.14 335.19 L348.00 334.64 L347.85 334.09 L347.71 333.53 L347.56 332.97 L347.42 332.41 L347.27 331.85 L347.13 331.28 L346.98 330.72 L346.84 330.14 L346.69 329.57 L346.55 328.99 L346.41 328.41 L346.26 327.83 L346.12 327.24 L345.97 326.65 L345.83 326.06 L345.68 325.47 L345.54 324.87 L345.39 324.27 L345.25 323.67 Z" fill="#e6bdf5" stroke="none"/>
<path d="M345.25 323.37 L345.39 323.97 L345.54 324.57 L345.68 325.17 L345.83 325.76 L345.97 326.35 L346.12 326.94 L346.26 327.53 L346.41 328.11 L346.55 328.69 L346.69 329.26 L346.84 329.84 L346.98 330.41 L347.13 330.98 L347.27 331.54 L347.42 332.10 L347.56 332.66 L347.71 333.22 L347.85 333.77 L348.00 334.32 L348.14 334.87 L348.28 335.42 L348.43 335.96 L348.57 336.50 L348.72 337.03 L348.86 337.57 L349.01 338.10 L349.15 338.63 L349.30 339.15 L349.44 339.67 L349.59 340.19 L349.73 340.71 L349.87 341.23 L350.02 341.74 L350.16 342.25 L350.31 342.75 L350.45 343.26 L350.60 343.76 L350.74 344.26 L350.89 344.75 L351.03 345.25 L351.17 345.74 L351.32 346.23 L351.46 346.71 L351.61 347.20 L351.75 347.68 L351.90 348.16 L352.04 348.64 L352.19 349.11 L352.33 349.58 L352.48 350.05 L353.20 352.36 L353.92 354.62 L354.64 356.82 L355.37 358.98 L356.09 361.08 L356.81 363.13 L357.53 365.14 L358.25 367.10 L358.98 369.02 L359.70 370.90 L360.42 372.73 L361.15 374.54 L361.87 376.30 L362.59 378.03 L363.31 379.72 L364.04 381.38 L364.76 383.01 L365.48 384.61 L366.20 386.18 L366.93 387.73 L367.65 389.24 L368.37 390.73 L369.09 392.19 L369.82 393.62 L370.54 395.04 L371.26 396.42 L371.98 397.79 L372.71 399.14 L373.43 400.46 L374.15 401.76 L374.87 403.04 L375.60 404.30 L376.32 405.55 L377.04 406.77 L377.76 407.98 L378.49 409.17 L379.21 410.34 L379.93 411.50 L380.65 412.64 L381.38 413.77 L382.10 414.88 L382.82 415.97 L383.54 417.05 L384.27 418.12 L384.99 419.17 L385.71 420.21 L386.43 421.24 L387.16 422.26 L387.88 423.26 L388.60 424.25 L389.32 425.23 L390.05 426.19 L390.77 427.15 L391.49 428.09 L392.21 429.03 L392.94 429.95 L393.66 430.86 L394.38 431.76 L395.10 432.66 L395.83 433.54 L396.55 434.41 L397.27 435.28 L397.99 436.13 L398.72 436.98 L399.44 437.82 L400.16 438.65 L400.88 439.47 L401.61 440.28 L402.33 441.08 L403.05 441.88 L404.86 443.84 L406.66 445.75 L408.47 447.62 L410.27 449.45 L412.08 451.23 L413.89 452.98 L415.69 454.69 L417.50 456.37 L419.31 458.01 L421.11 459.62 L422.92 461.20 L424.73 462.75 L426.53 464.26 L428.34 465.75 L430.14 467.22 L431.95 468.66 L433.76 470.07 L435.56 471.46 L437.37 472.82 L439.18 474.17 L440.98 475.49 L442.79 476.79 L444.59 478.07 L446.40 479.33 L448.21 480.56 L450.01 481.79 L451.82 482.99 L453.62 484.17 L455.43 485.34 L457.24 486.49 L459.04 487.63 L460.85 488.75 L462.66 489.85 L464.46 490.94 L466.27 492.02 L468.08 493.08 L469.88 494.13 L471.69 495.16 L473.49 496.18 L475.30 497.19 L477.11 498.18 L478.91 499.17 L480.72 500.14 L482.52 501.10 L484.33 502.05 L486.14 502.99 L487.94 503.91 L489.75 504.83 L491.56 505.74 L493.36 506.63 L495.17 507.52 L496.98 508.40 L498.78 509.26 L500.59 510.12 L502.39 510.97 L504.20 511.81 L506.01 512.64 L507.81 513.46 L509.62 514.28 L511.43 515.09 L513.23 515.89 L515.04 516.68 L516.84 517.48 L518.65 518.27 L520.46 519.05 L522.26 519.83 L524.07 520.61 L525.88 521.38 L527.68 522.14 L529.49 522.90 L531.29 523.65 L533.10 524.40 L534.91 525.14 L536.71 525.88 L538.52 526.61 L540.33 527.34 L542.13 528.06 L543.94 528.77 L545.74 529.47 L547.55 530.17 L549.36 530.87 L551.16 531.55 L552.97 532.23 L554.77 532.91 L556.58 533.57 L558.39 534.23 L560.19 534.89 L562.00 535.54 L563.81 536.18 L565.61 536.81 L567.42 537.44 L569.23 538.07 L571.03 538.69 L572.84 539.31 L574.64 539.92 L576.45 540.52 L578.26 541.13 L580.06 541.72 L581.87 542.32 L583.67 542.91 L585.48 543.49 L587.29 544.07 L589.09 544.65 L590.90 545.22 L592.71 545.78 L594.51 546.35 L596.32 546.91 L598.12 547.46 L599.93 548.01 L601.74 548.56 L603.54 549.11 L605.35 549.65 L607.16 550.18 L608.96 550.72 L610.77 551.24 L612.58 551.77" fill="none" stroke="#a226ba" stroke-width="1.1" />
<path d="M345.25 297.85 L345.39 298.48 L345.54 299.11 L345.68 299.74 L345.83 300.35 L345.97 300.96 L346.12 301.57 L346.26 302.17 L346.41 302.76 L346.55 303.35 L346.69 303.93 L346.84 304.51 L346.98 305.08 L347.13 305.65 L347.27 306.21 L347.42 306.77 L347.56 307.32 L347.71 307.87 L347.85 308.41 L348.00 308.95 L348.14 309.48 L348.28 310.01 L348.43 310.54 L348.57 311.06 L348.72 311.58 L348.86 312.09 L349.01 312.60 L349.15 313.11 L349.30 313.61 L349.44 314.10 L349.59 314.60 L349.73 315.09 L349.87 315.57 L350.02 316.06 L350.16 316.54 L350.31 317.01 L350.45 317.49 L350.60 317.95 L350.74 318.42 L350.89 318.88 L351.03 319.34 L351.17 319.80 L351.32 320.25 L351.46 320.70 L351.61 321.15 L351.75 321.59 L351.90 322.03 L352.04 322.47 L352.19 322.90 L352.33 323.34 L352.48 323.77 L353.20 325.87 L353.92 327.91 L354.64 329.89 L355.37 331.82 L356.09 333.69 L356.81 335.51 L357.53 337.28 L358.25 339.01 L358.98 340.69 L359.70 342.33 L360.42 343.94 L361.15 345.51 L361.87 347.04 L362.59 348.54 L363.31 350.01 L364.04 351.45 L364.76 352.86 L365.48 354.24 L366.20 355.60 L366.93 356.93 L367.65 358.24 L368.37 359.52 L369.09 360.78 L369.82 362.01 L370.54 363.23 L371.26 364.43 L371.98 365.60 L372.71 366.76 L373.43 367.90 L374.15 369.02 L374.87 370.12 L375.60 371.21 L376.32 372.28 L377.04 373.33 L377.76 374.37 L378.49 375.40 L379.21 376.41 L379.93 377.41 L380.65 378.39 L381.38 379.36 L382.10 380.31 L382.82 381.26 L383.54 382.19 L384.27 383.11 L384.99 384.02 L385.71 384.92 L386.43 385.80 L387.16 386.68 L387.88 387.54 L388.60 388.40 L389.32 389.24 L390.05 390.08 L390.77 390.90 L391.49 391.72 L392.21 392.52 L392.94 393.32 L393.66 394.10 L394.38 394.88 L395.10 395.65 L395.83 396.41 L396.55 397.16 L397.27 397.91 L397.99 398.64 L398.72 399.37 L399.44 400.09 L400.16 400.81 L400.88 401.52 L401.61 402.22 L402.33 402.91 L403.05 403.60 L404.86 405.29 L406.66 406.94 L408.47 408.55 L410.27 410.12 L412.08 411.66 L413.89 413.18 L415.69 414.66 L417.50 416.12 L419.31 417.55 L421.11 418.97 L422.92 420.36 L424.73 421.74 L426.53 423.09 L428.34 424.44 L430.14 425.76 L431.95 427.07 L433.76 428.37 L435.56 429.66 L437.37 430.94 L439.18 432.20 L440.98 433.45 L442.79 434.69 L444.59 435.92 L446.40 437.12 L448.21 438.32 L450.01 439.50 L451.82 440.66 L453.62 441.80 L455.43 442.93 L457.24 444.04 L459.04 445.14 L460.85 446.21 L462.66 447.27 L464.46 448.31 L466.27 449.34 L468.08 450.35 L469.88 451.34 L471.69 452.31 L473.49 453.26 L475.30 454.20 L477.11 455.12 L478.91 456.02 L480.72 456.91 L482.52 457.78 L484.33 458.64 L486.14 459.48 L487.94 460.31 L489.75 461.13 L491.56 461.94 L493.36 462.73 L495.17 463.51 L496.98 464.29 L498.78 465.05 L500.59 465.81 L502.39 466.55 L504.20 467.29 L506.01 468.02 L507.81 468.75 L509.62 469.46 L511.43 470.17 L513.23 470.88 L515.04 471.57 L516.84 472.27 L518.65 472.95 L520.46 473.63 L522.26 474.31 L524.07 474.98 L525.88 475.65 L527.68 476.31 L529.49 476.97 L531.29 477.63 L533.10 478.28 L534.91 478.93 L536.71 479.58 L538.52 480.22 L540.33 480.86 L542.13 481.50 L543.94 482.14 L545.74 482.77 L547.55 483.40 L549.36 484.03 L551.16 484.66 L552.97 485.28 L554.77 485.90 L556.58 486.52 L558.39 487.14 L560.19 487.75 L562.00 488.36 L563.81 488.97 L565.61 489.57 L567.42 490.18 L569.23 490.78 L571.03 491.37 L572.84 491.97 L574.64 492.56 L576.45 493.14 L578.26 493.73 L580.06 494.31 L581.87 494.88 L583.67 495.46 L585.48 496.03 L587.29 496.60 L589.09 497.16 L590.90 497.72 L592.71 498.28 L594.51 498.84 L596.32 499.39 L598.12 499.94 L599.93 500.48 L601.74 501.02 L603.54 501.56 L605.35 502.09 L607.16 502.63 L608.96 503.15 L610.77 503.68 L612.58 504.20 L612.58 507.20 L610.77 506.66 L608.96 506.12 L607.16 505.57 L605.35 505.02 L603.54 504.47 L601.74 503.91 L599.93 503.35 L598.12 502.79 L596.32 502.22 L594.51 501.65 L592.71 501.08 L590.90 500.51 L589.09 499.93 L587.29 499.34 L585.48 498.76 L583.67 498.17 L581.87 497.58 L580.06 496.98 L578.26 496.38 L576.45 495.78 L574.64 495.18 L572.84 494.57 L571.03 493.96 L569.23 493.35 L567.42 492.73 L565.61 492.12 L563.81 491.49 L562.00 490.87 L560.19 490.25 L558.39 489.62 L556.58 488.99 L554.77 488.35 L552.97 487.72 L551.16 487.08 L549.36 486.44 L547.55 485.80 L545.74 485.16 L543.94 484.51 L542.13 483.86 L540.33 483.21 L538.52 482.56 L536.71 481.90 L534.91 481.25 L533.10 480.58 L531.29 479.92 L529.49 479.25 L527.68 478.58 L525.88 477.90 L524.07 477.22 L522.26 476.54 L520.46 475.85 L518.65 475.15 L516.84 474.45 L515.04 473.75 L513.23 473.04 L511.43 472.32 L509.62 471.60 L507.81 470.88 L506.01 470.14 L504.20 469.40 L502.39 468.65 L500.59 467.89 L498.78 467.13 L496.98 466.35 L495.17 465.57 L493.36 464.78 L491.56 463.97 L489.75 463.16 L487.94 462.34 L486.14 461.50 L484.33 460.65 L482.52 459.79 L480.72 458.91 L478.91 458.03 L477.11 457.12 L475.30 456.20 L473.49 455.26 L471.69 454.31 L469.88 453.34 L468.08 452.35 L466.27 451.34 L464.46 450.31 L462.66 449.27 L460.85 448.21 L459.04 447.14 L457.24 446.04 L455.43 444.93 L453.62 443.80 L451.82 442.66 L450.01 441.50 L448.21 440.32 L446.40 439.12 L444.59 437.92 L442.79 436.69 L440.98 435.45 L439.18 434.20 L437.37 432.93 L435.56 431.65 L433.76 430.34 L431.95 429.02 L430.14 427.68 L428.34 426.33 L426.53 424.95 L424.73 423.55 L422.92 422.13 L421.11 420.68 L419.31 419.22 L417.50 417.72 L415.69 416.21 L413.89 414.67 L412.08 413.10 L410.27 411.50 L408.47 409.87 L406.66 408.21 L404.86 406.52 L403.05 404.80 L402.33 404.10 L401.61 403.39 L400.88 402.68 L400.16 401.96 L399.44 401.23 L398.72 400.50 L397.99 399.76 L397.27 399.01 L396.55 398.25 L395.83 397.49 L395.10 396.71 L394.38 395.94 L393.66 395.15 L392.94 394.35 L392.21 393.55 L391.49 392.73 L390.77 391.91 L390.05 391.08 L389.32 390.25 L388.60 389.40 L387.88 388.54 L387.16 387.67 L386.43 386.80 L385.71 385.91 L384.99 385.01 L384.27 384.10 L383.54 383.18 L382.82 382.24 L382.10 381.30 L381.38 380.34 L380.65 379.36 L379.93 378.38 L379.21 377.38 L378.49 376.37 L377.76 375.34 L377.04 374.30 L376.32 373.24 L375.60 372.17 L374.87 371.08 L374.15 369.98 L373.43 368.85 L372.71 367.71 L371.98 366.56 L371.26 365.38 L370.54 364.18 L369.82 362.96 L369.09 361.72 L368.37 360.46 L367.65 359.18 L366.93 357.87 L366.20 356.54 L365.48 355.18 L364.76 353.80 L364.04 352.38 L363.31 350.94 L362.59 349.47 L361.87 347.97 L361.15 346.43 L360.42 344.86 L359.70 343.26 L358.98 341.61 L358.25 339.92 L357.53 338.19 L356.81 336.42 L356.09 334.60 L355.37 332.73 L354.64 330.80 L353.92 328.82 L353.20 326.78 L352.48 324.67 L352.33 324.24 L352.19 323.81 L352.04 323.37 L351.90 322.94 L351.75 322.50 L351.61 322.05 L351.46 321.60 L351.32 321.15 L351.17 320.70 L351.03 320.25 L350.89 319.79 L350.74 319.32 L350.60 318.86 L350.45 318.39 L350.31 317.92 L350.16 317.44 L350.02 316.96 L349.87 316.48 L349.73 315.99 L349.59 315.50 L349.44 315.01 L349.30 314.51 L349.15 314.01 L349.01 313.50 L348.86 312.99 L348.72 312.48 L348.57 311.96 L348.43 311.44 L348.28 310.91 L348.14 310.38 L348.00 309.85 L347.85 309.31 L347.71 308.77 L347.56 308.22 L347.42 307.67 L347.27 307.11 L347.13 306.55 L346.98 305.98 L346.84 305.41 L346.69 304.83 L346.55 304.25 L346.41 303.66 L346.26 303.07 L346.12 302.47 L345.97 301.86 L345.83 301.25 L345.68 300.64 L345.54 300.01 L345.39 299.38 L345.25 298.75 Z" fill="#fff" stroke="#000" stroke-width="1.1" stroke-linejoin="miter"/>
<path d="M345.25 325.25 L345.39 325.95 L345.54 326.64 L345.68 327.32 L345.83 328.00 L345.97 328.67 L346.12 329.33 L346.26 329.99 L346.41 330.64 L346.55 331.28 L346.69 331.92 L346.84 332.55 L346.98 333.18 L347.13 333.80 L347.27 334.42 L347.42 335.03 L347.56 335.63 L347.71 336.23 L347.85 336.83 L348.00 337.42 L348.14 338.00 L348.28 338.58 L348.43 339.16 L348.57 339.73 L348.72 340.29 L348.86 340.85 L349.01 341.41 L349.15 341.96 L349.30 342.51 L349.44 343.05 L349.59 343.59 L349.73 344.13 L349.87 344.66 L350.02 345.18 L350.16 345.71 L350.31 346.23 L350.45 346.74 L350.60 347.25 L350.74 347.76 L350.89 348.27 L351.03 348.77 L351.17 349.26 L351.32 349.76 L351.46 350.25 L351.61 350.73 L351.75 351.22 L351.90 351.70 L352.04 352.17 L352.19 352.65 L352.33 353.12 L352.48 353.58 L353.20 355.87 L353.92 358.09 L354.64 360.24 L355.37 362.33 L356.09 364.36 L356.81 366.33 L357.53 368.25 L358.25 370.12 L358.98 371.94 L359.70 373.71 L360.42 375.45 L361.15 377.14 L361.87 378.80 L362.59 380.41 L363.31 382.00 L364.04 383.54 L364.76 385.06 L365.48 386.55 L366.20 388.00 L366.93 389.43 L367.65 390.83 L368.37 392.22 L369.09 393.57 L369.82 394.91 L370.54 396.23 L371.26 397.53 L371.98 398.80 L372.71 400.06 L373.43 401.29 L374.15 402.51 L374.87 403.71 L375.60 404.89 L376.32 406.06 L377.04 407.20 L377.76 408.33 L378.49 409.44 L379.21 410.54 L379.93 411.61 L380.65 412.68 L381.38 413.72 L382.10 414.76 L382.82 415.77 L383.54 416.77 L384.27 417.76 L384.99 418.74 L385.71 419.70 L386.43 420.64 L387.16 421.57 L387.88 422.49 L388.60 423.40 L389.32 424.30 L390.05 425.18 L390.77 426.04 L391.49 426.90 L392.21 427.74 L392.94 428.57 L393.66 429.38 L394.38 430.19 L395.10 430.98 L395.83 431.77 L396.55 432.54 L397.27 433.30 L397.99 434.05 L398.72 434.79 L399.44 435.53 L400.16 436.25 L400.88 436.96 L401.61 437.67 L402.33 438.36 L403.05 439.05 L404.86 440.73 L406.66 442.37 L408.47 443.95 L410.27 445.50 L412.08 447.01 L413.89 448.49 L415.69 449.94 L417.50 451.35 L419.31 452.74 L421.11 454.11 L422.92 455.45 L424.73 456.77 L426.53 458.08 L428.34 459.36 L430.14 460.63 L431.95 461.88 L433.76 463.12 L435.56 464.35 L437.37 465.56 L439.18 466.76 L440.98 467.95 L442.79 469.13 L444.59 470.30 L446.40 471.45 L448.21 472.60 L450.01 473.73 L451.82 474.84 L453.62 475.95 L455.43 477.04 L457.24 478.11 L459.04 479.17 L460.85 480.22 L462.66 481.25 L464.46 482.26 L466.27 483.26 L468.08 484.25 L469.88 485.22 L471.69 486.18 L473.49 487.12 L475.30 488.05 L477.11 488.97 L478.91 489.88 L480.72 490.78 L482.52 491.68 L484.33 492.58 L486.14 493.47 L487.94 494.35 L489.75 495.22 L491.56 496.09 L493.36 496.96 L495.17 497.82 L496.98 498.67 L498.78 499.51 L500.59 500.35 L502.39 501.19 L504.20 502.01 L506.01 502.83 L507.81 503.65 L509.62 504.46 L511.43 505.26 L513.23 506.06 L515.04 506.85 L516.84 507.64 L518.65 508.41 L520.46 509.19 L522.26 509.96 L524.07 510.72 L525.88 511.47 L527.68 512.22 L529.49 512.97 L531.29 513.71 L533.10 514.44 L534.91 515.17 L536.71 515.89 L538.52 516.61 L540.33 517.32 L542.13 518.02 L543.94 518.72 L545.74 519.42 L547.55 520.10 L549.36 520.79 L551.16 521.47 L552.97 522.14 L554.77 522.81 L556.58 523.47 L558.39 524.12 L560.19 524.77 L562.00 525.41 L563.81 526.04 L565.61 526.67 L567.42 527.29 L569.23 527.91 L571.03 528.51 L572.84 529.11 L574.64 529.71 L576.45 530.30 L578.26 530.89 L580.06 531.47 L581.87 532.06 L583.67 532.63 L585.48 533.21 L587.29 533.78 L589.09 534.35 L590.90 534.91 L592.71 535.47 L594.51 536.03 L596.32 536.59 L598.12 537.14 L599.93 537.68 L601.74 538.22 L603.54 538.76 L605.35 539.30 L607.16 539.83 L608.96 540.36 L610.77 540.88 L612.58 541.40 L612.58 545.40 L610.77 544.86 L608.96 544.31 L607.16 543.76 L605.35 543.21 L603.54 542.65 L601.74 542.09 L599.93 541.53 L598.12 540.96 L596.32 540.39 L594.51 539.81 L592.71 539.23 L590.90 538.65 L589.09 538.06 L587.29 537.47 L585.48 536.88 L583.67 536.28 L581.87 535.68 L580.06 535.07 L578.26 534.47 L576.45 533.86 L574.64 533.24 L572.84 532.62 L571.03 532.00 L569.23 531.37 L567.42 530.74 L565.61 530.09 L563.81 529.44 L562.00 528.78 L560.19 528.12 L558.39 527.45 L556.58 526.78 L554.77 526.09 L552.97 525.40 L551.16 524.71 L549.36 524.01 L547.55 523.30 L545.74 522.59 L543.94 521.88 L542.13 521.16 L540.33 520.43 L538.52 519.69 L536.71 518.96 L534.91 518.21 L533.10 517.46 L531.29 516.70 L529.49 515.94 L527.68 515.17 L525.88 514.40 L524.07 513.62 L522.26 512.84 L520.46 512.04 L518.65 511.25 L516.84 510.44 L515.04 509.63 L513.23 508.82 L511.43 508.00 L509.62 507.17 L507.81 506.34 L506.01 505.50 L504.20 504.65 L502.39 503.80 L500.59 502.95 L498.78 502.08 L496.98 501.22 L495.17 500.34 L493.36 499.46 L491.56 498.57 L489.75 497.68 L487.94 496.79 L486.14 495.88 L484.33 494.97 L482.52 494.06 L480.72 493.14 L478.91 492.21 L477.11 491.28 L475.30 490.35 L473.49 489.41 L471.69 488.45 L469.88 487.47 L468.08 486.49 L466.27 485.49 L464.46 484.47 L462.66 483.44 L460.85 482.40 L459.04 481.34 L457.24 480.26 L455.43 479.18 L453.62 478.08 L451.82 476.96 L450.01 475.83 L448.21 474.69 L446.40 473.53 L444.59 472.36 L442.79 471.17 L440.98 469.97 L439.18 468.76 L437.37 467.54 L435.56 466.30 L433.76 465.05 L431.95 463.78 L430.14 462.50 L428.34 461.20 L426.53 459.88 L424.73 458.55 L422.92 457.19 L421.11 455.81 L419.31 454.41 L417.50 452.98 L415.69 451.52 L413.89 450.03 L412.08 448.52 L410.27 446.96 L408.47 445.37 L406.66 443.74 L404.86 442.07 L403.05 440.35 L402.33 439.65 L401.61 438.94 L400.88 438.21 L400.16 437.48 L399.44 436.74 L398.72 435.99 L397.99 435.23 L397.27 434.46 L396.55 433.68 L395.83 432.89 L395.10 432.09 L394.38 431.28 L393.66 430.45 L392.94 429.62 L392.21 428.78 L391.49 427.92 L390.77 427.06 L390.05 426.19 L389.32 425.30 L388.60 424.40 L387.88 423.49 L387.16 422.57 L386.43 421.64 L385.71 420.69 L384.99 419.72 L384.27 418.75 L383.54 417.76 L382.82 416.75 L382.10 415.74 L381.38 414.70 L380.65 413.65 L379.93 412.59 L379.21 411.51 L378.49 410.41 L377.76 409.30 L377.04 408.17 L376.32 407.02 L375.60 405.85 L374.87 404.67 L374.15 403.47 L373.43 402.25 L372.71 401.01 L371.98 399.75 L371.26 398.47 L370.54 397.18 L369.82 395.86 L369.09 394.52 L368.37 393.16 L367.65 391.77 L366.93 390.37 L366.20 388.94 L365.48 387.48 L364.76 385.99 L364.04 384.47 L363.31 382.92 L362.59 381.34 L361.87 379.72 L361.15 378.06 L360.42 376.37 L359.70 374.63 L358.98 372.86 L358.25 371.03 L357.53 369.16 L356.81 367.24 L356.09 365.27 L355.37 363.24 L354.64 361.15 L353.92 359.00 L353.20 356.78 L352.48 354.49 L352.33 354.02 L352.19 353.55 L352.04 353.08 L351.90 352.60 L351.75 352.12 L351.61 351.64 L351.46 351.15 L351.32 350.66 L351.17 350.17 L351.03 349.67 L350.89 349.17 L350.74 348.66 L350.60 348.16 L350.45 347.65 L350.31 347.13 L350.16 346.61 L350.02 346.09 L349.87 345.56 L349.73 345.03 L349.59 344.49 L349.44 343.95 L349.30 343.41 L349.15 342.86 L349.01 342.31 L348.86 341.75 L348.72 341.19 L348.57 340.63 L348.43 340.06 L348.28 339.48 L348.14 338.90 L348.00 338.32 L347.85 337.73 L347.71 337.13 L347.56 336.53 L347.42 335.93 L347.27 335.32 L347.13 334.70 L346.98 334.08 L346.84 333.45 L346.69 332.82 L346.55 332.18 L346.41 331.54 L346.26 330.89 L346.12 330.23 L345.97 329.57 L345.83 328.90 L345.68 328.22 L345.54 327.54 L345.39 326.85 L345.25 326.15 Z" fill="#fff" stroke="#000" stroke-width="1.1" stroke-linejoin="miter"/>
</g>
<path d="M43.00 273.67 h4.8 M43.00 268.21 h4.8 M43.00 264.34 h4.8 M43.00 261.33 h4.8 M43.00 258.88 h4.8 M43.00 256.80 h4.8 M43.00 255.00 h4.8 M43.00 253.42 h4.8 M43.00 252.00 h8.5 M43.00 242.67 h4.8 M43.00 237.21 h4.8 M43.00 233.34 h4.8 M43.00 230.33 h4.8 M43.00 227.88 h4.8 M43.00 225.80 h4.8 M43.00 224.00 h4.8 M43.00 222.42 h4.8 M43.00 221.00 h8.5 M43.00 211.67 h4.8 M43.00 206.21 h4.8 M43.00 202.34 h4.8 M43.00 199.33 h4.8 M43.00 196.88 h4.8 M43.00 194.80 h4.8 M43.00 193.00 h4.8 M43.00 191.42 h4.8 M43.00 190.00 h8.5 M43.00 180.67 h4.8 M43.00 175.21 h4.8 M43.00 171.34 h4.8 M43.00 168.33 h4.8 M43.00 165.88 h4.8 M43.00 163.80 h4.8 M43.00 162.00 h4.8 M43.00 160.42 h4.8 M43.00 159.00 h8.5 M43.00 149.67 h4.8 M43.00 144.21 h4.8 M43.00 140.34 h4.8 M43.00 137.33 h4.8 M43.00 134.88 h4.8 M43.00 132.80 h4.8 M43.00 131.00 h4.8 M43.00 129.42 h4.8 M43.00 128.00 h8.5 M43.00 118.67 h4.8 M43.00 113.21 h4.8 M43.00 109.34 h4.8 M43.00 106.33 h4.8 M43.00 103.88 h4.8 M43.00 101.80 h4.8 M43.00 100.00 h4.8 M43.00 98.42 h4.8 M43.00 97.00 h8.5 M43.00 87.67 h4.8 M43.00 82.21 h4.8 M43.00 78.34 h4.8 M43.00 75.33 h4.8 M43.00 72.88 h4.8 M43.00 70.80 h4.8 M43.00 69.00 h4.8 M43.00 67.42 h4.8 M43.00 66.00 h8.5 M43.00 56.67 h4.8 M43.00 51.21 h4.8 M43.00 47.34 h4.8 M43.00 44.33 h4.8 M43.00 41.88 h4.8 M43.00 39.80 h4.8 M43.00 38.00 h4.8 M43.00 36.42 h4.8 M43.00 35.00 h8.5 M43.00 25.67 h4.8 M43.00 20.21 h4.8 M43.00 16.34 h4.8 M43.00 13.33 h4.8 M43.00 10.88 h4.8 M43.00 8.80 h4.8 M43.00 7.00 h4.8 M43.00 5.42 h4.8 M49.98 283.00 v-4.3 M57.20 283.00 v-4.3 M64.42 283.00 v-4.3 M71.65 283.00 v-4.3 M78.88 283.00 v-8.5 M86.10 283.00 v-4.3 M93.32 283.00 v-4.3 M100.55 283.00 v-4.3 M107.77 283.00 v-4.3 M115.00 283.00 v-8.5 M122.22 283.00 v-4.3 M129.45 283.00 v-4.3 M136.68 283.00 v-4.3 M143.90 283.00 v-4.3 M151.12 283.00 v-8.5 M158.35 283.00 v-4.3 M165.57 283.00 v-4.3 M172.80 283.00 v-4.3 M180.03 283.00 v-4.3 M187.25 283.00 v-8.5 M194.47 283.00 v-4.3 M201.70 283.00 v-4.3 M208.92 283.00 v-4.3 M216.15 283.00 v-4.3 M223.38 283.00 v-8.5 M230.60 283.00 v-4.3 M237.82 283.00 v-4.3 M245.05 283.00 v-4.3 M252.27 283.00 v-4.3 M259.50 283.00 v-8.5 M266.73 283.00 v-4.3 M273.95 283.00 v-4.3 M281.17 283.00 v-4.3 M288.40 283.00 v-4.3 M295.62 283.00 v-8.5 M302.85 283.00 v-4.3 M310.07 283.00 v-4.3 M317.30 283.00 v-4.3 M324.52 283.00 v-4.3 M331.00 273.67 h4.8 M331.00 268.21 h4.8 M331.00 264.34 h4.8 M331.00 261.33 h4.8 M331.00 258.88 h4.8 M331.00 256.80 h4.8 M331.00 255.00 h4.8 M331.00 253.42 h4.8 M331.00 252.00 h8.5 M331.00 242.67 h4.8 M331.00 237.21 h4.8 M331.00 233.34 h4.8 M331.00 230.33 h4.8 M331.00 227.88 h4.8 M331.00 225.80 h4.8 M331.00 224.00 h4.8 M331.00 222.42 h4.8 M331.00 221.00 h8.5 M331.00 211.67 h4.8 M331.00 206.21 h4.8 M331.00 202.34 h4.8 M331.00 199.33 h4.8 M331.00 196.88 h4.8 M331.00 194.80 h4.8 M331.00 193.00 h4.8 M331.00 191.42 h4.8 M331.00 190.00 h8.5 M331.00 180.67 h4.8 M331.00 175.21 h4.8 M331.00 171.34 h4.8 M331.00 168.33 h4.8 M331.00 165.88 h4.8 M331.00 163.80 h4.8 M331.00 162.00 h4.8 M331.00 160.42 h4.8 M331.00 159.00 h8.5 M331.00 149.67 h4.8 M331.00 144.21 h4.8 M331.00 140.34 h4.8 M331.00 137.33 h4.8 M331.00 134.88 h4.8 M331.00 132.80 h4.8 M331.00 131.00 h4.8 M331.00 129.42 h4.8 M331.00 128.00 h8.5 M331.00 118.67 h4.8 M331.00 113.21 h4.8 M331.00 109.34 h4.8 M331.00 106.33 h4.8 M331.00 103.88 h4.8 M331.00 101.80 h4.8 M331.00 100.00 h4.8 M331.00 98.42 h4.8 M331.00 97.00 h8.5 M331.00 87.67 h4.8 M331.00 82.21 h4.8 M331.00 78.34 h4.8 M331.00 75.33 h4.8 M331.00 72.88 h4.8 M331.00 70.80 h4.8 M331.00 69.00 h4.8 M331.00 67.42 h4.8 M331.00 66.00 h8.5 M331.00 56.67 h4.8 M331.00 51.21 h4.8 M331.00 47.34 h4.8 M331.00 44.33 h4.8 M331.00 41.88 h4.8 M331.00 39.80 h4.8 M331.00 38.00 h4.8 M331.00 36.42 h4.8 M331.00 35.00 h8.5 M331.00 25.67 h4.8 M331.00 20.21 h4.8 M331.00 16.34 h4.8 M331.00 13.33 h4.8 M331.00 10.88 h4.8 M331.00 8.80 h4.8 M331.00 7.00 h4.8 M331.00 5.42 h4.8 M338.03 283.00 v-4.3 M345.25 283.00 v-4.3 M352.48 283.00 v-4.3 M359.70 283.00 v-4.3 M366.93 283.00 v-8.5 M374.15 283.00 v-4.3 M381.38 283.00 v-4.3 M388.60 283.00 v-4.3 M395.82 283.00 v-4.3 M403.05 283.00 v-8.5 M410.27 283.00 v-4.3 M417.50 283.00 v-4.3 M424.73 283.00 v-4.3 M431.95 283.00 v-4.3 M439.18 283.00 v-8.5 M446.40 283.00 v-4.3 M453.62 283.00 v-4.3 M460.85 283.00 v-4.3 M468.08 283.00 v-4.3 M475.30 283.00 v-8.5 M482.52 283.00 v-4.3 M489.75 283.00 v-4.3 M496.98 283.00 v-4.3 M504.20 283.00 v-4.3 M511.43 283.00 v-8.5 M518.65 283.00 v-4.3 M525.88 283.00 v-4.3 M533.10 283.00 v-4.3 M540.33 283.00 v-4.3 M547.55 283.00 v-8.5 M554.77 283.00 v-4.3 M562.00 283.00 v-4.3 M569.23 283.00 v-4.3 M576.45 283.00 v-4.3 M583.67 283.00 v-8.5 M590.90 283.00 v-4.3 M598.12 283.00 v-4.3 M605.35 283.00 v-4.3 M612.58 283.00 v-4.3 M43.00 552.67 h4.8 M43.00 547.21 h4.8 M43.00 543.34 h4.8 M43.00 540.33 h4.8 M43.00 537.88 h4.8 M43.00 535.80 h4.8 M43.00 534.00 h4.8 M43.00 532.42 h4.8 M43.00 531.00 h8.5 M43.00 521.67 h4.8 M43.00 516.21 h4.8 M43.00 512.34 h4.8 M43.00 509.33 h4.8 M43.00 506.88 h4.8 M43.00 504.80 h4.8 M43.00 503.00 h4.8 M43.00 501.42 h4.8 M43.00 500.00 h8.5 M43.00 490.67 h4.8 M43.00 485.21 h4.8 M43.00 481.34 h4.8 M43.00 478.33 h4.8 M43.00 475.88 h4.8 M43.00 473.80 h4.8 M43.00 472.00 h4.8 M43.00 470.42 h4.8 M43.00 469.00 h8.5 M43.00 459.67 h4.8 M43.00 454.21 h4.8 M43.00 450.34 h4.8 M43.00 447.33 h4.8 M43.00 444.88 h4.8 M43.00 442.80 h4.8 M43.00 441.00 h4.8 M43.00 439.42 h4.8 M43.00 438.00 h8.5 M43.00 428.67 h4.8 M43.00 423.21 h4.8 M43.00 419.34 h4.8 M43.00 416.33 h4.8 M43.00 413.88 h4.8 M43.00 411.80 h4.8 M43.00 410.00 h4.8 M43.00 408.42 h4.8 M43.00 407.00 h8.5 M43.00 397.67 h4.8 M43.00 392.21 h4.8 M43.00 388.34 h4.8 M43.00 385.33 h4.8 M43.00 382.88 h4.8 M43.00 380.80 h4.8 M43.00 379.00 h4.8 M43.00 377.42 h4.8 M43.00 376.00 h8.5 M43.00 366.67 h4.8 M43.00 361.21 h4.8 M43.00 357.34 h4.8 M43.00 354.33 h4.8 M43.00 351.88 h4.8 M43.00 349.80 h4.8 M43.00 348.00 h4.8 M43.00 346.42 h4.8 M43.00 345.00 h8.5 M43.00 335.67 h4.8 M43.00 330.21 h4.8 M43.00 326.34 h4.8 M43.00 323.33 h4.8 M43.00 320.88 h4.8 M43.00 318.80 h4.8 M43.00 317.00 h4.8 M43.00 315.42 h4.8 M43.00 314.00 h8.5 M43.00 304.67 h4.8 M43.00 299.21 h4.8 M43.00 295.34 h4.8 M43.00 292.33 h4.8 M43.00 289.88 h4.8 M43.00 287.80 h4.8 M43.00 286.00 h4.8 M43.00 284.42 h4.8 M49.98 562.00 v-4.3 M57.20 562.00 v-4.3 M64.42 562.00 v-4.3 M71.65 562.00 v-4.3 M78.88 562.00 v-8.5 M86.10 562.00 v-4.3 M93.32 562.00 v-4.3 M100.55 562.00 v-4.3 M107.77 562.00 v-4.3 M115.00 562.00 v-8.5 M122.22 562.00 v-4.3 M129.45 562.00 v-4.3 M136.68 562.00 v-4.3 M143.90 562.00 v-4.3 M151.12 562.00 v-8.5 M158.35 562.00 v-4.3 M165.57 562.00 v-4.3 M172.80 562.00 v-4.3 M180.03 562.00 v-4.3 M187.25 562.00 v-8.5 M194.47 562.00 v-4.3 M201.70 562.00 v-4.3 M208.92 562.00 v-4.3 M216.15 562.00 v-4.3 M223.38 562.00 v-8.5 M230.60 562.00 v-4.3 M237.82 562.00 v-4.3 M245.05 562.00 v-4.3 M252.27 562.00 v-4.3 M259.50 562.00 v-8.5 M266.73 562.00 v-4.3 M273.95 562.00 v-4.3 M281.17 562.00 v-4.3 M288.40 562.00 v-4.3 M295.62 562.00 v-8.5 M302.85 562.00 v-4.3 M310.07 562.00 v-4.3 M317.30 562.00 v-4.3 M324.52 562.00 v-4.3 M331.00 552.67 h4.8 M331.00 547.21 h4.8 M331.00 543.34 h4.8 M331.00 540.33 h4.8 M331.00 537.88 h4.8 M331.00 535.80 h4.8 M331.00 534.00 h4.8 M331.00 532.42 h4.8 M331.00 531.00 h8.5 M331.00 521.67 h4.8 M331.00 516.21 h4.8 M331.00 512.34 h4.8 M331.00 509.33 h4.8 M331.00 506.88 h4.8 M331.00 504.80 h4.8 M331.00 503.00 h4.8 M331.00 501.42 h4.8 M331.00 500.00 h8.5 M331.00 490.67 h4.8 M331.00 485.21 h4.8 M331.00 481.34 h4.8 M331.00 478.33 h4.8 M331.00 475.88 h4.8 M331.00 473.80 h4.8 M331.00 472.00 h4.8 M331.00 470.42 h4.8 M331.00 469.00 h8.5 M331.00 459.67 h4.8 M331.00 454.21 h4.8 M331.00 450.34 h4.8 M331.00 447.33 h4.8 M331.00 444.88 h4.8 M331.00 442.80 h4.8 M331.00 441.00 h4.8 M331.00 439.42 h4.8 M331.00 438.00 h8.5 M331.00 428.67 h4.8 M331.00 423.21 h4.8 M331.00 419.34 h4.8 M331.00 416.33 h4.8 M331.00 413.88 h4.8 M331.00 411.80 h4.8 M331.00 410.00 h4.8 M331.00 408.42 h4.8 M331.00 407.00 h8.5 M331.00 397.67 h4.8 M331.00 392.21 h4.8 M331.00 388.34 h4.8 M331.00 385.33 h4.8 M331.00 382.88 h4.8 M331.00 380.80 h4.8 M331.00 379.00 h4.8 M331.00 377.42 h4.8 M331.00 376.00 h8.5 M331.00 366.67 h4.8 M331.00 361.21 h4.8 M331.00 357.34 h4.8 M331.00 354.33 h4.8 M331.00 351.88 h4.8 M331.00 349.80 h4.8 M331.00 348.00 h4.8 M331.00 346.42 h4.8 M331.00 345.00 h8.5 M331.00 335.67 h4.8 M331.00 330.21 h4.8 M331.00 326.34 h4.8 M331.00 323.33 h4.8 M331.00 320.88 h4.8 M331.00 318.80 h4.8 M331.00 317.00 h4.8 M331.00 315.42 h4.8 M331.00 314.00 h8.5 M331.00 304.67 h4.8 M331.00 299.21 h4.8 M331.00 295.34 h4.8 M331.00 292.33 h4.8 M331.00 289.88 h4.8 M331.00 287.80 h4.8 M331.00 286.00 h4.8 M331.00 284.42 h4.8 M338.03 562.00 v-4.3 M345.25 562.00 v-4.3 M352.48 562.00 v-4.3 M359.70 562.00 v-4.3 M366.93 562.00 v-8.5 M374.15 562.00 v-4.3 M381.38 562.00 v-4.3 M388.60 562.00 v-4.3 M395.82 562.00 v-4.3 M403.05 562.00 v-8.5 M410.27 562.00 v-4.3 M417.50 562.00 v-4.3 M424.73 562.00 v-4.3 M431.95 562.00 v-4.3 M439.18 562.00 v-8.5 M446.40 562.00 v-4.3 M453.62 562.00 v-4.3 M460.85 562.00 v-4.3 M468.08 562.00 v-4.3 M475.30 562.00 v-8.5 M482.52 562.00 v-4.3 M489.75 562.00 v-4.3 M496.98 562.00 v-4.3 M504.20 562.00 v-4.3 M511.43 562.00 v-8.5 M518.65 562.00 v-4.3 M525.88 562.00 v-4.3 M533.10 562.00 v-4.3 M540.33 562.00 v-4.3 M547.55 562.00 v-8.5 M554.77 562.00 v-4.3 M562.00 562.00 v-4.3 M569.23 562.00 v-4.3 M576.45 562.00 v-4.3 M583.67 562.00 v-8.5 M590.90 562.00 v-4.3 M598.12 562.00 v-4.3 M605.35 562.00 v-4.3 M612.58 562.00 v-4.3" stroke="#222" stroke-width="1.0" fill="none"/>
<line x1="42.20" y1="4.00" x2="620.00" y2="4.00" stroke="#222" stroke-width="1.5"/>
<line x1="42.20" y1="283.00" x2="620.00" y2="283.00" stroke="#222" stroke-width="1.5"/>
<line x1="42.20" y1="562.00" x2="620.00" y2="562.00" stroke="#222" stroke-width="1.5"/>
<line x1="43.00" y1="4.00" x2="43.00" y2="562.00" stroke="#222" stroke-width="1.5"/>
<line x1="331.00" y1="4.00" x2="331.00" y2="562.00" stroke="#222" stroke-width="1.5"/>
<line x1="619.30" y1="4.00" x2="619.30" y2="562.00" stroke="#222" stroke-width="1.5"/>
<text x="40.80" y="39.50" font-size="11" font-family="Liberation Sans, sans-serif" text-anchor="end" >1</text>
<text x="18.10" y="70.50" font-size="11" font-family="Liberation Sans, sans-serif" text-anchor="start" textLength="11.50" lengthAdjust="spacingAndGlyphs" >10</text>
<text x="30.20" y="65.30" font-size="7.5" font-family="Liberation Sans, sans-serif" text-anchor="start" textLength="7.70" lengthAdjust="spacingAndGlyphs" >−1</text>
<text x="18.10" y="101.50" font-size="11" font-family="Liberation Sans, sans-serif" text-anchor="start" textLength="11.50" lengthAdjust="spacingAndGlyphs" >10</text>
<text x="30.20" y="96.30" font-size="7.5" font-family="Liberation Sans, sans-serif" text-anchor="start" textLength="7.70" lengthAdjust="spacingAndGlyphs" >−2</text>
<text x="18.10" y="132.50" font-size="11" font-family="Liberation Sans, sans-serif" text-anchor="start" textLength="11.50" lengthAdjust="spacingAndGlyphs" >10</text>
<text x="30.20" y="127.30" font-size="7.5" font-family="Liberation Sans, sans-serif" text-anchor="start" textLength="7.70" lengthAdjust="spacingAndGlyphs" >−3</text>
<text x="18.10" y="163.50" font-size="11" font-family="Liberation Sans, sans-serif" text-anchor="start" textLength="11.50" lengthAdjust="spacingAndGlyphs" >10</text>
<text x="30.20" y="158.30" font-size="7.5" font-family="Liberation Sans, sans-serif" text-anchor="start" textLength="7.70" lengthAdjust="spacingAndGlyphs" >−4</text>
<text x="18.10" y="194.50" font-size="11" font-family="Liberation Sans, sans-serif" text-anchor="start" textLength="11.50" lengthAdjust="spacingAndGlyphs" >10</text>
<text x="30.20" y="189.30" font-size="7.5" font-family="Liberation Sans, sans-serif" text-anchor="start" textLength="7.70" lengthAdjust="spacingAndGlyphs" >−5</text>
<text x="18.10" y="225.50" font-size="11" font-family="Liberation Sans, sans-serif" text-anchor="start" textLength="11.50" lengthAdjust="spacingAndGlyphs" >10</text>
<text x="30.20" y="220.30" font-size="7.5" font-family="Liberation Sans, sans-serif" text-anchor="start" textLength="7.70" lengthAdjust="spacingAndGlyphs" >−6</text>
<text x="18.10" y="256.50" font-size="11" font-family="Liberation Sans, sans-serif" text-anchor="start" textLength="11.50" lengthAdjust="spacingAndGlyphs" >10</text>
<text x="30.20" y="251.30" font-size="7.5" font-family="Liberation Sans, sans-serif" text-anchor="start" textLength="7.70" lengthAdjust="spacingAndGlyphs" >−7</text>
<g transform="translate(11.5,91.20) rotate(-90)">
<text x="-0.30" y="0.00" font-size="12" font-family="Liberation Sans, sans-serif" text-anchor="start" textLength="34.60" lengthAdjust="spacingAndGlyphs" >dσ / dp</text>
<text x="36.00" y="5.60" font-size="7.4" font-family="Liberation Sans, sans-serif" text-anchor="start" textLength="3.20" lengthAdjust="spacingAndGlyphs" >T</text>
<text x="42.30" y="0.00" font-size="12" font-family="Liberation Sans, sans-serif" text-anchor="start" textLength="26.40" lengthAdjust="spacingAndGlyphs" >(a.u.)</text>
</g>
<text x="40.80" y="318.50" font-size="11.8" font-family="Liberation Sans, sans-serif" text-anchor="end" >1</text>
<text x="17.70" y="349.50" font-size="11.8" font-family="Liberation Sans, sans-serif" text-anchor="start" textLength="11.50" lengthAdjust="spacingAndGlyphs" >10</text>
<text x="30.20" y="344.30" font-size="7.5" font-family="Liberation Sans, sans-serif" text-anchor="start" textLength="7.70" lengthAdjust="spacingAndGlyphs" >−1</text>
<text x="17.70" y="380.50" font-size="11.8" font-family="Liberation Sans, sans-serif" text-anchor="start" textLength="11.50" lengthAdjust="spacingAndGlyphs" >10</text>
<text x="30.20" y="375.30" font-size="7.5" font-family="Liberation Sans, sans-serif" text-anchor="start" textLength="7.70" lengthAdjust="spacingAndGlyphs" >−2</text>
<text x="17.70" y="411.50" font-size="11.8" font-family="Liberation Sans, sans-serif" text-anchor="start" textLength="11.50" lengthAdjust="spacingAndGlyphs" >10</text>
<text x="30.20" y="406.30" font-size="7.5" font-family="Liberation Sans, sans-serif" text-anchor="start" textLength="7.70" lengthAdjust="spacingAndGlyphs" >−3</text>
<text x="17.70" y="442.50" font-size="11.8" font-family="Liberation Sans, sans-serif" text-anchor="start" textLength="11.50" lengthAdjust="spacingAndGlyphs" >10</text>
<text x="30.20" y="437.30" font-size="7.5" font-family="Liberation Sans, sans-serif" text-anchor="start" textLength="7.70" lengthAdjust="spacingAndGlyphs" >−4</text>
<text x="17.70" y="473.50" font-size="11.8" font-family="Liberation Sans, sans-serif" text-anchor="start" textLength="11.50" lengthAdjust="spacingAndGlyphs" >10</text>
<text x="30.20" y="468.30" font-size="7.5" font-family="Liberation Sans, sans-serif" text-anchor="start" textLength="7.70" lengthAdjust="spacingAndGlyphs" >−5</text>
<text x="17.70" y="504.50" font-size="11.8" font-family="Liberation Sans, sans-serif" text-anchor="start" textLength="11.50" lengthAdjust="spacingAndGlyphs" >10</text>
<text x="30.20" y="499.30" font-size="7.5" font-family="Liberation Sans, sans-serif" text-anchor="start" textLength="7.70" lengthAdjust="spacingAndGlyphs" >−6</text>
<text x="17.70" y="535.50" font-size="11.8" font-family="Liberation Sans, sans-serif" text-anchor="start" textLength="11.50" lengthAdjust="spacingAndGlyphs" >10</text>
<text x="30.20" y="530.30" font-size="7.5" font-family="Liberation Sans, sans-serif" text-anchor="start" textLength="7.70" lengthAdjust="spacingAndGlyphs" >−7</text>
<g transform="translate(11.5,373.90) rotate(-90)">
<text x="-0.30" y="0.00" font-size="12" font-family="Liberation Sans, sans-serif" text-anchor="start" textLength="34.60" lengthAdjust="spacingAndGlyphs" >dσ / dp</text>
<text x="36.00" y="5.60" font-size="7.4" font-family="Liberation Sans, sans-serif" text-anchor="start" textLength="3.20" lengthAdjust="spacingAndGlyphs" >T</text>
<text x="42.30" y="0.00" font-size="12" font-family="Liberation Sans, sans-serif" text-anchor="start" textLength="26.40" lengthAdjust="spacingAndGlyphs" >(a.u.)</text>
</g>
<text x="79.08" y="572.30" font-size="11.7" font-family="Liberation Sans, sans-serif" text-anchor="middle" >5</text>
<text x="115.20" y="572.30" font-size="11.7" font-family="Liberation Sans, sans-serif" text-anchor="middle" >10</text>
<text x="151.32" y="572.30" font-size="11.7" font-family="Liberation Sans, sans-serif" text-anchor="middle" >15</text>
<text x="187.45" y="572.30" font-size="11.7" font-family="Liberation Sans, sans-serif" text-anchor="middle" >20</text>
<text x="223.57" y="572.30" font-size="11.7" font-family="Liberation Sans, sans-serif" text-anchor="middle" >25</text>
<text x="259.70" y="572.30" font-size="11.7" font-family="Liberation Sans, sans-serif" text-anchor="middle" >30</text>
<text x="295.82" y="572.30" font-size="11.7" font-family="Liberation Sans, sans-serif" text-anchor="middle" >35</text>
<text x="306.80" y="582.00" font-size="11" font-family="Liberation Sans, sans-serif" text-anchor="start" >p</text>
<text x="313.60" y="587.60" font-size="7.5" font-family="Liberation Sans, sans-serif" text-anchor="start" >T</text>
<text x="318.40" y="582.00" font-size="11" font-family="Liberation Sans, sans-serif" text-anchor="start" textLength="11.80" lengthAdjust="spacingAndGlyphs" >/M</text>
<text x="367.12" y="572.30" font-size="11.7" font-family="Liberation Sans, sans-serif" text-anchor="middle" >5</text>
<text x="403.25" y="572.30" font-size="11.7" font-family="Liberation Sans, sans-serif" text-anchor="middle" >10</text>
<text x="439.38" y="572.30" font-size="11.7" font-family="Liberation Sans, sans-serif" text-anchor="middle" >15</text>
<text x="475.50" y="572.30" font-size="11.7" font-family="Liberation Sans, sans-serif" text-anchor="middle" >20</text>
<text x="511.62" y="572.30" font-size="11.7" font-family="Liberation Sans, sans-serif" text-anchor="middle" >25</text>
<text x="547.75" y="572.30" font-size="11.7" font-family="Liberation Sans, sans-serif" text-anchor="middle" >30</text>
<text x="583.88" y="572.30" font-size="11.7" font-family="Liberation Sans, sans-serif" text-anchor="middle" >35</text>
<text x="595.10" y="582.00" font-size="11" font-family="Liberation Sans, sans-serif" text-anchor="start" >p</text>
<text x="601.90" y="587.60" font-size="7.5" font-family="Liberation Sans, sans-serif" text-anchor="start" >T</text>
<text x="606.70" y="582.00" font-size="11" font-family="Liberation Sans, sans-serif" text-anchor="start" textLength="11.80" lengthAdjust="spacingAndGlyphs" >/M</text>
<rect x="56.70" y="230.90" width="18.5" height="9.4" fill="#a9c7f6"/>
<line x1="56.70" y1="235.60" x2="75.20" y2="235.60" stroke="#2030ff" stroke-width="1.3"/>
<rect x="56.70" y="252.20" width="18.5" height="9.4" fill="#e6bdf5"/>
<line x1="56.70" y1="256.90" x2="75.20" y2="256.90" stroke="#a226ba" stroke-width="1.3"/>
<text x="84.20" y="240.30" font-size="13" font-family="Liberation Sans, sans-serif" text-anchor="start" textLength="79.80" lengthAdjust="spacingAndGlyphs" >NRQCD 1 (x 5)</text>
<text x="84.20" y="262.00" font-size="13" font-family="Liberation Sans, sans-serif" text-anchor="start" textLength="89.80" lengthAdjust="spacingAndGlyphs" >NRQCD 2 (x 0.2)</text>
<rect x="345.40" y="230.90" width="18.5" height="9.4" fill="#a9c7f6"/>
<line x1="345.40" y1="235.60" x2="363.90" y2="235.60" stroke="#2030ff" stroke-width="1.3"/>
<rect x="345.40" y="252.20" width="18.5" height="9.4" fill="#e6bdf5"/>
<line x1="345.40" y1="256.90" x2="363.90" y2="256.90" stroke="#a226ba" stroke-width="1.3"/>
<text x="372.90" y="240.30" font-size="13" font-family="Liberation Sans, sans-serif" text-anchor="start" textLength="79.80" lengthAdjust="spacingAndGlyphs" >NRQCD 1 (x 5)</text>
<text x="372.90" y="262.00" font-size="13" font-family="Liberation Sans, sans-serif" text-anchor="start" textLength="96.50" lengthAdjust="spacingAndGlyphs" >NRQCD 2 (x 0.05)</text>
<rect x="56.70" y="509.90" width="18.5" height="9.4" fill="#a9c7f6"/>
<line x1="56.70" y1="514.60" x2="75.20" y2="514.60" stroke="#2030ff" stroke-width="1.3"/>
<rect x="56.70" y="531.20" width="18.5" height="9.4" fill="#e6bdf5"/>
<line x1="56.70" y1="535.90" x2="75.20" y2="535.90" stroke="#a226ba" stroke-width="1.3"/>
<text x="84.20" y="519.30" font-size="13" font-family="Liberation Sans, sans-serif" text-anchor="start" textLength="79.80" lengthAdjust="spacingAndGlyphs" >NRQCD 1 (x 5)</text>
<text x="84.20" y="541.00" font-size="13" font-family="Liberation Sans, sans-serif" text-anchor="start" textLength="89.80" lengthAdjust="spacingAndGlyphs" >NRQCD 2 (x 0.2)</text>
<rect x="345.40" y="509.90" width="18.5" height="9.4" fill="#a9c7f6"/>
<line x1="345.40" y1="514.60" x2="363.90" y2="514.60" stroke="#2030ff" stroke-width="1.3"/>
<rect x="345.40" y="531.20" width="18.5" height="9.4" fill="#e6bdf5"/>
<line x1="345.40" y1="535.90" x2="363.90" y2="535.90" stroke="#a226ba" stroke-width="1.3"/>
<text x="372.90" y="519.30" font-size="13" font-family="Liberation Sans, sans-serif" text-anchor="start" textLength="79.80" lengthAdjust="spacingAndGlyphs" >NRQCD 1 (x 5)</text>
<text x="372.90" y="541.00" font-size="13" font-family="Liberation Sans, sans-serif" text-anchor="start" textLength="89.80" lengthAdjust="spacingAndGlyphs" >NRQCD 2 (x 0.2)</text>
<text x="223.80" y="45.40" font-size="13" font-family="Liberation Sans, sans-serif" text-anchor="start" textLength="63.40" lengthAdjust="spacingAndGlyphs" >Unpolarized</text>
<text x="291.20" y="45.40" font-size="13" font-family="Liberation Serif, sans-serif" text-anchor="start" >ψ</text>
<line x1="196.90" y1="79.80" x2="215.00" y2="79.80" stroke="#000" stroke-width="1.3" stroke-dasharray="4.5 2.3"/>
<text x="224.00" y="76.90" font-size="9.5" font-family="Liberation Sans, sans-serif" text-anchor="start" textLength="4.40" lengthAdjust="spacingAndGlyphs" >1</text>
<text x="228.60" y="83.20" font-size="13" font-family="Liberation Sans, sans-serif" text-anchor="start" textLength="6.90" lengthAdjust="spacingAndGlyphs" >S</text>
<text x="235.60" y="88.00" font-size="9.5" font-family="Liberation Sans, sans-serif" text-anchor="start" textLength="4.70" lengthAdjust="spacingAndGlyphs" >0</text>
<text x="236.10" y="76.90" font-size="9.5" font-family="Liberation Sans, sans-serif" text-anchor="start" textLength="10.80" lengthAdjust="spacingAndGlyphs" >[8]</text>
<text x="251.20" y="83.20" font-size="13" font-family="Liberation Sans, sans-serif" text-anchor="start" textLength="21.30" lengthAdjust="spacingAndGlyphs" >SDC</text>
<text x="514.40" y="45.40" font-size="13" font-family="Liberation Sans, sans-serif" text-anchor="start" textLength="47.60" lengthAdjust="spacingAndGlyphs" >Polarized</text>
<text x="566.00" y="45.40" font-size="13" font-family="Liberation Serif, sans-serif" text-anchor="start" >ψ</text>
<line x1="487.40" y1="79.00" x2="505.50" y2="79.00" stroke="#000" stroke-width="1.3" stroke-dasharray="4.5 2.3"/>
<text x="514.50" y="75.40" font-size="9.5" font-family="Liberation Sans, sans-serif" text-anchor="start" textLength="4.40" lengthAdjust="spacingAndGlyphs" >3</text>
<text x="519.10" y="81.70" font-size="13" font-family="Liberation Sans, sans-serif" text-anchor="start" textLength="6.90" lengthAdjust="spacingAndGlyphs" >S</text>
<text x="526.10" y="86.50" font-size="9.5" font-family="Liberation Sans, sans-serif" text-anchor="start" textLength="4.70" lengthAdjust="spacingAndGlyphs" >1</text>
<text x="526.60" y="75.40" font-size="9.5" font-family="Liberation Sans, sans-serif" text-anchor="start" textLength="10.80" lengthAdjust="spacingAndGlyphs" >[8]</text>
<text x="541.90" y="81.70" font-size="13" font-family="Liberation Sans, sans-serif" text-anchor="start" textLength="21.20" lengthAdjust="spacingAndGlyphs" >SDC</text>
<line x1="487.4" y1="108.7" x2="507" y2="108.7" stroke="#000" stroke-width="1.0" stroke-dasharray="1 1.2"/>
<line x1="487.4" y1="111.3" x2="507" y2="111.3" stroke="#000" stroke-width="1.0" stroke-dasharray="3 1.5 1 1.5"/>
<text x="514.50" y="108.50" font-size="9.5" font-family="Liberation Sans, sans-serif" text-anchor="start" textLength="4.40" lengthAdjust="spacingAndGlyphs" >3</text>
<text x="519.10" y="114.80" font-size="13" font-family="Liberation Sans, sans-serif" text-anchor="start" textLength="6.90" lengthAdjust="spacingAndGlyphs" >S</text>
<text x="526.10" y="119.60" font-size="9.5" font-family="Liberation Sans, sans-serif" text-anchor="start" textLength="4.70" lengthAdjust="spacingAndGlyphs" >1</text>
<text x="526.60" y="108.50" font-size="9.5" font-family="Liberation Sans, sans-serif" text-anchor="start" textLength="10.80" lengthAdjust="spacingAndGlyphs" >[8]</text>
<text x="538.70" y="114.80" font-size="13" font-family="Liberation Sans, sans-serif" text-anchor="start" textLength="7.40" lengthAdjust="spacingAndGlyphs" >+</text>
<text x="546.50" y="108.50" font-size="9.5" font-family="Liberation Sans, sans-serif" text-anchor="start" textLength="4.40" lengthAdjust="spacingAndGlyphs" >3</text>
<text x="551.10" y="114.80" font-size="13" font-family="Liberation Sans, sans-serif" text-anchor="start" textLength="6.90" lengthAdjust="spacingAndGlyphs" >P</text>
<text x="558.10" y="119.60" font-size="9.5" font-family="Liberation Sans, sans-serif" text-anchor="start" textLength="4.70" lengthAdjust="spacingAndGlyphs" >J</text>
<text x="558.60" y="108.50" font-size="9.5" font-family="Liberation Sans, sans-serif" text-anchor="start" textLength="10.80" lengthAdjust="spacingAndGlyphs" >[8]</text>
<text x="575.50" y="114.80" font-size="13" font-family="Liberation Sans, sans-serif" text-anchor="start" textLength="21.20" lengthAdjust="spacingAndGlyphs" >SDC</text>
<g transform="translate(0.00,0)" fill="none" stroke="#111" stroke-linecap="round"><path d="M224.4 319.1 q1.2 -1.2 2.1 0.7 l2.9 6.1 q0.9 1.6 1.8 0.6" stroke-width="1.15"/><path d="M230.8 318.3 L224.5 326.8" stroke-width="1.0"/></g>
<text x="232.10" y="333.90" font-size="10" font-family="Liberation Sans, sans-serif" text-anchor="start" textLength="8.30" lengthAdjust="spacingAndGlyphs" >c1</text>
<rect x="197.60" y="387.5" width="19.3" height="3.4" fill="#fff" stroke="#000" stroke-width="1"/>
<text x="224.30" y="387.60" font-size="9.5" font-family="Liberation Sans, sans-serif" text-anchor="start" textLength="4.40" lengthAdjust="spacingAndGlyphs" >3</text>
<text x="228.90" y="393.90" font-size="13" font-family="Liberation Sans, sans-serif" text-anchor="start" textLength="6.90" lengthAdjust="spacingAndGlyphs" >S</text>
<text x="235.90" y="398.70" font-size="9.5" font-family="Liberation Sans, sans-serif" text-anchor="start" textLength="4.70" lengthAdjust="spacingAndGlyphs" >1</text>
<text x="236.40" y="387.60" font-size="9.5" font-family="Liberation Sans, sans-serif" text-anchor="start" textLength="10.80" lengthAdjust="spacingAndGlyphs" >[8]</text>
<text x="248.40" y="393.90" font-size="13" font-family="Liberation Sans, sans-serif" text-anchor="start" textLength="7.00" lengthAdjust="spacingAndGlyphs" >+</text>
<text x="256.40" y="387.60" font-size="9.5" font-family="Liberation Sans, sans-serif" text-anchor="start" textLength="4.40" lengthAdjust="spacingAndGlyphs" >3</text>
<text x="261.00" y="393.90" font-size="13" font-family="Liberation Sans, sans-serif" text-anchor="start" textLength="6.90" lengthAdjust="spacingAndGlyphs" >P</text>
<text x="268.00" y="398.70" font-size="9.5" font-family="Liberation Sans, sans-serif" text-anchor="start" textLength="4.70" lengthAdjust="spacingAndGlyphs" >1</text>
<text x="268.50" y="387.60" font-size="9.5" font-family="Liberation Sans, sans-serif" text-anchor="start" textLength="10.80" lengthAdjust="spacingAndGlyphs" >[1]</text>
<text x="284.40" y="393.90" font-size="13" font-family="Liberation Sans, sans-serif" text-anchor="start" textLength="21.20" lengthAdjust="spacingAndGlyphs" >SDC</text>
<g transform="translate(290.00,0)" fill="none" stroke="#111" stroke-linecap="round"><path d="M224.4 319.1 q1.2 -1.2 2.1 0.7 l2.9 6.1 q0.9 1.6 1.8 0.6" stroke-width="1.15"/><path d="M230.8 318.3 L224.5 326.8" stroke-width="1.0"/></g>
<text x="522.10" y="333.90" font-size="10" font-family="Liberation Sans, sans-serif" text-anchor="start" textLength="8.30" lengthAdjust="spacingAndGlyphs" >c2</text>
<rect x="487.60" y="387.5" width="19.3" height="3.4" fill="#fff" stroke="#000" stroke-width="1"/>
<text x="514.30" y="387.60" font-size="9.5" font-family="Liberation Sans, sans-serif" text-anchor="start" textLength="4.40" lengthAdjust="spacingAndGlyphs" >3</text>
<text x="518.90" y="393.90" font-size="13" font-family="Liberation Sans, sans-serif" text-anchor="start" textLength="6.90" lengthAdjust="spacingAndGlyphs" >S</text>
<text x="525.90" y="398.70" font-size="9.5" font-family="Liberation Sans, sans-serif" text-anchor="start" textLength="4.70" lengthAdjust="spacingAndGlyphs" >1</text>
<text x="526.40" y="387.60" font-size="9.5" font-family="Liberation Sans, sans-serif" text-anchor="start" textLength="10.80" lengthAdjust="spacingAndGlyphs" >[8]</text>
<text x="538.40" y="393.90" font-size="13" font-family="Liberation Sans, sans-serif" text-anchor="start" textLength="7.00" lengthAdjust="spacingAndGlyphs" >+</text>
<text x="546.40" y="387.60" font-size="9.5" font-family="Liberation Sans, sans-serif" text-anchor="start" textLength="4.40" lengthAdjust="spacingAndGlyphs" >3</text>
<text x="551.00" y="393.90" font-size="13" font-family="Liberation Sans, sans-serif" text-anchor="start" textLength="6.90" lengthAdjust="spacingAndGlyphs" >P</text>
<text x="558.00" y="398.70" font-size="9.5" font-family="Liberation Sans, sans-serif" text-anchor="start" textLength="4.70" lengthAdjust="spacingAndGlyphs" >2</text>
<text x="558.50" y="387.60" font-size="9.5" font-family="Liberation Sans, sans-serif" text-anchor="start" textLength="10.80" lengthAdjust="spacingAndGlyphs" >[1]</text>
<text x="574.40" y="393.90" font-size="13" font-family="Liberation Sans, sans-serif" text-anchor="start" textLength="21.20" lengthAdjust="spacingAndGlyphs" >SDC</text>
</svg></body></html>
